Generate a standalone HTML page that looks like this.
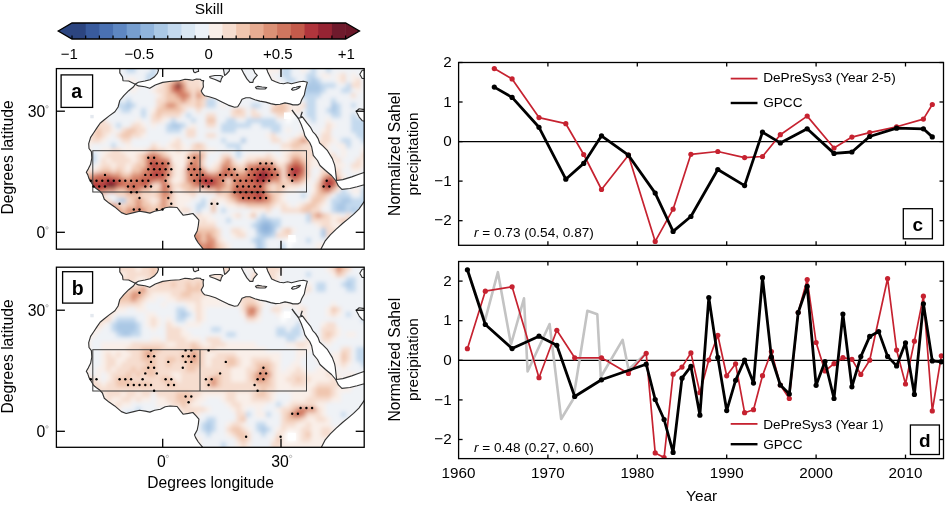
<!DOCTYPE html>
<html><head><meta charset="utf-8"><style>
html,body{margin:0;padding:0;background:#fff;width:946px;height:505px;overflow:hidden}
svg{display:block;font-family:"Liberation Sans",sans-serif}
text{opacity:0.999}
</style></head><body>
<svg width="946" height="505" viewBox="0 0 946 505">
<rect width="946" height="505" fill="#fff"/>
<rect x="72.00" y="23" width="14.68" height="16" fill="#2c4580"/>
<rect x="85.68" y="23" width="14.68" height="16" fill="#395b9d"/>
<rect x="99.36" y="23" width="14.68" height="16" fill="#4a71b2"/>
<rect x="113.04" y="23" width="14.68" height="16" fill="#5e87c2"/>
<rect x="126.72" y="23" width="14.68" height="16" fill="#769ecf"/>
<rect x="140.40" y="23" width="14.68" height="16" fill="#90b4dc"/>
<rect x="154.08" y="23" width="14.68" height="16" fill="#aac8e5"/>
<rect x="167.76" y="23" width="14.68" height="16" fill="#c3d9ee"/>
<rect x="181.44" y="23" width="14.68" height="16" fill="#d9e7f3"/>
<rect x="195.12" y="23" width="14.68" height="16" fill="#ecf2f8"/>
<rect x="208.80" y="23" width="14.68" height="16" fill="#f9efe9"/>
<rect x="222.48" y="23" width="14.68" height="16" fill="#f6ddcf"/>
<rect x="236.16" y="23" width="14.68" height="16" fill="#f0c6af"/>
<rect x="249.84" y="23" width="14.68" height="16" fill="#e7ac92"/>
<rect x="263.52" y="23" width="14.68" height="16" fill="#dc9176"/>
<rect x="277.20" y="23" width="14.68" height="16" fill="#d0765f"/>
<rect x="290.88" y="23" width="14.68" height="16" fill="#c45b4b"/>
<rect x="304.56" y="23" width="14.68" height="16" fill="#b0353c"/>
<rect x="318.24" y="23" width="14.68" height="16" fill="#962433"/>
<rect x="331.92" y="23" width="13.68" height="16" fill="#6f1a2c"/>
<polygon points="72.0,23 58.2,31 72.0,39" fill="#2c4580"/>
<polygon points="345.10,23 359.5,31 345.10,39" fill="#6a1628"/>
<polygon points="58.2,31 72.0,23 345.60,23 359.5,31 345.60,39 72.0,39" fill="none" stroke="#000" stroke-width="1.3" stroke-linejoin="miter"/>
<line x1="72.00" y1="39" x2="72.00" y2="35.5" stroke="#000" stroke-width="1.2"/>
<line x1="85.68" y1="39" x2="85.68" y2="35.5" stroke="#000" stroke-width="1.2"/>
<line x1="99.36" y1="39" x2="99.36" y2="35.5" stroke="#000" stroke-width="1.2"/>
<line x1="113.04" y1="39" x2="113.04" y2="35.5" stroke="#000" stroke-width="1.2"/>
<line x1="126.72" y1="39" x2="126.72" y2="35.5" stroke="#000" stroke-width="1.2"/>
<line x1="140.40" y1="39" x2="140.40" y2="35.5" stroke="#000" stroke-width="1.2"/>
<line x1="154.08" y1="39" x2="154.08" y2="35.5" stroke="#000" stroke-width="1.2"/>
<line x1="167.76" y1="39" x2="167.76" y2="35.5" stroke="#000" stroke-width="1.2"/>
<line x1="181.44" y1="39" x2="181.44" y2="35.5" stroke="#000" stroke-width="1.2"/>
<line x1="195.12" y1="39" x2="195.12" y2="35.5" stroke="#000" stroke-width="1.2"/>
<line x1="208.80" y1="39" x2="208.80" y2="35.5" stroke="#000" stroke-width="1.2"/>
<line x1="222.48" y1="39" x2="222.48" y2="35.5" stroke="#000" stroke-width="1.2"/>
<line x1="236.16" y1="39" x2="236.16" y2="35.5" stroke="#000" stroke-width="1.2"/>
<line x1="249.84" y1="39" x2="249.84" y2="35.5" stroke="#000" stroke-width="1.2"/>
<line x1="263.52" y1="39" x2="263.52" y2="35.5" stroke="#000" stroke-width="1.2"/>
<line x1="277.20" y1="39" x2="277.20" y2="35.5" stroke="#000" stroke-width="1.2"/>
<line x1="290.88" y1="39" x2="290.88" y2="35.5" stroke="#000" stroke-width="1.2"/>
<line x1="304.56" y1="39" x2="304.56" y2="35.5" stroke="#000" stroke-width="1.2"/>
<line x1="318.24" y1="39" x2="318.24" y2="35.5" stroke="#000" stroke-width="1.2"/>
<line x1="331.92" y1="39" x2="331.92" y2="35.5" stroke="#000" stroke-width="1.2"/>
<line x1="345.60" y1="39" x2="345.60" y2="35.5" stroke="#000" stroke-width="1.2"/>
<text x="69.2" y="59.2" text-anchor="middle" font-size="15">−1</text>
<text x="139.2" y="59.2" text-anchor="middle" font-size="15">−0.5</text>
<text x="208.7" y="59.2" text-anchor="middle" font-size="15">0</text>
<text x="277.9" y="59.2" text-anchor="middle" font-size="15">+0.5</text>
<text x="346.2" y="59.2" text-anchor="middle" font-size="15">+1</text>
<text x="209" y="13.6" text-anchor="middle" font-size="15.5">Skill</text>
<defs><clipPath id="landa">
<polygon points="266.0,60.0 266.7,69.0 267.7,71.9 269.7,75.9 271.7,79.9 275.6,81.8 279.6,83.3 283.6,83.8 287.5,82.8 291.5,83.8 295.4,82.8 299.4,81.8 303.4,81.3 307.3,82.3 306.3,85.8 305.3,89.8 304.3,95.0 301.8,99.5 300.3,103.4 297.8,104.9 292.9,104.9 289.9,103.9 285.0,102.9 280.0,104.2 275.6,104.6 270.7,103.6 265.7,102.1 259.8,101.1 254.9,99.7 249.9,97.7 245.9,97.7 242.0,99.3 240.4,102.5 237.7,106.7 234.6,107.2 228.2,105.1 221.9,102.0 215.5,98.8 209.2,96.7 204.7,95.8 202.4,93.3 201.2,91.0 203.4,86.9 203.1,82.8 203.7,80.6 201.8,80.6 200.2,79.3 196.4,79.0 192.6,80.3 188.8,79.6 185.0,79.3 179.6,80.8 171.1,81.3 162.7,82.4 155.3,85.0 149.8,88.3 144.9,86.7 138.4,85.9 135.2,84.2 133.6,86.7 128.7,90.7 123.8,95.6 119.8,100.5 118.1,107.0 114.9,111.8 109.2,115.9 104.0,120.0 100.1,123.2 96.9,127.9 93.7,132.7 90.6,137.4 88.7,143.7 89.0,148.5 91.4,151.7 91.8,158.0 90.6,164.3 88.2,169.1 86.3,172.2 87.7,174.6 89.0,178.6 90.9,181.7 93.7,186.5 96.5,188.8 99.3,190.7 102.4,194.0 104.3,199.3 109.0,203.1 114.7,206.9 121.4,212.6 126.2,214.5 133.8,212.6 139.5,211.2 145.2,212.1 149.9,213.1 154.7,211.2 160.4,210.2 165.2,207.8 170.0,207.0 177.1,207.5 180.4,211.9 183.1,215.2 188.5,214.4 192.9,213.5 196.1,216.8 198.9,220.1 198.3,225.5 197.2,231.0 194.5,235.9 195.6,238.6 198.3,243.0 202.7,248.4 205.0,256.0 318.0,256.0 321.4,248.3 325.0,241.2 330.3,234.9 335.7,229.6 342.8,223.3 348.2,218.9 353.5,214.4 358.9,209.1 363.3,202.8 366.0,199.0 370.0,199.0 370.0,185.0 363.3,185.0 357.1,186.8 349.9,188.5 341.9,189.4 338.4,185.9 335.7,180.5 331.5,175.5 325.5,170.5 320.0,165.5 317.5,160.5 313.3,155.4 311.7,147.0 309.7,142.5 306.7,138.6 304.8,135.6 303.8,131.6 301.3,124.7 298.3,118.3 302.8,117.3 306.7,122.7 310.7,127.7 312.7,131.6 315.6,134.6 318.1,138.6 319.6,143.0 322.8,145.9 327.5,150.7 332.3,158.6 334.6,164.9 335.2,168.0 335.7,172.5 336.6,180.5 342.8,179.6 351.7,176.9 358.9,174.3 363.3,172.8 370.0,171.0 370.0,122.0 362.2,120.7 359.2,117.1 356.8,112.4 356.3,111.2 359.2,108.8 362.8,109.4 370.0,109.5 370.0,78.5 362.2,78.5 359.8,74.3 362.2,70.2 370.0,70.0 370.0,60.0"/>
<polygon points="119.8,60.0 119.8,72.9 122.5,76.9 123.0,80.7 128.7,81.0 135.2,84.2 138.4,82.3 144.9,81.0 150.0,79.7 154.2,77.1 157.4,73.4 158.5,70.2 157.9,68.6 157.5,60.0"/>
<polygon points="241.5,60.0 241.5,69.0 244.0,73.9 246.9,78.9 249.9,82.3 252.9,82.3 253.4,79.9 255.8,76.9 257.3,75.4 254.9,72.9 253.9,70.5 252.9,69.0 253.0,60.0"/>
<polygon points="223.4,60.0 223.4,69.0 224.0,72.0 224.6,75.5 226.5,74.0 229.4,70.8 228.8,60.0"/>
<polygon points="209.7,76.5 210.0,77.7 215.0,79.5 220.5,81.9 221.5,78.4 223.0,76.5 220.5,75.5 214.8,75.5"/>
<polygon points="193.2,60.0 193.2,69.2 193.6,71.7 195.1,72.7 197.0,71.7 198.6,71.4 198.3,69.2 198.3,60.0"/>
<polygon points="255.5,87.3 258.0,86.4 262.0,87.0 266.7,87.5 265.0,89.0 260.0,89.0 256.5,88.6"/>
<polygon points="291.5,89.5 293.0,87.8 296.0,87.3 298.5,86.6 300.4,86.3 299.0,88.0 296.0,89.5 293.0,90.3"/>
</clipPath>
<clipPath id="framea"><rect x="56.4" y="68.6" width="307.8" height="180.6"/></clipPath>
<filter id="blura" x="0" y="0" width="946" height="505" filterUnits="userSpaceOnUse"><feGaussianBlur stdDeviation="1.9"/></filter>
</defs>
<g clip-path="url(#framea)"><g clip-path="url(#landa)">
<g filter="url(#blura)">
<rect x="46" y="58" width="80" height="5" fill="#eff2f6"/><rect x="126" y="58" width="10" height="5" fill="#c3d9ee"/><rect x="136" y="58" width="15" height="5" fill="#eff2f6"/><rect x="151" y="58" width="5" height="5" fill="#c3d9ee"/><rect x="156" y="58" width="10" height="5" fill="#eff2f6"/><rect x="166" y="58" width="10" height="5" fill="#f0c6af"/><rect x="176" y="58" width="5" height="5" fill="#f9efe9"/><rect x="181" y="58" width="85" height="5" fill="#eff2f6"/><rect x="266" y="58" width="15" height="5" fill="#f9efe9"/><rect x="281" y="58" width="10" height="5" fill="#c3d9ee"/><rect x="291" y="58" width="10" height="5" fill="#eff2f6"/><rect x="301" y="58" width="5" height="5" fill="#f9efe9"/><rect x="306" y="58" width="5" height="5" fill="#eff2f6"/><rect x="311" y="58" width="5" height="5" fill="#c3d9ee"/><rect x="316" y="58" width="10" height="5" fill="#eff2f6"/><rect x="326" y="58" width="5" height="5" fill="#c3d9ee"/><rect x="331" y="58" width="45" height="5" fill="#eff2f6"/><rect x="46" y="63" width="80" height="5" fill="#eff2f6"/><rect x="126" y="63" width="10" height="5" fill="#c3d9ee"/><rect x="136" y="63" width="15" height="5" fill="#eff2f6"/><rect x="151" y="63" width="5" height="5" fill="#c3d9ee"/><rect x="156" y="63" width="10" height="5" fill="#eff2f6"/><rect x="166" y="63" width="10" height="5" fill="#f0c6af"/><rect x="176" y="63" width="5" height="5" fill="#f9efe9"/><rect x="181" y="63" width="85" height="5" fill="#eff2f6"/><rect x="266" y="63" width="15" height="5" fill="#f9efe9"/><rect x="281" y="63" width="10" height="5" fill="#c3d9ee"/><rect x="291" y="63" width="10" height="5" fill="#eff2f6"/><rect x="301" y="63" width="5" height="5" fill="#f9efe9"/><rect x="306" y="63" width="5" height="5" fill="#eff2f6"/><rect x="311" y="63" width="5" height="5" fill="#c3d9ee"/><rect x="316" y="63" width="10" height="5" fill="#eff2f6"/><rect x="326" y="63" width="5" height="5" fill="#c3d9ee"/><rect x="331" y="63" width="45" height="5" fill="#eff2f6"/><rect x="46" y="68" width="80" height="5" fill="#eff2f6"/><rect x="126" y="68" width="10" height="5" fill="#c3d9ee"/><rect x="136" y="68" width="15" height="5" fill="#eff2f6"/><rect x="151" y="68" width="5" height="5" fill="#c3d9ee"/><rect x="156" y="68" width="10" height="5" fill="#eff2f6"/><rect x="166" y="68" width="10" height="5" fill="#f0c6af"/><rect x="176" y="68" width="5" height="5" fill="#f9efe9"/><rect x="181" y="68" width="85" height="5" fill="#eff2f6"/><rect x="266" y="68" width="15" height="5" fill="#f9efe9"/><rect x="281" y="68" width="10" height="5" fill="#c3d9ee"/><rect x="291" y="68" width="10" height="5" fill="#eff2f6"/><rect x="301" y="68" width="5" height="5" fill="#f9efe9"/><rect x="306" y="68" width="5" height="5" fill="#eff2f6"/><rect x="311" y="68" width="5" height="5" fill="#c3d9ee"/><rect x="316" y="68" width="10" height="5" fill="#eff2f6"/><rect x="326" y="68" width="5" height="5" fill="#c3d9ee"/><rect x="331" y="68" width="45" height="5" fill="#eff2f6"/><rect x="46" y="73" width="100" height="5" fill="#eff2f6"/><rect x="146" y="73" width="10" height="5" fill="#c3d9ee"/><rect x="156" y="73" width="5" height="5" fill="#eff2f6"/><rect x="161" y="73" width="5" height="5" fill="#f9efe9"/><rect x="166" y="73" width="5" height="5" fill="#f0c6af"/><rect x="171" y="73" width="5" height="5" fill="#e7ac92"/><rect x="176" y="73" width="5" height="5" fill="#f6ddcf"/><rect x="181" y="73" width="30" height="5" fill="#f9efe9"/><rect x="211" y="73" width="55" height="5" fill="#eff2f6"/><rect x="266" y="73" width="5" height="5" fill="#f9efe9"/><rect x="271" y="73" width="10" height="5" fill="#eff2f6"/><rect x="281" y="73" width="10" height="5" fill="#c3d9ee"/><rect x="291" y="73" width="15" height="5" fill="#eff2f6"/><rect x="306" y="73" width="10" height="5" fill="#c3d9ee"/><rect x="316" y="73" width="5" height="5" fill="#eff2f6"/><rect x="321" y="73" width="10" height="5" fill="#f9efe9"/><rect x="331" y="73" width="5" height="5" fill="#eff2f6"/><rect x="336" y="73" width="5" height="5" fill="#f9efe9"/><rect x="341" y="73" width="5" height="5" fill="#f6ddcf"/><rect x="346" y="73" width="5" height="5" fill="#eff2f6"/><rect x="351" y="73" width="5" height="5" fill="#f9efe9"/><rect x="356" y="73" width="20" height="5" fill="#eff2f6"/><rect x="46" y="78" width="80" height="5" fill="#eff2f6"/><rect x="126" y="78" width="10" height="5" fill="#f9efe9"/><rect x="136" y="78" width="10" height="5" fill="#eff2f6"/><rect x="146" y="78" width="5" height="5" fill="#c3d9ee"/><rect x="151" y="78" width="5" height="5" fill="#eff2f6"/><rect x="156" y="78" width="5" height="5" fill="#f9efe9"/><rect x="161" y="78" width="10" height="5" fill="#f6ddcf"/><rect x="171" y="78" width="5" height="5" fill="#f0c6af"/><rect x="176" y="78" width="5" height="5" fill="#dc9176"/><rect x="181" y="78" width="5" height="5" fill="#f0c6af"/><rect x="186" y="78" width="15" height="5" fill="#f6ddcf"/><rect x="201" y="78" width="5" height="5" fill="#f9efe9"/><rect x="206" y="78" width="5" height="5" fill="#f6ddcf"/><rect x="211" y="78" width="55" height="5" fill="#eff2f6"/><rect x="266" y="78" width="10" height="5" fill="#f9efe9"/><rect x="276" y="78" width="10" height="5" fill="#eff2f6"/><rect x="286" y="78" width="10" height="5" fill="#c3d9ee"/><rect x="296" y="78" width="10" height="5" fill="#eff2f6"/><rect x="306" y="78" width="5" height="5" fill="#c3d9ee"/><rect x="311" y="78" width="5" height="5" fill="#aac8e5"/><rect x="316" y="78" width="5" height="5" fill="#c3d9ee"/><rect x="321" y="78" width="15" height="5" fill="#eff2f6"/><rect x="336" y="78" width="5" height="5" fill="#f9efe9"/><rect x="341" y="78" width="5" height="5" fill="#f6ddcf"/><rect x="346" y="78" width="5" height="5" fill="#eff2f6"/><rect x="351" y="78" width="5" height="5" fill="#f9efe9"/><rect x="356" y="78" width="5" height="5" fill="#f6ddcf"/><rect x="361" y="78" width="15" height="5" fill="#eff2f6"/><rect x="46" y="83" width="80" height="5" fill="#eff2f6"/><rect x="126" y="83" width="15" height="5" fill="#f9efe9"/><rect x="141" y="83" width="15" height="5" fill="#eff2f6"/><rect x="156" y="83" width="5" height="5" fill="#f9efe9"/><rect x="161" y="83" width="5" height="5" fill="#f6ddcf"/><rect x="166" y="83" width="5" height="5" fill="#f0c6af"/><rect x="171" y="83" width="5" height="5" fill="#d0765f"/><rect x="176" y="83" width="5" height="5" fill="#6f1a2c"/><rect x="181" y="83" width="5" height="5" fill="#dc9176"/><rect x="186" y="83" width="15" height="5" fill="#f6ddcf"/><rect x="201" y="83" width="5" height="5" fill="#f9efe9"/><rect x="206" y="83" width="5" height="5" fill="#f6ddcf"/><rect x="211" y="83" width="5" height="5" fill="#f9efe9"/><rect x="216" y="83" width="50" height="5" fill="#eff2f6"/><rect x="266" y="83" width="15" height="5" fill="#f9efe9"/><rect x="281" y="83" width="20" height="5" fill="#eff2f6"/><rect x="301" y="83" width="5" height="5" fill="#c3d9ee"/><rect x="306" y="83" width="15" height="5" fill="#aac8e5"/><rect x="321" y="83" width="15" height="5" fill="#c3d9ee"/><rect x="336" y="83" width="10" height="5" fill="#eff2f6"/><rect x="346" y="83" width="5" height="5" fill="#c3d9ee"/><rect x="351" y="83" width="10" height="5" fill="#f6ddcf"/><rect x="361" y="83" width="15" height="5" fill="#eff2f6"/><rect x="46" y="88" width="85" height="5" fill="#eff2f6"/><rect x="131" y="88" width="5" height="5" fill="#f9efe9"/><rect x="136" y="88" width="15" height="5" fill="#eff2f6"/><rect x="151" y="88" width="5" height="5" fill="#f9efe9"/><rect x="156" y="88" width="10" height="5" fill="#f6ddcf"/><rect x="166" y="88" width="5" height="5" fill="#f0c6af"/><rect x="171" y="88" width="5" height="5" fill="#d0765f"/><rect x="176" y="88" width="5" height="5" fill="#c45b4b"/><rect x="181" y="88" width="5" height="5" fill="#dc9176"/><rect x="186" y="88" width="5" height="5" fill="#f0c6af"/><rect x="191" y="88" width="5" height="5" fill="#f6ddcf"/><rect x="196" y="88" width="5" height="5" fill="#f0c6af"/><rect x="201" y="88" width="5" height="5" fill="#f6ddcf"/><rect x="206" y="88" width="5" height="5" fill="#f9efe9"/><rect x="211" y="88" width="60" height="5" fill="#eff2f6"/><rect x="271" y="88" width="20" height="5" fill="#f9efe9"/><rect x="291" y="88" width="5" height="5" fill="#eff2f6"/><rect x="296" y="88" width="10" height="5" fill="#c3d9ee"/><rect x="306" y="88" width="15" height="5" fill="#aac8e5"/><rect x="321" y="88" width="5" height="5" fill="#c3d9ee"/><rect x="326" y="88" width="15" height="5" fill="#eff2f6"/><rect x="341" y="88" width="10" height="5" fill="#c3d9ee"/><rect x="351" y="88" width="5" height="5" fill="#eff2f6"/><rect x="356" y="88" width="5" height="5" fill="#f9efe9"/><rect x="361" y="88" width="15" height="5" fill="#eff2f6"/><rect x="46" y="93" width="110" height="5" fill="#eff2f6"/><rect x="156" y="93" width="5" height="5" fill="#f9efe9"/><rect x="161" y="93" width="5" height="5" fill="#f6ddcf"/><rect x="166" y="93" width="10" height="5" fill="#f0c6af"/><rect x="176" y="93" width="5" height="5" fill="#dc9176"/><rect x="181" y="93" width="5" height="5" fill="#d0765f"/><rect x="186" y="93" width="5" height="5" fill="#dc9176"/><rect x="191" y="93" width="5" height="5" fill="#f6ddcf"/><rect x="196" y="93" width="5" height="5" fill="#dc9176"/><rect x="201" y="93" width="5" height="5" fill="#f0c6af"/><rect x="206" y="93" width="5" height="5" fill="#f6ddcf"/><rect x="211" y="93" width="60" height="5" fill="#eff2f6"/><rect x="271" y="93" width="5" height="5" fill="#f9efe9"/><rect x="276" y="93" width="10" height="5" fill="#f6ddcf"/><rect x="286" y="93" width="5" height="5" fill="#f9efe9"/><rect x="291" y="93" width="5" height="5" fill="#eff2f6"/><rect x="296" y="93" width="5" height="5" fill="#d9e7f3"/><rect x="301" y="93" width="20" height="5" fill="#c3d9ee"/><rect x="321" y="93" width="30" height="5" fill="#eff2f6"/><rect x="351" y="93" width="5" height="5" fill="#f6ddcf"/><rect x="356" y="93" width="20" height="5" fill="#eff2f6"/><rect x="46" y="98" width="70" height="5" fill="#eff2f6"/><rect x="116" y="98" width="5" height="5" fill="#d9e7f3"/><rect x="121" y="98" width="5" height="5" fill="#eff2f6"/><rect x="126" y="98" width="5" height="5" fill="#c3d9ee"/><rect x="131" y="98" width="25" height="5" fill="#eff2f6"/><rect x="156" y="98" width="10" height="5" fill="#f6ddcf"/><rect x="166" y="98" width="15" height="5" fill="#f0c6af"/><rect x="181" y="98" width="5" height="5" fill="#dc9176"/><rect x="186" y="98" width="5" height="5" fill="#f0c6af"/><rect x="191" y="98" width="5" height="5" fill="#f6ddcf"/><rect x="196" y="98" width="5" height="5" fill="#f0c6af"/><rect x="201" y="98" width="5" height="5" fill="#f6ddcf"/><rect x="206" y="98" width="10" height="5" fill="#c3d9ee"/><rect x="216" y="98" width="60" height="5" fill="#eff2f6"/><rect x="276" y="98" width="10" height="5" fill="#f6ddcf"/><rect x="286" y="98" width="10" height="5" fill="#f9efe9"/><rect x="296" y="98" width="10" height="5" fill="#eff2f6"/><rect x="306" y="98" width="10" height="5" fill="#c3d9ee"/><rect x="316" y="98" width="15" height="5" fill="#eff2f6"/><rect x="331" y="98" width="5" height="5" fill="#c3d9ee"/><rect x="336" y="98" width="40" height="5" fill="#eff2f6"/><rect x="46" y="103" width="70" height="5" fill="#eff2f6"/><rect x="116" y="103" width="10" height="5" fill="#c3d9ee"/><rect x="126" y="103" width="5" height="5" fill="#aac8e5"/><rect x="131" y="103" width="5" height="5" fill="#c3d9ee"/><rect x="136" y="103" width="20" height="5" fill="#eff2f6"/><rect x="156" y="103" width="5" height="5" fill="#f6ddcf"/><rect x="161" y="103" width="5" height="5" fill="#f0c6af"/><rect x="166" y="103" width="10" height="5" fill="#dc9176"/><rect x="176" y="103" width="5" height="5" fill="#f0c6af"/><rect x="181" y="103" width="15" height="5" fill="#f6ddcf"/><rect x="196" y="103" width="5" height="5" fill="#f0c6af"/><rect x="201" y="103" width="5" height="5" fill="#f6ddcf"/><rect x="206" y="103" width="10" height="5" fill="#c3d9ee"/><rect x="216" y="103" width="5" height="5" fill="#eff2f6"/><rect x="221" y="103" width="5" height="5" fill="#f9efe9"/><rect x="226" y="103" width="25" height="5" fill="#eff2f6"/><rect x="251" y="103" width="10" height="5" fill="#c3d9ee"/><rect x="261" y="103" width="10" height="5" fill="#eff2f6"/><rect x="271" y="103" width="5" height="5" fill="#f6ddcf"/><rect x="276" y="103" width="10" height="5" fill="#f0c6af"/><rect x="286" y="103" width="5" height="5" fill="#f6ddcf"/><rect x="291" y="103" width="10" height="5" fill="#f9efe9"/><rect x="301" y="103" width="5" height="5" fill="#f6ddcf"/><rect x="306" y="103" width="10" height="5" fill="#c3d9ee"/><rect x="316" y="103" width="15" height="5" fill="#eff2f6"/><rect x="331" y="103" width="5" height="5" fill="#aac8e5"/><rect x="336" y="103" width="5" height="5" fill="#c3d9ee"/><rect x="341" y="103" width="10" height="5" fill="#eff2f6"/><rect x="351" y="103" width="5" height="5" fill="#c3d9ee"/><rect x="356" y="103" width="20" height="5" fill="#eff2f6"/><rect x="46" y="108" width="75" height="5" fill="#eff2f6"/><rect x="121" y="108" width="10" height="5" fill="#c3d9ee"/><rect x="131" y="108" width="10" height="5" fill="#eff2f6"/><rect x="141" y="108" width="5" height="5" fill="#c3d9ee"/><rect x="146" y="108" width="5" height="5" fill="#eff2f6"/><rect x="151" y="108" width="5" height="5" fill="#f9efe9"/><rect x="156" y="108" width="25" height="5" fill="#f0c6af"/><rect x="181" y="108" width="5" height="5" fill="#f6ddcf"/><rect x="186" y="108" width="10" height="5" fill="#eff2f6"/><rect x="196" y="108" width="5" height="5" fill="#f6ddcf"/><rect x="201" y="108" width="30" height="5" fill="#eff2f6"/><rect x="231" y="108" width="5" height="5" fill="#f6ddcf"/><rect x="236" y="108" width="5" height="5" fill="#f0c6af"/><rect x="241" y="108" width="5" height="5" fill="#f6ddcf"/><rect x="246" y="108" width="5" height="5" fill="#eff2f6"/><rect x="251" y="108" width="5" height="5" fill="#f6ddcf"/><rect x="256" y="108" width="15" height="5" fill="#eff2f6"/><rect x="271" y="108" width="15" height="5" fill="#f0c6af"/><rect x="286" y="108" width="5" height="5" fill="#f6ddcf"/><rect x="291" y="108" width="5" height="5" fill="#f9efe9"/><rect x="296" y="108" width="5" height="5" fill="#f6ddcf"/><rect x="301" y="108" width="5" height="5" fill="#eff2f6"/><rect x="306" y="108" width="10" height="5" fill="#c3d9ee"/><rect x="316" y="108" width="10" height="5" fill="#eff2f6"/><rect x="326" y="108" width="5" height="5" fill="#c3d9ee"/><rect x="331" y="108" width="5" height="5" fill="#aac8e5"/><rect x="336" y="108" width="5" height="5" fill="#c3d9ee"/><rect x="341" y="108" width="35" height="5" fill="#eff2f6"/><rect x="46" y="113" width="55" height="5" fill="#f9efe9"/><rect x="101" y="113" width="40" height="5" fill="#eff2f6"/><rect x="141" y="113" width="5" height="5" fill="#c3d9ee"/><rect x="146" y="113" width="5" height="5" fill="#eff2f6"/><rect x="151" y="113" width="5" height="5" fill="#f6ddcf"/><rect x="156" y="113" width="5" height="5" fill="#f0c6af"/><rect x="161" y="113" width="20" height="5" fill="#f6ddcf"/><rect x="181" y="113" width="5" height="5" fill="#eff2f6"/><rect x="186" y="113" width="5" height="5" fill="#c3d9ee"/><rect x="191" y="113" width="15" height="5" fill="#eff2f6"/><rect x="206" y="113" width="10" height="5" fill="#f6ddcf"/><rect x="216" y="113" width="15" height="5" fill="#eff2f6"/><rect x="231" y="113" width="15" height="5" fill="#f6ddcf"/><rect x="246" y="113" width="5" height="5" fill="#eff2f6"/><rect x="251" y="113" width="10" height="5" fill="#f6ddcf"/><rect x="261" y="113" width="15" height="5" fill="#eff2f6"/><rect x="276" y="113" width="10" height="5" fill="#f6ddcf"/><rect x="286" y="113" width="10" height="5" fill="#ffffff"/><rect x="296" y="113" width="10" height="5" fill="#eff2f6"/><rect x="306" y="113" width="10" height="5" fill="#c3d9ee"/><rect x="316" y="113" width="15" height="5" fill="#eff2f6"/><rect x="331" y="113" width="10" height="5" fill="#c3d9ee"/><rect x="341" y="113" width="10" height="5" fill="#eff2f6"/><rect x="351" y="113" width="5" height="5" fill="#c3d9ee"/><rect x="356" y="113" width="20" height="5" fill="#eff2f6"/><rect x="46" y="118" width="60" height="5" fill="#f6ddcf"/><rect x="106" y="118" width="30" height="5" fill="#eff2f6"/><rect x="136" y="118" width="5" height="5" fill="#f9efe9"/><rect x="141" y="118" width="10" height="5" fill="#eff2f6"/><rect x="151" y="118" width="10" height="5" fill="#f6ddcf"/><rect x="161" y="118" width="5" height="5" fill="#f9efe9"/><rect x="166" y="118" width="5" height="5" fill="#eff2f6"/><rect x="171" y="118" width="5" height="5" fill="#c3d9ee"/><rect x="176" y="118" width="15" height="5" fill="#eff2f6"/><rect x="191" y="118" width="5" height="5" fill="#c3d9ee"/><rect x="196" y="118" width="10" height="5" fill="#eff2f6"/><rect x="206" y="118" width="10" height="5" fill="#f0c6af"/><rect x="216" y="118" width="10" height="5" fill="#eff2f6"/><rect x="226" y="118" width="10" height="5" fill="#c3d9ee"/><rect x="236" y="118" width="10" height="5" fill="#eff2f6"/><rect x="246" y="118" width="30" height="5" fill="#c3d9ee"/><rect x="276" y="118" width="10" height="5" fill="#eff2f6"/><rect x="286" y="118" width="5" height="5" fill="#ffffff"/><rect x="291" y="118" width="10" height="5" fill="#eff2f6"/><rect x="301" y="118" width="5" height="5" fill="#f9efe9"/><rect x="306" y="118" width="5" height="5" fill="#eff2f6"/><rect x="311" y="118" width="5" height="5" fill="#c3d9ee"/><rect x="316" y="118" width="10" height="5" fill="#eff2f6"/><rect x="326" y="118" width="5" height="5" fill="#f9efe9"/><rect x="331" y="118" width="20" height="5" fill="#eff2f6"/><rect x="351" y="118" width="25" height="5" fill="#c3d9ee"/><rect x="46" y="123" width="65" height="5" fill="#f6ddcf"/><rect x="111" y="123" width="5" height="5" fill="#eff2f6"/><rect x="116" y="123" width="5" height="5" fill="#c3d9ee"/><rect x="121" y="123" width="10" height="5" fill="#eff2f6"/><rect x="131" y="123" width="10" height="5" fill="#f6ddcf"/><rect x="141" y="123" width="5" height="5" fill="#f9efe9"/><rect x="146" y="123" width="5" height="5" fill="#eff2f6"/><rect x="151" y="123" width="5" height="5" fill="#f9efe9"/><rect x="156" y="123" width="10" height="5" fill="#eff2f6"/><rect x="166" y="123" width="5" height="5" fill="#c3d9ee"/><rect x="171" y="123" width="10" height="5" fill="#aac8e5"/><rect x="181" y="123" width="5" height="5" fill="#c3d9ee"/><rect x="186" y="123" width="5" height="5" fill="#eff2f6"/><rect x="191" y="123" width="5" height="5" fill="#f9efe9"/><rect x="196" y="123" width="10" height="5" fill="#eff2f6"/><rect x="206" y="123" width="10" height="5" fill="#f6ddcf"/><rect x="216" y="123" width="5" height="5" fill="#eff2f6"/><rect x="221" y="123" width="30" height="5" fill="#c3d9ee"/><rect x="251" y="123" width="10" height="5" fill="#eff2f6"/><rect x="261" y="123" width="20" height="5" fill="#c3d9ee"/><rect x="281" y="123" width="20" height="5" fill="#eff2f6"/><rect x="301" y="123" width="5" height="5" fill="#f9efe9"/><rect x="306" y="123" width="20" height="5" fill="#eff2f6"/><rect x="326" y="123" width="5" height="5" fill="#f6ddcf"/><rect x="331" y="123" width="5" height="5" fill="#f9efe9"/><rect x="336" y="123" width="15" height="5" fill="#eff2f6"/><rect x="351" y="123" width="25" height="5" fill="#c3d9ee"/><rect x="46" y="128" width="50" height="5" fill="#f6ddcf"/><rect x="96" y="128" width="5" height="5" fill="#f0c6af"/><rect x="101" y="128" width="10" height="5" fill="#f6ddcf"/><rect x="111" y="128" width="5" height="5" fill="#f9efe9"/><rect x="116" y="128" width="5" height="5" fill="#eff2f6"/><rect x="121" y="128" width="5" height="5" fill="#f6ddcf"/><rect x="126" y="128" width="10" height="5" fill="#f0c6af"/><rect x="136" y="128" width="10" height="5" fill="#f6ddcf"/><rect x="146" y="128" width="20" height="5" fill="#eff2f6"/><rect x="166" y="128" width="15" height="5" fill="#c3d9ee"/><rect x="181" y="128" width="5" height="5" fill="#eff2f6"/><rect x="186" y="128" width="10" height="5" fill="#f6ddcf"/><rect x="196" y="128" width="25" height="5" fill="#eff2f6"/><rect x="221" y="128" width="15" height="5" fill="#c3d9ee"/><rect x="236" y="128" width="35" height="5" fill="#eff2f6"/><rect x="271" y="128" width="10" height="5" fill="#c3d9ee"/><rect x="281" y="128" width="5" height="5" fill="#eff2f6"/><rect x="286" y="128" width="5" height="5" fill="#f9efe9"/><rect x="291" y="128" width="30" height="5" fill="#eff2f6"/><rect x="321" y="128" width="5" height="5" fill="#f9efe9"/><rect x="326" y="128" width="5" height="5" fill="#f6ddcf"/><rect x="331" y="128" width="20" height="5" fill="#eff2f6"/><rect x="351" y="128" width="25" height="5" fill="#c3d9ee"/><rect x="46" y="133" width="50" height="5" fill="#f6ddcf"/><rect x="96" y="133" width="5" height="5" fill="#f0c6af"/><rect x="101" y="133" width="5" height="5" fill="#f6ddcf"/><rect x="106" y="133" width="5" height="5" fill="#f9efe9"/><rect x="111" y="133" width="5" height="5" fill="#eff2f6"/><rect x="116" y="133" width="5" height="5" fill="#f6ddcf"/><rect x="121" y="133" width="10" height="5" fill="#f0c6af"/><rect x="131" y="133" width="10" height="5" fill="#f6ddcf"/><rect x="141" y="133" width="5" height="5" fill="#f9efe9"/><rect x="146" y="133" width="40" height="5" fill="#eff2f6"/><rect x="186" y="133" width="10" height="5" fill="#f6ddcf"/><rect x="196" y="133" width="10" height="5" fill="#eff2f6"/><rect x="206" y="133" width="10" height="5" fill="#f6ddcf"/><rect x="216" y="133" width="50" height="5" fill="#eff2f6"/><rect x="266" y="133" width="5" height="5" fill="#f9efe9"/><rect x="271" y="133" width="5" height="5" fill="#f6ddcf"/><rect x="276" y="133" width="20" height="5" fill="#eff2f6"/><rect x="296" y="133" width="5" height="5" fill="#f9efe9"/><rect x="301" y="133" width="5" height="5" fill="#f6ddcf"/><rect x="306" y="133" width="10" height="5" fill="#f9efe9"/><rect x="316" y="133" width="5" height="5" fill="#eff2f6"/><rect x="321" y="133" width="10" height="5" fill="#f6ddcf"/><rect x="331" y="133" width="25" height="5" fill="#eff2f6"/><rect x="356" y="133" width="20" height="5" fill="#c3d9ee"/><rect x="46" y="138" width="45" height="5" fill="#f9efe9"/><rect x="91" y="138" width="10" height="5" fill="#f6ddcf"/><rect x="101" y="138" width="5" height="5" fill="#f9efe9"/><rect x="106" y="138" width="15" height="5" fill="#eff2f6"/><rect x="121" y="138" width="10" height="5" fill="#f6ddcf"/><rect x="131" y="138" width="40" height="5" fill="#eff2f6"/><rect x="171" y="138" width="5" height="5" fill="#f9efe9"/><rect x="176" y="138" width="5" height="5" fill="#f6ddcf"/><rect x="181" y="138" width="40" height="5" fill="#eff2f6"/><rect x="221" y="138" width="5" height="5" fill="#c3d9ee"/><rect x="226" y="138" width="15" height="5" fill="#eff2f6"/><rect x="241" y="138" width="5" height="5" fill="#aac8e5"/><rect x="246" y="138" width="25" height="5" fill="#eff2f6"/><rect x="271" y="138" width="10" height="5" fill="#f6ddcf"/><rect x="281" y="138" width="5" height="5" fill="#eff2f6"/><rect x="286" y="138" width="5" height="5" fill="#f9efe9"/><rect x="291" y="138" width="5" height="5" fill="#f6ddcf"/><rect x="296" y="138" width="5" height="5" fill="#f0c6af"/><rect x="301" y="138" width="5" height="5" fill="#dc9176"/><rect x="306" y="138" width="10" height="5" fill="#f0c6af"/><rect x="316" y="138" width="5" height="5" fill="#f9efe9"/><rect x="321" y="138" width="10" height="5" fill="#f6ddcf"/><rect x="331" y="138" width="5" height="5" fill="#f9efe9"/><rect x="336" y="138" width="5" height="5" fill="#eff2f6"/><rect x="341" y="138" width="10" height="5" fill="#c3d9ee"/><rect x="351" y="138" width="10" height="5" fill="#eff2f6"/><rect x="361" y="138" width="15" height="5" fill="#c3d9ee"/><rect x="46" y="143" width="45" height="5" fill="#f9efe9"/><rect x="91" y="143" width="20" height="5" fill="#eff2f6"/><rect x="111" y="143" width="5" height="5" fill="#c3d9ee"/><rect x="116" y="143" width="10" height="5" fill="#eff2f6"/><rect x="126" y="143" width="5" height="5" fill="#f9efe9"/><rect x="131" y="143" width="20" height="5" fill="#eff2f6"/><rect x="151" y="143" width="5" height="5" fill="#f6ddcf"/><rect x="156" y="143" width="5" height="5" fill="#f9efe9"/><rect x="161" y="143" width="5" height="5" fill="#eff2f6"/><rect x="166" y="143" width="5" height="5" fill="#f9efe9"/><rect x="171" y="143" width="10" height="5" fill="#f6ddcf"/><rect x="181" y="143" width="5" height="5" fill="#f9efe9"/><rect x="186" y="143" width="5" height="5" fill="#eff2f6"/><rect x="191" y="143" width="5" height="5" fill="#f6ddcf"/><rect x="196" y="143" width="5" height="5" fill="#f0c6af"/><rect x="201" y="143" width="5" height="5" fill="#f6ddcf"/><rect x="206" y="143" width="20" height="5" fill="#eff2f6"/><rect x="226" y="143" width="15" height="5" fill="#c3d9ee"/><rect x="241" y="143" width="40" height="5" fill="#eff2f6"/><rect x="281" y="143" width="10" height="5" fill="#f6ddcf"/><rect x="291" y="143" width="10" height="5" fill="#f0c6af"/><rect x="301" y="143" width="10" height="5" fill="#f6ddcf"/><rect x="311" y="143" width="5" height="5" fill="#f9efe9"/><rect x="316" y="143" width="5" height="5" fill="#f0c6af"/><rect x="321" y="143" width="5" height="5" fill="#f6ddcf"/><rect x="326" y="143" width="5" height="5" fill="#f9efe9"/><rect x="331" y="143" width="5" height="5" fill="#eff2f6"/><rect x="336" y="143" width="10" height="5" fill="#f9efe9"/><rect x="346" y="143" width="5" height="5" fill="#c3d9ee"/><rect x="351" y="143" width="25" height="5" fill="#eff2f6"/><rect x="46" y="148" width="45" height="5" fill="#f9efe9"/><rect x="91" y="148" width="10" height="5" fill="#eff2f6"/><rect x="101" y="148" width="10" height="5" fill="#f9efe9"/><rect x="111" y="148" width="10" height="5" fill="#f6ddcf"/><rect x="121" y="148" width="25" height="5" fill="#f9efe9"/><rect x="146" y="148" width="5" height="5" fill="#f6ddcf"/><rect x="151" y="148" width="5" height="5" fill="#f0c6af"/><rect x="156" y="148" width="10" height="5" fill="#f6ddcf"/><rect x="166" y="148" width="10" height="5" fill="#f9efe9"/><rect x="176" y="148" width="5" height="5" fill="#f6ddcf"/><rect x="181" y="148" width="10" height="5" fill="#f9efe9"/><rect x="191" y="148" width="15" height="5" fill="#f6ddcf"/><rect x="206" y="148" width="10" height="5" fill="#f9efe9"/><rect x="216" y="148" width="20" height="5" fill="#eff2f6"/><rect x="236" y="148" width="5" height="5" fill="#c3d9ee"/><rect x="241" y="148" width="40" height="5" fill="#eff2f6"/><rect x="281" y="148" width="10" height="5" fill="#f9efe9"/><rect x="291" y="148" width="35" height="5" fill="#f6ddcf"/><rect x="326" y="148" width="5" height="5" fill="#f9efe9"/><rect x="331" y="148" width="10" height="5" fill="#eff2f6"/><rect x="341" y="148" width="5" height="5" fill="#f9efe9"/><rect x="346" y="148" width="15" height="5" fill="#eff2f6"/><rect x="361" y="148" width="15" height="5" fill="#f9efe9"/><rect x="46" y="153" width="45" height="5" fill="#f9efe9"/><rect x="91" y="153" width="5" height="5" fill="#c3d9ee"/><rect x="96" y="153" width="5" height="5" fill="#eff2f6"/><rect x="101" y="153" width="5" height="5" fill="#f9efe9"/><rect x="106" y="153" width="20" height="5" fill="#f6ddcf"/><rect x="126" y="153" width="10" height="5" fill="#f9efe9"/><rect x="136" y="153" width="5" height="5" fill="#f6ddcf"/><rect x="141" y="153" width="5" height="5" fill="#f0c6af"/><rect x="146" y="153" width="5" height="5" fill="#dc9176"/><rect x="151" y="153" width="5" height="5" fill="#d0765f"/><rect x="156" y="153" width="5" height="5" fill="#dc9176"/><rect x="161" y="153" width="5" height="5" fill="#f0c6af"/><rect x="166" y="153" width="5" height="5" fill="#f6ddcf"/><rect x="171" y="153" width="15" height="5" fill="#f9efe9"/><rect x="186" y="153" width="5" height="5" fill="#f0c6af"/><rect x="191" y="153" width="10" height="5" fill="#dc9176"/><rect x="201" y="153" width="5" height="5" fill="#f0c6af"/><rect x="206" y="153" width="15" height="5" fill="#eff2f6"/><rect x="221" y="153" width="10" height="5" fill="#f6ddcf"/><rect x="231" y="153" width="5" height="5" fill="#eff2f6"/><rect x="236" y="153" width="5" height="5" fill="#c3d9ee"/><rect x="241" y="153" width="5" height="5" fill="#eff2f6"/><rect x="246" y="153" width="20" height="5" fill="#f9efe9"/><rect x="266" y="153" width="5" height="5" fill="#f6ddcf"/><rect x="271" y="153" width="5" height="5" fill="#f9efe9"/><rect x="276" y="153" width="5" height="5" fill="#eff2f6"/><rect x="281" y="153" width="5" height="5" fill="#f9efe9"/><rect x="286" y="153" width="5" height="5" fill="#f6ddcf"/><rect x="291" y="153" width="10" height="5" fill="#f0c6af"/><rect x="301" y="153" width="15" height="5" fill="#f6ddcf"/><rect x="316" y="153" width="5" height="5" fill="#f9efe9"/><rect x="321" y="153" width="5" height="5" fill="#f6ddcf"/><rect x="326" y="153" width="5" height="5" fill="#f9efe9"/><rect x="331" y="153" width="5" height="5" fill="#f6ddcf"/><rect x="336" y="153" width="5" height="5" fill="#eff2f6"/><rect x="341" y="153" width="5" height="5" fill="#f9efe9"/><rect x="346" y="153" width="15" height="5" fill="#eff2f6"/><rect x="361" y="153" width="15" height="5" fill="#f6ddcf"/><rect x="46" y="158" width="45" height="5" fill="#f9efe9"/><rect x="91" y="158" width="5" height="5" fill="#c3d9ee"/><rect x="96" y="158" width="5" height="5" fill="#eff2f6"/><rect x="101" y="158" width="5" height="5" fill="#f6ddcf"/><rect x="106" y="158" width="5" height="5" fill="#f9efe9"/><rect x="111" y="158" width="20" height="5" fill="#f6ddcf"/><rect x="131" y="158" width="5" height="5" fill="#f9efe9"/><rect x="136" y="158" width="5" height="5" fill="#f6ddcf"/><rect x="141" y="158" width="5" height="5" fill="#f0c6af"/><rect x="146" y="158" width="5" height="5" fill="#d0765f"/><rect x="151" y="158" width="5" height="5" fill="#c45b4b"/><rect x="156" y="158" width="10" height="5" fill="#d0765f"/><rect x="166" y="158" width="5" height="5" fill="#dc9176"/><rect x="171" y="158" width="15" height="5" fill="#f9efe9"/><rect x="186" y="158" width="5" height="5" fill="#f0c6af"/><rect x="191" y="158" width="10" height="5" fill="#dc9176"/><rect x="201" y="158" width="5" height="5" fill="#f6ddcf"/><rect x="206" y="158" width="10" height="5" fill="#eff2f6"/><rect x="216" y="158" width="5" height="5" fill="#f9efe9"/><rect x="221" y="158" width="5" height="5" fill="#f0c6af"/><rect x="226" y="158" width="5" height="5" fill="#dc9176"/><rect x="231" y="158" width="5" height="5" fill="#f6ddcf"/><rect x="236" y="158" width="5" height="5" fill="#eff2f6"/><rect x="241" y="158" width="5" height="5" fill="#f9efe9"/><rect x="246" y="158" width="10" height="5" fill="#f6ddcf"/><rect x="256" y="158" width="15" height="5" fill="#f0c6af"/><rect x="271" y="158" width="5" height="5" fill="#f6ddcf"/><rect x="276" y="158" width="10" height="5" fill="#f9efe9"/><rect x="286" y="158" width="5" height="5" fill="#f6ddcf"/><rect x="291" y="158" width="10" height="5" fill="#dc9176"/><rect x="301" y="158" width="5" height="5" fill="#f0c6af"/><rect x="306" y="158" width="5" height="5" fill="#f6ddcf"/><rect x="311" y="158" width="10" height="5" fill="#f9efe9"/><rect x="321" y="158" width="5" height="5" fill="#f6ddcf"/><rect x="326" y="158" width="10" height="5" fill="#f9efe9"/><rect x="336" y="158" width="5" height="5" fill="#f6ddcf"/><rect x="341" y="158" width="15" height="5" fill="#eff2f6"/><rect x="356" y="158" width="5" height="5" fill="#f6ddcf"/><rect x="361" y="158" width="15" height="5" fill="#f9efe9"/><rect x="46" y="163" width="45" height="5" fill="#f9efe9"/><rect x="91" y="163" width="5" height="5" fill="#eff2f6"/><rect x="96" y="163" width="5" height="5" fill="#f9efe9"/><rect x="101" y="163" width="10" height="5" fill="#f6ddcf"/><rect x="111" y="163" width="5" height="5" fill="#f9efe9"/><rect x="116" y="163" width="10" height="5" fill="#f6ddcf"/><rect x="126" y="163" width="5" height="5" fill="#f9efe9"/><rect x="131" y="163" width="5" height="5" fill="#f6ddcf"/><rect x="136" y="163" width="10" height="5" fill="#f0c6af"/><rect x="146" y="163" width="5" height="5" fill="#d0765f"/><rect x="151" y="163" width="5" height="5" fill="#b0353c"/><rect x="156" y="163" width="10" height="5" fill="#c45b4b"/><rect x="166" y="163" width="5" height="5" fill="#d0765f"/><rect x="171" y="163" width="5" height="5" fill="#f6ddcf"/><rect x="176" y="163" width="10" height="5" fill="#f9efe9"/><rect x="186" y="163" width="5" height="5" fill="#dc9176"/><rect x="191" y="163" width="5" height="5" fill="#d0765f"/><rect x="196" y="163" width="5" height="5" fill="#dc9176"/><rect x="201" y="163" width="5" height="5" fill="#f6ddcf"/><rect x="206" y="163" width="5" height="5" fill="#eff2f6"/><rect x="211" y="163" width="5" height="5" fill="#f9efe9"/><rect x="216" y="163" width="5" height="5" fill="#f6ddcf"/><rect x="221" y="163" width="10" height="5" fill="#dc9176"/><rect x="231" y="163" width="5" height="5" fill="#f0c6af"/><rect x="236" y="163" width="10" height="5" fill="#f6ddcf"/><rect x="246" y="163" width="10" height="5" fill="#dc9176"/><rect x="256" y="163" width="15" height="5" fill="#d0765f"/><rect x="271" y="163" width="5" height="5" fill="#dc9176"/><rect x="276" y="163" width="10" height="5" fill="#f6ddcf"/><rect x="286" y="163" width="5" height="5" fill="#dc9176"/><rect x="291" y="163" width="10" height="5" fill="#c45b4b"/><rect x="301" y="163" width="5" height="5" fill="#dc9176"/><rect x="306" y="163" width="5" height="5" fill="#f6ddcf"/><rect x="311" y="163" width="10" height="5" fill="#f9efe9"/><rect x="321" y="163" width="5" height="5" fill="#f6ddcf"/><rect x="326" y="163" width="20" height="5" fill="#f9efe9"/><rect x="346" y="163" width="5" height="5" fill="#eff2f6"/><rect x="351" y="163" width="10" height="5" fill="#f6ddcf"/><rect x="361" y="163" width="15" height="5" fill="#f9efe9"/><rect x="46" y="168" width="45" height="5" fill="#f6ddcf"/><rect x="91" y="168" width="5" height="5" fill="#f9efe9"/><rect x="96" y="168" width="5" height="5" fill="#f6ddcf"/><rect x="101" y="168" width="10" height="5" fill="#f0c6af"/><rect x="111" y="168" width="5" height="5" fill="#f6ddcf"/><rect x="116" y="168" width="5" height="5" fill="#f0c6af"/><rect x="121" y="168" width="5" height="5" fill="#f6ddcf"/><rect x="126" y="168" width="5" height="5" fill="#f9efe9"/><rect x="131" y="168" width="10" height="5" fill="#f0c6af"/><rect x="141" y="168" width="5" height="5" fill="#dc9176"/><rect x="146" y="168" width="5" height="5" fill="#d0765f"/><rect x="151" y="168" width="15" height="5" fill="#c45b4b"/><rect x="166" y="168" width="5" height="5" fill="#dc9176"/><rect x="171" y="168" width="5" height="5" fill="#f6ddcf"/><rect x="176" y="168" width="5" height="5" fill="#f9efe9"/><rect x="181" y="168" width="5" height="5" fill="#f6ddcf"/><rect x="186" y="168" width="15" height="5" fill="#d0765f"/><rect x="201" y="168" width="5" height="5" fill="#dc9176"/><rect x="206" y="168" width="10" height="5" fill="#f6ddcf"/><rect x="216" y="168" width="5" height="5" fill="#f0c6af"/><rect x="221" y="168" width="10" height="5" fill="#d0765f"/><rect x="231" y="168" width="5" height="5" fill="#dc9176"/><rect x="236" y="168" width="10" height="5" fill="#f0c6af"/><rect x="246" y="168" width="5" height="5" fill="#d0765f"/><rect x="251" y="168" width="10" height="5" fill="#c45b4b"/><rect x="261" y="168" width="5" height="5" fill="#b0353c"/><rect x="266" y="168" width="5" height="5" fill="#c45b4b"/><rect x="271" y="168" width="5" height="5" fill="#d0765f"/><rect x="276" y="168" width="5" height="5" fill="#dc9176"/><rect x="281" y="168" width="5" height="5" fill="#f6ddcf"/><rect x="286" y="168" width="5" height="5" fill="#d0765f"/><rect x="291" y="168" width="10" height="5" fill="#b0353c"/><rect x="301" y="168" width="5" height="5" fill="#d0765f"/><rect x="306" y="168" width="5" height="5" fill="#f6ddcf"/><rect x="311" y="168" width="10" height="5" fill="#eff2f6"/><rect x="321" y="168" width="5" height="5" fill="#f6ddcf"/><rect x="326" y="168" width="5" height="5" fill="#f9efe9"/><rect x="331" y="168" width="10" height="5" fill="#f6ddcf"/><rect x="341" y="168" width="10" height="5" fill="#eff2f6"/><rect x="351" y="168" width="10" height="5" fill="#f9efe9"/><rect x="361" y="168" width="15" height="5" fill="#eff2f6"/><rect x="46" y="173" width="45" height="5" fill="#f0c6af"/><rect x="91" y="173" width="5" height="5" fill="#dc9176"/><rect x="96" y="173" width="15" height="5" fill="#d0765f"/><rect x="111" y="173" width="10" height="5" fill="#dc9176"/><rect x="121" y="173" width="10" height="5" fill="#f0c6af"/><rect x="131" y="173" width="10" height="5" fill="#dc9176"/><rect x="141" y="173" width="10" height="5" fill="#d0765f"/><rect x="151" y="173" width="10" height="5" fill="#b0353c"/><rect x="161" y="173" width="5" height="5" fill="#c45b4b"/><rect x="166" y="173" width="5" height="5" fill="#dc9176"/><rect x="171" y="173" width="5" height="5" fill="#f6ddcf"/><rect x="176" y="173" width="5" height="5" fill="#f9efe9"/><rect x="181" y="173" width="5" height="5" fill="#f6ddcf"/><rect x="186" y="173" width="5" height="5" fill="#dc9176"/><rect x="191" y="173" width="10" height="5" fill="#d0765f"/><rect x="201" y="173" width="5" height="5" fill="#c45b4b"/><rect x="206" y="173" width="5" height="5" fill="#d0765f"/><rect x="211" y="173" width="5" height="5" fill="#dc9176"/><rect x="216" y="173" width="5" height="5" fill="#d0765f"/><rect x="221" y="173" width="5" height="5" fill="#c45b4b"/><rect x="226" y="173" width="10" height="5" fill="#d0765f"/><rect x="236" y="173" width="10" height="5" fill="#dc9176"/><rect x="246" y="173" width="5" height="5" fill="#d0765f"/><rect x="251" y="173" width="5" height="5" fill="#c45b4b"/><rect x="256" y="173" width="5" height="5" fill="#b0353c"/><rect x="261" y="173" width="5" height="5" fill="#6f1a2c"/><rect x="266" y="173" width="5" height="5" fill="#b0353c"/><rect x="271" y="173" width="5" height="5" fill="#c45b4b"/><rect x="276" y="173" width="5" height="5" fill="#d0765f"/><rect x="281" y="173" width="5" height="5" fill="#f6ddcf"/><rect x="286" y="173" width="5" height="5" fill="#d0765f"/><rect x="291" y="173" width="5" height="5" fill="#b0353c"/><rect x="296" y="173" width="5" height="5" fill="#c45b4b"/><rect x="301" y="173" width="5" height="5" fill="#dc9176"/><rect x="306" y="173" width="5" height="5" fill="#f6ddcf"/><rect x="311" y="173" width="5" height="5" fill="#eff2f6"/><rect x="316" y="173" width="5" height="5" fill="#f9efe9"/><rect x="321" y="173" width="5" height="5" fill="#f0c6af"/><rect x="326" y="173" width="10" height="5" fill="#dc9176"/><rect x="336" y="173" width="5" height="5" fill="#f6ddcf"/><rect x="341" y="173" width="5" height="5" fill="#f9efe9"/><rect x="346" y="173" width="30" height="5" fill="#eff2f6"/><rect x="46" y="178" width="45" height="5" fill="#d0765f"/><rect x="91" y="178" width="15" height="5" fill="#c45b4b"/><rect x="106" y="178" width="10" height="5" fill="#b0353c"/><rect x="116" y="178" width="5" height="5" fill="#c45b4b"/><rect x="121" y="178" width="5" height="5" fill="#d0765f"/><rect x="126" y="178" width="5" height="5" fill="#dc9176"/><rect x="131" y="178" width="10" height="5" fill="#d0765f"/><rect x="141" y="178" width="10" height="5" fill="#c45b4b"/><rect x="151" y="178" width="5" height="5" fill="#d0765f"/><rect x="156" y="178" width="5" height="5" fill="#dc9176"/><rect x="161" y="178" width="5" height="5" fill="#d0765f"/><rect x="166" y="178" width="5" height="5" fill="#f0c6af"/><rect x="171" y="178" width="10" height="5" fill="#f9efe9"/><rect x="181" y="178" width="5" height="5" fill="#f6ddcf"/><rect x="186" y="178" width="5" height="5" fill="#dc9176"/><rect x="191" y="178" width="5" height="5" fill="#d0765f"/><rect x="196" y="178" width="5" height="5" fill="#c45b4b"/><rect x="201" y="178" width="15" height="5" fill="#b0353c"/><rect x="216" y="178" width="5" height="5" fill="#d0765f"/><rect x="221" y="178" width="5" height="5" fill="#dc9176"/><rect x="226" y="178" width="5" height="5" fill="#f6ddcf"/><rect x="231" y="178" width="5" height="5" fill="#dc9176"/><rect x="236" y="178" width="10" height="5" fill="#d0765f"/><rect x="246" y="178" width="10" height="5" fill="#c45b4b"/><rect x="256" y="178" width="10" height="5" fill="#b0353c"/><rect x="266" y="178" width="5" height="5" fill="#c45b4b"/><rect x="271" y="178" width="10" height="5" fill="#dc9176"/><rect x="281" y="178" width="5" height="5" fill="#f6ddcf"/><rect x="286" y="178" width="5" height="5" fill="#f0c6af"/><rect x="291" y="178" width="5" height="5" fill="#d0765f"/><rect x="296" y="178" width="5" height="5" fill="#dc9176"/><rect x="301" y="178" width="5" height="5" fill="#f0c6af"/><rect x="306" y="178" width="5" height="5" fill="#f9efe9"/><rect x="311" y="178" width="5" height="5" fill="#eff2f6"/><rect x="316" y="178" width="5" height="5" fill="#f6ddcf"/><rect x="321" y="178" width="5" height="5" fill="#d0765f"/><rect x="326" y="178" width="5" height="5" fill="#b0353c"/><rect x="331" y="178" width="5" height="5" fill="#c45b4b"/><rect x="336" y="178" width="5" height="5" fill="#dc9176"/><rect x="341" y="178" width="5" height="5" fill="#f9efe9"/><rect x="346" y="178" width="30" height="5" fill="#eff2f6"/><rect x="46" y="183" width="45" height="5" fill="#c45b4b"/><rect x="91" y="183" width="15" height="5" fill="#b0353c"/><rect x="106" y="183" width="10" height="5" fill="#6f1a2c"/><rect x="116" y="183" width="5" height="5" fill="#c45b4b"/><rect x="121" y="183" width="10" height="5" fill="#d0765f"/><rect x="131" y="183" width="5" height="5" fill="#c45b4b"/><rect x="136" y="183" width="5" height="5" fill="#d0765f"/><rect x="141" y="183" width="5" height="5" fill="#c45b4b"/><rect x="146" y="183" width="5" height="5" fill="#d0765f"/><rect x="151" y="183" width="10" height="5" fill="#f6ddcf"/><rect x="161" y="183" width="5" height="5" fill="#d0765f"/><rect x="166" y="183" width="5" height="5" fill="#dc9176"/><rect x="171" y="183" width="10" height="5" fill="#f6ddcf"/><rect x="181" y="183" width="10" height="5" fill="#f0c6af"/><rect x="191" y="183" width="5" height="5" fill="#dc9176"/><rect x="196" y="183" width="5" height="5" fill="#d0765f"/><rect x="201" y="183" width="5" height="5" fill="#c45b4b"/><rect x="206" y="183" width="5" height="5" fill="#b0353c"/><rect x="211" y="183" width="5" height="5" fill="#c45b4b"/><rect x="216" y="183" width="5" height="5" fill="#d0765f"/><rect x="221" y="183" width="5" height="5" fill="#dc9176"/><rect x="226" y="183" width="5" height="5" fill="#f0c6af"/><rect x="231" y="183" width="5" height="5" fill="#dc9176"/><rect x="236" y="183" width="20" height="5" fill="#d0765f"/><rect x="256" y="183" width="5" height="5" fill="#c45b4b"/><rect x="261" y="183" width="5" height="5" fill="#d0765f"/><rect x="266" y="183" width="5" height="5" fill="#f0c6af"/><rect x="271" y="183" width="5" height="5" fill="#f6ddcf"/><rect x="276" y="183" width="10" height="5" fill="#f0c6af"/><rect x="286" y="183" width="15" height="5" fill="#f6ddcf"/><rect x="301" y="183" width="5" height="5" fill="#f9efe9"/><rect x="306" y="183" width="5" height="5" fill="#eff2f6"/><rect x="311" y="183" width="5" height="5" fill="#f9efe9"/><rect x="316" y="183" width="5" height="5" fill="#f0c6af"/><rect x="321" y="183" width="5" height="5" fill="#c45b4b"/><rect x="326" y="183" width="5" height="5" fill="#b0353c"/><rect x="331" y="183" width="5" height="5" fill="#c45b4b"/><rect x="336" y="183" width="5" height="5" fill="#f0c6af"/><rect x="341" y="183" width="35" height="5" fill="#eff2f6"/><rect x="46" y="188" width="45" height="5" fill="#d0765f"/><rect x="91" y="188" width="10" height="5" fill="#c45b4b"/><rect x="101" y="188" width="5" height="5" fill="#d0765f"/><rect x="106" y="188" width="10" height="5" fill="#dc9176"/><rect x="116" y="188" width="10" height="5" fill="#f0c6af"/><rect x="126" y="188" width="5" height="5" fill="#dc9176"/><rect x="131" y="188" width="5" height="5" fill="#d0765f"/><rect x="136" y="188" width="5" height="5" fill="#dc9176"/><rect x="141" y="188" width="10" height="5" fill="#f0c6af"/><rect x="151" y="188" width="5" height="5" fill="#f6ddcf"/><rect x="156" y="188" width="5" height="5" fill="#f0c6af"/><rect x="161" y="188" width="5" height="5" fill="#d0765f"/><rect x="166" y="188" width="5" height="5" fill="#dc9176"/><rect x="171" y="188" width="5" height="5" fill="#f6ddcf"/><rect x="176" y="188" width="5" height="5" fill="#f9efe9"/><rect x="181" y="188" width="5" height="5" fill="#f6ddcf"/><rect x="186" y="188" width="10" height="5" fill="#f0c6af"/><rect x="196" y="188" width="10" height="5" fill="#f6ddcf"/><rect x="206" y="188" width="10" height="5" fill="#f0c6af"/><rect x="216" y="188" width="5" height="5" fill="#dc9176"/><rect x="221" y="188" width="10" height="5" fill="#f0c6af"/><rect x="231" y="188" width="5" height="5" fill="#d0765f"/><rect x="236" y="188" width="25" height="5" fill="#c45b4b"/><rect x="261" y="188" width="5" height="5" fill="#d0765f"/><rect x="266" y="188" width="5" height="5" fill="#f0c6af"/><rect x="271" y="188" width="5" height="5" fill="#f6ddcf"/><rect x="276" y="188" width="5" height="5" fill="#f0c6af"/><rect x="281" y="188" width="5" height="5" fill="#f6ddcf"/><rect x="286" y="188" width="10" height="5" fill="#f9efe9"/><rect x="296" y="188" width="15" height="5" fill="#eff2f6"/><rect x="311" y="188" width="5" height="5" fill="#f9efe9"/><rect x="316" y="188" width="5" height="5" fill="#f0c6af"/><rect x="321" y="188" width="5" height="5" fill="#dc9176"/><rect x="326" y="188" width="5" height="5" fill="#d0765f"/><rect x="331" y="188" width="5" height="5" fill="#f0c6af"/><rect x="336" y="188" width="5" height="5" fill="#f9efe9"/><rect x="341" y="188" width="5" height="5" fill="#c3d9ee"/><rect x="346" y="188" width="5" height="5" fill="#eff2f6"/><rect x="351" y="188" width="10" height="5" fill="#f9efe9"/><rect x="361" y="188" width="15" height="5" fill="#c3d9ee"/><rect x="46" y="193" width="50" height="5" fill="#d0765f"/><rect x="96" y="193" width="10" height="5" fill="#f6ddcf"/><rect x="106" y="193" width="10" height="5" fill="#eff2f6"/><rect x="116" y="193" width="10" height="5" fill="#f6ddcf"/><rect x="126" y="193" width="15" height="5" fill="#f0c6af"/><rect x="141" y="193" width="15" height="5" fill="#f6ddcf"/><rect x="156" y="193" width="5" height="5" fill="#f0c6af"/><rect x="161" y="193" width="10" height="5" fill="#dc9176"/><rect x="171" y="193" width="5" height="5" fill="#f6ddcf"/><rect x="176" y="193" width="15" height="5" fill="#f9efe9"/><rect x="191" y="193" width="5" height="5" fill="#f6ddcf"/><rect x="196" y="193" width="20" height="5" fill="#eff2f6"/><rect x="216" y="193" width="10" height="5" fill="#f6ddcf"/><rect x="226" y="193" width="5" height="5" fill="#f0c6af"/><rect x="231" y="193" width="5" height="5" fill="#dc9176"/><rect x="236" y="193" width="5" height="5" fill="#d0765f"/><rect x="241" y="193" width="15" height="5" fill="#c45b4b"/><rect x="256" y="193" width="5" height="5" fill="#b0353c"/><rect x="261" y="193" width="5" height="5" fill="#c45b4b"/><rect x="266" y="193" width="5" height="5" fill="#dc9176"/><rect x="271" y="193" width="5" height="5" fill="#f0c6af"/><rect x="276" y="193" width="5" height="5" fill="#f6ddcf"/><rect x="281" y="193" width="5" height="5" fill="#f9efe9"/><rect x="286" y="193" width="15" height="5" fill="#eff2f6"/><rect x="301" y="193" width="5" height="5" fill="#c3d9ee"/><rect x="306" y="193" width="5" height="5" fill="#eff2f6"/><rect x="311" y="193" width="5" height="5" fill="#f6ddcf"/><rect x="316" y="193" width="10" height="5" fill="#f0c6af"/><rect x="326" y="193" width="5" height="5" fill="#f6ddcf"/><rect x="331" y="193" width="5" height="5" fill="#eff2f6"/><rect x="336" y="193" width="15" height="5" fill="#c3d9ee"/><rect x="351" y="193" width="10" height="5" fill="#eff2f6"/><rect x="361" y="193" width="15" height="5" fill="#c3d9ee"/><rect x="46" y="198" width="50" height="5" fill="#d0765f"/><rect x="96" y="198" width="5" height="5" fill="#dc9176"/><rect x="101" y="198" width="10" height="5" fill="#f6ddcf"/><rect x="111" y="198" width="5" height="5" fill="#eff2f6"/><rect x="116" y="198" width="5" height="5" fill="#c3d9ee"/><rect x="121" y="198" width="5" height="5" fill="#aac8e5"/><rect x="126" y="198" width="5" height="5" fill="#f6ddcf"/><rect x="131" y="198" width="5" height="5" fill="#f0c6af"/><rect x="136" y="198" width="5" height="5" fill="#dc9176"/><rect x="141" y="198" width="5" height="5" fill="#f0c6af"/><rect x="146" y="198" width="5" height="5" fill="#f6ddcf"/><rect x="151" y="198" width="5" height="5" fill="#f9efe9"/><rect x="156" y="198" width="5" height="5" fill="#f6ddcf"/><rect x="161" y="198" width="5" height="5" fill="#dc9176"/><rect x="166" y="198" width="5" height="5" fill="#f0c6af"/><rect x="171" y="198" width="5" height="5" fill="#f6ddcf"/><rect x="176" y="198" width="15" height="5" fill="#f9efe9"/><rect x="191" y="198" width="10" height="5" fill="#eff2f6"/><rect x="201" y="198" width="5" height="5" fill="#c3d9ee"/><rect x="206" y="198" width="5" height="5" fill="#eff2f6"/><rect x="211" y="198" width="5" height="5" fill="#f6ddcf"/><rect x="216" y="198" width="10" height="5" fill="#f9efe9"/><rect x="226" y="198" width="5" height="5" fill="#f6ddcf"/><rect x="231" y="198" width="5" height="5" fill="#f0c6af"/><rect x="236" y="198" width="5" height="5" fill="#dc9176"/><rect x="241" y="198" width="15" height="5" fill="#d0765f"/><rect x="256" y="198" width="5" height="5" fill="#c45b4b"/><rect x="261" y="198" width="5" height="5" fill="#d0765f"/><rect x="266" y="198" width="5" height="5" fill="#dc9176"/><rect x="271" y="198" width="5" height="5" fill="#f0c6af"/><rect x="276" y="198" width="5" height="5" fill="#f6ddcf"/><rect x="281" y="198" width="5" height="5" fill="#f9efe9"/><rect x="286" y="198" width="20" height="5" fill="#eff2f6"/><rect x="306" y="198" width="5" height="5" fill="#f9efe9"/><rect x="311" y="198" width="10" height="5" fill="#f0c6af"/><rect x="321" y="198" width="5" height="5" fill="#f6ddcf"/><rect x="326" y="198" width="5" height="5" fill="#eff2f6"/><rect x="331" y="198" width="10" height="5" fill="#c3d9ee"/><rect x="341" y="198" width="10" height="5" fill="#aac8e5"/><rect x="351" y="198" width="25" height="5" fill="#c3d9ee"/><rect x="46" y="203" width="50" height="5" fill="#d0765f"/><rect x="96" y="203" width="5" height="5" fill="#dc9176"/><rect x="101" y="203" width="5" height="5" fill="#e7ac92"/><rect x="106" y="203" width="5" height="5" fill="#f0c6af"/><rect x="111" y="203" width="5" height="5" fill="#dc9176"/><rect x="116" y="203" width="5" height="5" fill="#f0c6af"/><rect x="121" y="203" width="5" height="5" fill="#f6ddcf"/><rect x="126" y="203" width="10" height="5" fill="#f0c6af"/><rect x="136" y="203" width="5" height="5" fill="#dc9176"/><rect x="141" y="203" width="10" height="5" fill="#f0c6af"/><rect x="151" y="203" width="5" height="5" fill="#f6ddcf"/><rect x="156" y="203" width="5" height="5" fill="#f0c6af"/><rect x="161" y="203" width="5" height="5" fill="#dc9176"/><rect x="166" y="203" width="5" height="5" fill="#f0c6af"/><rect x="171" y="203" width="5" height="5" fill="#f6ddcf"/><rect x="176" y="203" width="10" height="5" fill="#f9efe9"/><rect x="186" y="203" width="10" height="5" fill="#eff2f6"/><rect x="196" y="203" width="10" height="5" fill="#c3d9ee"/><rect x="206" y="203" width="5" height="5" fill="#eff2f6"/><rect x="211" y="203" width="5" height="5" fill="#f0c6af"/><rect x="216" y="203" width="10" height="5" fill="#eff2f6"/><rect x="226" y="203" width="10" height="5" fill="#f9efe9"/><rect x="236" y="203" width="10" height="5" fill="#f6ddcf"/><rect x="246" y="203" width="25" height="5" fill="#f0c6af"/><rect x="271" y="203" width="5" height="5" fill="#f6ddcf"/><rect x="276" y="203" width="5" height="5" fill="#f9efe9"/><rect x="281" y="203" width="5" height="5" fill="#f6ddcf"/><rect x="286" y="203" width="5" height="5" fill="#f9efe9"/><rect x="291" y="203" width="5" height="5" fill="#eff2f6"/><rect x="296" y="203" width="5" height="5" fill="#f9efe9"/><rect x="301" y="203" width="5" height="5" fill="#f6ddcf"/><rect x="306" y="203" width="10" height="5" fill="#f0c6af"/><rect x="316" y="203" width="5" height="5" fill="#f6ddcf"/><rect x="321" y="203" width="5" height="5" fill="#f9efe9"/><rect x="326" y="203" width="5" height="5" fill="#eff2f6"/><rect x="331" y="203" width="5" height="5" fill="#c3d9ee"/><rect x="336" y="203" width="10" height="5" fill="#aac8e5"/><rect x="346" y="203" width="30" height="5" fill="#c3d9ee"/><rect x="46" y="208" width="50" height="5" fill="#d0765f"/><rect x="96" y="208" width="5" height="5" fill="#dc9176"/><rect x="101" y="208" width="15" height="5" fill="#e7ac92"/><rect x="116" y="208" width="5" height="5" fill="#dc9176"/><rect x="121" y="208" width="5" height="5" fill="#f0c6af"/><rect x="126" y="208" width="10" height="5" fill="#dc9176"/><rect x="136" y="208" width="5" height="5" fill="#d0765f"/><rect x="141" y="208" width="5" height="5" fill="#dc9176"/><rect x="146" y="208" width="15" height="5" fill="#f0c6af"/><rect x="161" y="208" width="10" height="5" fill="#e7ac92"/><rect x="171" y="208" width="5" height="5" fill="#f0c6af"/><rect x="176" y="208" width="5" height="5" fill="#f9efe9"/><rect x="181" y="208" width="10" height="5" fill="#f6ddcf"/><rect x="191" y="208" width="5" height="5" fill="#eff2f6"/><rect x="196" y="208" width="5" height="5" fill="#c3d9ee"/><rect x="201" y="208" width="10" height="5" fill="#eff2f6"/><rect x="211" y="208" width="5" height="5" fill="#f0c6af"/><rect x="216" y="208" width="5" height="5" fill="#eff2f6"/><rect x="221" y="208" width="5" height="5" fill="#c3d9ee"/><rect x="226" y="208" width="25" height="5" fill="#eff2f6"/><rect x="251" y="208" width="15" height="5" fill="#f9efe9"/><rect x="266" y="208" width="5" height="5" fill="#f6ddcf"/><rect x="271" y="208" width="10" height="5" fill="#eff2f6"/><rect x="281" y="208" width="20" height="5" fill="#f6ddcf"/><rect x="301" y="208" width="10" height="5" fill="#f0c6af"/><rect x="311" y="208" width="10" height="5" fill="#f6ddcf"/><rect x="321" y="208" width="10" height="5" fill="#eff2f6"/><rect x="331" y="208" width="5" height="5" fill="#c3d9ee"/><rect x="336" y="208" width="10" height="5" fill="#aac8e5"/><rect x="346" y="208" width="5" height="5" fill="#c3d9ee"/><rect x="351" y="208" width="5" height="5" fill="#aac8e5"/><rect x="356" y="208" width="20" height="5" fill="#c3d9ee"/><rect x="46" y="213" width="50" height="5" fill="#d0765f"/><rect x="96" y="213" width="5" height="5" fill="#dc9176"/><rect x="101" y="213" width="10" height="5" fill="#e7ac92"/><rect x="111" y="213" width="10" height="5" fill="#f0c6af"/><rect x="121" y="213" width="20" height="5" fill="#e7ac92"/><rect x="141" y="213" width="10" height="5" fill="#f0c6af"/><rect x="151" y="213" width="20" height="5" fill="#e7ac92"/><rect x="171" y="213" width="5" height="5" fill="#f0c6af"/><rect x="176" y="213" width="5" height="5" fill="#f9efe9"/><rect x="181" y="213" width="15" height="5" fill="#eff2f6"/><rect x="196" y="213" width="5" height="5" fill="#f6ddcf"/><rect x="201" y="213" width="10" height="5" fill="#f9efe9"/><rect x="211" y="213" width="20" height="5" fill="#eff2f6"/><rect x="231" y="213" width="5" height="5" fill="#f9efe9"/><rect x="236" y="213" width="5" height="5" fill="#f6ddcf"/><rect x="241" y="213" width="5" height="5" fill="#eff2f6"/><rect x="246" y="213" width="5" height="5" fill="#f9efe9"/><rect x="251" y="213" width="5" height="5" fill="#f0c6af"/><rect x="256" y="213" width="5" height="5" fill="#eff2f6"/><rect x="261" y="213" width="5" height="5" fill="#c3d9ee"/><rect x="266" y="213" width="40" height="5" fill="#eff2f6"/><rect x="306" y="213" width="5" height="5" fill="#c3d9ee"/><rect x="311" y="213" width="5" height="5" fill="#f0c6af"/><rect x="316" y="213" width="5" height="5" fill="#dc9176"/><rect x="321" y="213" width="5" height="5" fill="#f0c6af"/><rect x="326" y="213" width="5" height="5" fill="#f6ddcf"/><rect x="331" y="213" width="10" height="5" fill="#f9efe9"/><rect x="341" y="213" width="5" height="5" fill="#eff2f6"/><rect x="346" y="213" width="5" height="5" fill="#f6ddcf"/><rect x="351" y="213" width="5" height="5" fill="#eff2f6"/><rect x="356" y="213" width="20" height="5" fill="#c3d9ee"/><rect x="46" y="218" width="50" height="5" fill="#d0765f"/><rect x="96" y="218" width="5" height="5" fill="#dc9176"/><rect x="101" y="218" width="10" height="5" fill="#e7ac92"/><rect x="111" y="218" width="10" height="5" fill="#f0c6af"/><rect x="121" y="218" width="20" height="5" fill="#e7ac92"/><rect x="141" y="218" width="10" height="5" fill="#f0c6af"/><rect x="151" y="218" width="20" height="5" fill="#e7ac92"/><rect x="171" y="218" width="5" height="5" fill="#f0c6af"/><rect x="176" y="218" width="5" height="5" fill="#f9efe9"/><rect x="181" y="218" width="5" height="5" fill="#eff2f6"/><rect x="186" y="218" width="5" height="5" fill="#f9efe9"/><rect x="191" y="218" width="5" height="5" fill="#f6ddcf"/><rect x="196" y="218" width="5" height="5" fill="#f9efe9"/><rect x="201" y="218" width="5" height="5" fill="#f6ddcf"/><rect x="206" y="218" width="10" height="5" fill="#f9efe9"/><rect x="216" y="218" width="10" height="5" fill="#eff2f6"/><rect x="226" y="218" width="5" height="5" fill="#c3d9ee"/><rect x="231" y="218" width="25" height="5" fill="#eff2f6"/><rect x="256" y="218" width="5" height="5" fill="#c3d9ee"/><rect x="261" y="218" width="10" height="5" fill="#aac8e5"/><rect x="271" y="218" width="10" height="5" fill="#c3d9ee"/><rect x="281" y="218" width="25" height="5" fill="#eff2f6"/><rect x="306" y="218" width="5" height="5" fill="#c3d9ee"/><rect x="311" y="218" width="20" height="5" fill="#f6ddcf"/><rect x="331" y="218" width="5" height="5" fill="#f9efe9"/><rect x="336" y="218" width="5" height="5" fill="#f6ddcf"/><rect x="341" y="218" width="5" height="5" fill="#f0c6af"/><rect x="346" y="218" width="5" height="5" fill="#f6ddcf"/><rect x="351" y="218" width="5" height="5" fill="#aac8e5"/><rect x="356" y="218" width="20" height="5" fill="#c3d9ee"/><rect x="46" y="223" width="50" height="5" fill="#d0765f"/><rect x="96" y="223" width="5" height="5" fill="#dc9176"/><rect x="101" y="223" width="10" height="5" fill="#e7ac92"/><rect x="111" y="223" width="10" height="5" fill="#f0c6af"/><rect x="121" y="223" width="20" height="5" fill="#e7ac92"/><rect x="141" y="223" width="10" height="5" fill="#f0c6af"/><rect x="151" y="223" width="20" height="5" fill="#e7ac92"/><rect x="171" y="223" width="5" height="5" fill="#f0c6af"/><rect x="176" y="223" width="10" height="5" fill="#f9efe9"/><rect x="186" y="223" width="5" height="5" fill="#f6ddcf"/><rect x="191" y="223" width="5" height="5" fill="#f0c6af"/><rect x="196" y="223" width="20" height="5" fill="#f6ddcf"/><rect x="216" y="223" width="35" height="5" fill="#eff2f6"/><rect x="251" y="223" width="5" height="5" fill="#c3d9ee"/><rect x="256" y="223" width="5" height="5" fill="#aac8e5"/><rect x="261" y="223" width="10" height="5" fill="#90b4dc"/><rect x="271" y="223" width="5" height="5" fill="#aac8e5"/><rect x="276" y="223" width="5" height="5" fill="#c3d9ee"/><rect x="281" y="223" width="35" height="5" fill="#eff2f6"/><rect x="316" y="223" width="5" height="5" fill="#f9efe9"/><rect x="321" y="223" width="10" height="5" fill="#f6ddcf"/><rect x="331" y="223" width="15" height="5" fill="#f9efe9"/><rect x="346" y="223" width="5" height="5" fill="#c3d9ee"/><rect x="351" y="223" width="5" height="5" fill="#aac8e5"/><rect x="356" y="223" width="20" height="5" fill="#c3d9ee"/><rect x="46" y="228" width="50" height="5" fill="#d0765f"/><rect x="96" y="228" width="5" height="5" fill="#dc9176"/><rect x="101" y="228" width="10" height="5" fill="#e7ac92"/><rect x="111" y="228" width="10" height="5" fill="#f0c6af"/><rect x="121" y="228" width="20" height="5" fill="#e7ac92"/><rect x="141" y="228" width="10" height="5" fill="#f0c6af"/><rect x="151" y="228" width="20" height="5" fill="#e7ac92"/><rect x="171" y="228" width="5" height="5" fill="#f0c6af"/><rect x="176" y="228" width="10" height="5" fill="#f9efe9"/><rect x="186" y="228" width="5" height="5" fill="#f6ddcf"/><rect x="191" y="228" width="25" height="5" fill="#f0c6af"/><rect x="216" y="228" width="5" height="5" fill="#f6ddcf"/><rect x="221" y="228" width="10" height="5" fill="#eff2f6"/><rect x="231" y="228" width="10" height="5" fill="#f6ddcf"/><rect x="241" y="228" width="5" height="5" fill="#f9efe9"/><rect x="246" y="228" width="10" height="5" fill="#eff2f6"/><rect x="256" y="228" width="5" height="5" fill="#aac8e5"/><rect x="261" y="228" width="10" height="5" fill="#90b4dc"/><rect x="271" y="228" width="5" height="5" fill="#aac8e5"/><rect x="276" y="228" width="5" height="5" fill="#eff2f6"/><rect x="281" y="228" width="5" height="5" fill="#f6ddcf"/><rect x="286" y="228" width="5" height="5" fill="#f0c6af"/><rect x="291" y="228" width="5" height="5" fill="#f9efe9"/><rect x="296" y="228" width="25" height="5" fill="#eff2f6"/><rect x="321" y="228" width="5" height="5" fill="#aac8e5"/><rect x="326" y="228" width="10" height="5" fill="#f6ddcf"/><rect x="336" y="228" width="10" height="5" fill="#f9efe9"/><rect x="346" y="228" width="5" height="5" fill="#c3d9ee"/><rect x="351" y="228" width="5" height="5" fill="#aac8e5"/><rect x="356" y="228" width="20" height="5" fill="#c3d9ee"/><rect x="46" y="233" width="50" height="5" fill="#d0765f"/><rect x="96" y="233" width="5" height="5" fill="#dc9176"/><rect x="101" y="233" width="10" height="5" fill="#e7ac92"/><rect x="111" y="233" width="10" height="5" fill="#f0c6af"/><rect x="121" y="233" width="20" height="5" fill="#e7ac92"/><rect x="141" y="233" width="10" height="5" fill="#f0c6af"/><rect x="151" y="233" width="20" height="5" fill="#e7ac92"/><rect x="171" y="233" width="5" height="5" fill="#f0c6af"/><rect x="176" y="233" width="10" height="5" fill="#f9efe9"/><rect x="186" y="233" width="5" height="5" fill="#f0c6af"/><rect x="191" y="233" width="10" height="5" fill="#dc9176"/><rect x="201" y="233" width="5" height="5" fill="#f0c6af"/><rect x="206" y="233" width="5" height="5" fill="#dc9176"/><rect x="211" y="233" width="5" height="5" fill="#f0c6af"/><rect x="216" y="233" width="5" height="5" fill="#f6ddcf"/><rect x="221" y="233" width="10" height="5" fill="#eff2f6"/><rect x="231" y="233" width="5" height="5" fill="#f9efe9"/><rect x="236" y="233" width="10" height="5" fill="#f6ddcf"/><rect x="246" y="233" width="10" height="5" fill="#eff2f6"/><rect x="256" y="233" width="5" height="5" fill="#c3d9ee"/><rect x="261" y="233" width="10" height="5" fill="#aac8e5"/><rect x="271" y="233" width="5" height="5" fill="#c3d9ee"/><rect x="276" y="233" width="15" height="5" fill="#f6ddcf"/><rect x="291" y="233" width="30" height="5" fill="#eff2f6"/><rect x="321" y="233" width="5" height="5" fill="#aac8e5"/><rect x="326" y="233" width="15" height="5" fill="#f6ddcf"/><rect x="341" y="233" width="5" height="5" fill="#f9efe9"/><rect x="346" y="233" width="5" height="5" fill="#c3d9ee"/><rect x="351" y="233" width="5" height="5" fill="#aac8e5"/><rect x="356" y="233" width="20" height="5" fill="#c3d9ee"/><rect x="46" y="238" width="50" height="5" fill="#d0765f"/><rect x="96" y="238" width="5" height="5" fill="#dc9176"/><rect x="101" y="238" width="10" height="5" fill="#e7ac92"/><rect x="111" y="238" width="10" height="5" fill="#f0c6af"/><rect x="121" y="238" width="20" height="5" fill="#e7ac92"/><rect x="141" y="238" width="10" height="5" fill="#f0c6af"/><rect x="151" y="238" width="20" height="5" fill="#e7ac92"/><rect x="171" y="238" width="20" height="5" fill="#f0c6af"/><rect x="191" y="238" width="5" height="5" fill="#d0765f"/><rect x="196" y="238" width="5" height="5" fill="#dc9176"/><rect x="201" y="238" width="5" height="5" fill="#f0c6af"/><rect x="206" y="238" width="10" height="5" fill="#dc9176"/><rect x="216" y="238" width="5" height="5" fill="#f6ddcf"/><rect x="221" y="238" width="5" height="5" fill="#f9efe9"/><rect x="226" y="238" width="25" height="5" fill="#eff2f6"/><rect x="251" y="238" width="5" height="5" fill="#c3d9ee"/><rect x="256" y="238" width="5" height="5" fill="#aac8e5"/><rect x="261" y="238" width="5" height="5" fill="#c3d9ee"/><rect x="266" y="238" width="20" height="5" fill="#eff2f6"/><rect x="286" y="238" width="10" height="5" fill="#ffffff"/><rect x="296" y="238" width="10" height="5" fill="#eff2f6"/><rect x="306" y="238" width="5" height="5" fill="#c3d9ee"/><rect x="311" y="238" width="15" height="5" fill="#eff2f6"/><rect x="326" y="238" width="5" height="5" fill="#f9efe9"/><rect x="331" y="238" width="10" height="5" fill="#f6ddcf"/><rect x="341" y="238" width="5" height="5" fill="#f9efe9"/><rect x="346" y="238" width="5" height="5" fill="#c3d9ee"/><rect x="351" y="238" width="5" height="5" fill="#aac8e5"/><rect x="356" y="238" width="20" height="5" fill="#c3d9ee"/><rect x="46" y="243" width="50" height="5" fill="#d0765f"/><rect x="96" y="243" width="5" height="5" fill="#dc9176"/><rect x="101" y="243" width="10" height="5" fill="#e7ac92"/><rect x="111" y="243" width="10" height="5" fill="#f0c6af"/><rect x="121" y="243" width="20" height="5" fill="#e7ac92"/><rect x="141" y="243" width="10" height="5" fill="#f0c6af"/><rect x="151" y="243" width="20" height="5" fill="#e7ac92"/><rect x="171" y="243" width="20" height="5" fill="#f0c6af"/><rect x="191" y="243" width="5" height="5" fill="#dc9176"/><rect x="196" y="243" width="5" height="5" fill="#d0765f"/><rect x="201" y="243" width="5" height="5" fill="#dc9176"/><rect x="206" y="243" width="5" height="5" fill="#d0765f"/><rect x="211" y="243" width="5" height="5" fill="#dc9176"/><rect x="216" y="243" width="5" height="5" fill="#f0c6af"/><rect x="221" y="243" width="5" height="5" fill="#f6ddcf"/><rect x="226" y="243" width="5" height="5" fill="#f9efe9"/><rect x="231" y="243" width="25" height="5" fill="#eff2f6"/><rect x="256" y="243" width="5" height="5" fill="#aac8e5"/><rect x="261" y="243" width="5" height="5" fill="#c3d9ee"/><rect x="266" y="243" width="15" height="5" fill="#eff2f6"/><rect x="281" y="243" width="5" height="5" fill="#c3d9ee"/><rect x="286" y="243" width="5" height="5" fill="#ffffff"/><rect x="291" y="243" width="25" height="5" fill="#eff2f6"/><rect x="316" y="243" width="10" height="5" fill="#f9efe9"/><rect x="326" y="243" width="15" height="5" fill="#f6ddcf"/><rect x="341" y="243" width="5" height="5" fill="#f9efe9"/><rect x="346" y="243" width="5" height="5" fill="#c3d9ee"/><rect x="351" y="243" width="5" height="5" fill="#aac8e5"/><rect x="356" y="243" width="20" height="5" fill="#c3d9ee"/><rect x="46" y="248" width="50" height="5" fill="#d0765f"/><rect x="96" y="248" width="5" height="5" fill="#dc9176"/><rect x="101" y="248" width="10" height="5" fill="#e7ac92"/><rect x="111" y="248" width="10" height="5" fill="#f0c6af"/><rect x="121" y="248" width="20" height="5" fill="#e7ac92"/><rect x="141" y="248" width="10" height="5" fill="#f0c6af"/><rect x="151" y="248" width="20" height="5" fill="#e7ac92"/><rect x="171" y="248" width="20" height="5" fill="#f0c6af"/><rect x="191" y="248" width="5" height="5" fill="#dc9176"/><rect x="196" y="248" width="5" height="5" fill="#d0765f"/><rect x="201" y="248" width="5" height="5" fill="#dc9176"/><rect x="206" y="248" width="5" height="5" fill="#d0765f"/><rect x="211" y="248" width="5" height="5" fill="#dc9176"/><rect x="216" y="248" width="5" height="5" fill="#f0c6af"/><rect x="221" y="248" width="5" height="5" fill="#f6ddcf"/><rect x="226" y="248" width="5" height="5" fill="#f9efe9"/><rect x="231" y="248" width="25" height="5" fill="#eff2f6"/><rect x="256" y="248" width="5" height="5" fill="#aac8e5"/><rect x="261" y="248" width="5" height="5" fill="#c3d9ee"/><rect x="266" y="248" width="15" height="5" fill="#eff2f6"/><rect x="281" y="248" width="5" height="5" fill="#c3d9ee"/><rect x="286" y="248" width="5" height="5" fill="#ffffff"/><rect x="291" y="248" width="25" height="5" fill="#eff2f6"/><rect x="316" y="248" width="10" height="5" fill="#f9efe9"/><rect x="326" y="248" width="15" height="5" fill="#f6ddcf"/><rect x="341" y="248" width="5" height="5" fill="#f9efe9"/><rect x="346" y="248" width="5" height="5" fill="#c3d9ee"/><rect x="351" y="248" width="5" height="5" fill="#aac8e5"/><rect x="356" y="248" width="20" height="5" fill="#c3d9ee"/><rect x="46" y="253" width="50" height="5" fill="#d0765f"/><rect x="96" y="253" width="5" height="5" fill="#dc9176"/><rect x="101" y="253" width="10" height="5" fill="#e7ac92"/><rect x="111" y="253" width="10" height="5" fill="#f0c6af"/><rect x="121" y="253" width="20" height="5" fill="#e7ac92"/><rect x="141" y="253" width="10" height="5" fill="#f0c6af"/><rect x="151" y="253" width="20" height="5" fill="#e7ac92"/><rect x="171" y="253" width="20" height="5" fill="#f0c6af"/><rect x="191" y="253" width="5" height="5" fill="#dc9176"/><rect x="196" y="253" width="5" height="5" fill="#d0765f"/><rect x="201" y="253" width="5" height="5" fill="#dc9176"/><rect x="206" y="253" width="5" height="5" fill="#d0765f"/><rect x="211" y="253" width="5" height="5" fill="#dc9176"/><rect x="216" y="253" width="5" height="5" fill="#f0c6af"/><rect x="221" y="253" width="5" height="5" fill="#f6ddcf"/><rect x="226" y="253" width="5" height="5" fill="#f9efe9"/><rect x="231" y="253" width="25" height="5" fill="#eff2f6"/><rect x="256" y="253" width="5" height="5" fill="#aac8e5"/><rect x="261" y="253" width="5" height="5" fill="#c3d9ee"/><rect x="266" y="253" width="15" height="5" fill="#eff2f6"/><rect x="281" y="253" width="5" height="5" fill="#c3d9ee"/><rect x="286" y="253" width="5" height="5" fill="#ffffff"/><rect x="291" y="253" width="25" height="5" fill="#eff2f6"/><rect x="316" y="253" width="10" height="5" fill="#f9efe9"/><rect x="326" y="253" width="15" height="5" fill="#f6ddcf"/><rect x="341" y="253" width="5" height="5" fill="#f9efe9"/><rect x="346" y="253" width="5" height="5" fill="#c3d9ee"/><rect x="351" y="253" width="5" height="5" fill="#aac8e5"/><rect x="356" y="253" width="20" height="5" fill="#c3d9ee"/>

</g>
<rect x="284" y="112.5" width="6.5" height="6.5" fill="#fff"/>
<rect x="288.2" y="235" width="7.5" height="7.2" fill="#fff"/>
<rect x="89.5" y="116.5" width="4" height="4" fill="#fff"/>
</g>
<polygon points="266.0,60.0 266.7,69.0 267.7,71.9 269.7,75.9 271.7,79.9 275.6,81.8 279.6,83.3 283.6,83.8 287.5,82.8 291.5,83.8 295.4,82.8 299.4,81.8 303.4,81.3 307.3,82.3 306.3,85.8 305.3,89.8 304.3,95.0 301.8,99.5 300.3,103.4 297.8,104.9 292.9,104.9 289.9,103.9 285.0,102.9 280.0,104.2 275.6,104.6 270.7,103.6 265.7,102.1 259.8,101.1 254.9,99.7 249.9,97.7 245.9,97.7 242.0,99.3 240.4,102.5 237.7,106.7 234.6,107.2 228.2,105.1 221.9,102.0 215.5,98.8 209.2,96.7 204.7,95.8 202.4,93.3 201.2,91.0 203.4,86.9 203.1,82.8 203.7,80.6 201.8,80.6 200.2,79.3 196.4,79.0 192.6,80.3 188.8,79.6 185.0,79.3 179.6,80.8 171.1,81.3 162.7,82.4 155.3,85.0 149.8,88.3 144.9,86.7 138.4,85.9 135.2,84.2 133.6,86.7 128.7,90.7 123.8,95.6 119.8,100.5 118.1,107.0 114.9,111.8 109.2,115.9 104.0,120.0 100.1,123.2 96.9,127.9 93.7,132.7 90.6,137.4 88.7,143.7 89.0,148.5 91.4,151.7 91.8,158.0 90.6,164.3 88.2,169.1 86.3,172.2 87.7,174.6 89.0,178.6 90.9,181.7 93.7,186.5 96.5,188.8 99.3,190.7 102.4,194.0 104.3,199.3 109.0,203.1 114.7,206.9 121.4,212.6 126.2,214.5 133.8,212.6 139.5,211.2 145.2,212.1 149.9,213.1 154.7,211.2 160.4,210.2 165.2,207.8 170.0,207.0 177.1,207.5 180.4,211.9 183.1,215.2 188.5,214.4 192.9,213.5 196.1,216.8 198.9,220.1 198.3,225.5 197.2,231.0 194.5,235.9 195.6,238.6 198.3,243.0 202.7,248.4 205.0,256.0 318.0,256.0 321.4,248.3 325.0,241.2 330.3,234.9 335.7,229.6 342.8,223.3 348.2,218.9 353.5,214.4 358.9,209.1 363.3,202.8 366.0,199.0 370.0,199.0 370.0,185.0 363.3,185.0 357.1,186.8 349.9,188.5 341.9,189.4 338.4,185.9 335.7,180.5 331.5,175.5 325.5,170.5 320.0,165.5 317.5,160.5 313.3,155.4 311.7,147.0 309.7,142.5 306.7,138.6 304.8,135.6 303.8,131.6 301.3,124.7 298.3,118.3 302.8,117.3 306.7,122.7 310.7,127.7 312.7,131.6 315.6,134.6 318.1,138.6 319.6,143.0 322.8,145.9 327.5,150.7 332.3,158.6 334.6,164.9 335.2,168.0 335.7,172.5 336.6,180.5 342.8,179.6 351.7,176.9 358.9,174.3 363.3,172.8 370.0,171.0 370.0,122.0 362.2,120.7 359.2,117.1 356.8,112.4 356.3,111.2 359.2,108.8 362.8,109.4 370.0,109.5 370.0,78.5 362.2,78.5 359.8,74.3 362.2,70.2 370.0,70.0 370.0,60.0" fill="none" stroke="#333" stroke-width="1.15" stroke-linejoin="round"/>
<polygon points="119.8,60.0 119.8,72.9 122.5,76.9 123.0,80.7 128.7,81.0 135.2,84.2 138.4,82.3 144.9,81.0 150.0,79.7 154.2,77.1 157.4,73.4 158.5,70.2 157.9,68.6 157.5,60.0" fill="none" stroke="#333" stroke-width="1.15" stroke-linejoin="round"/>
<polygon points="241.5,60.0 241.5,69.0 244.0,73.9 246.9,78.9 249.9,82.3 252.9,82.3 253.4,79.9 255.8,76.9 257.3,75.4 254.9,72.9 253.9,70.5 252.9,69.0 253.0,60.0" fill="none" stroke="#333" stroke-width="1.15" stroke-linejoin="round"/>
<polygon points="223.4,60.0 223.4,69.0 224.0,72.0 224.6,75.5 226.5,74.0 229.4,70.8 228.8,60.0" fill="none" stroke="#333" stroke-width="1.15" stroke-linejoin="round"/>
<polygon points="209.7,76.5 210.0,77.7 215.0,79.5 220.5,81.9 221.5,78.4 223.0,76.5 220.5,75.5 214.8,75.5" fill="none" stroke="#333" stroke-width="1.15" stroke-linejoin="round"/>
<polygon points="193.2,60.0 193.2,69.2 193.6,71.7 195.1,72.7 197.0,71.7 198.6,71.4 198.3,69.2 198.3,60.0" fill="none" stroke="#333" stroke-width="1.15" stroke-linejoin="round"/>
<polygon points="255.5,87.3 258.0,86.4 262.0,87.0 266.7,87.5 265.0,89.0 260.0,89.0 256.5,88.6" fill="none" stroke="#333" stroke-width="1.15" stroke-linejoin="round"/>
<polygon points="291.5,89.5 293.0,87.8 296.0,87.3 298.5,86.6 300.4,86.3 299.0,88.0 296.0,89.5 293.0,90.3" fill="none" stroke="#333" stroke-width="1.15" stroke-linejoin="round"/>
<polyline points="291.9,109.9 294.5,113.5 298.3,118.3" fill="none" stroke="#333" stroke-width="1.3"/>
<polyline points="302.3,111.8 301.5,114.0 300.8,116.3 302.8,117.3" fill="none" stroke="#333" stroke-width="1.3"/>
</g>
<rect x="90.3" y="114.9" width="3.4" height="3.4" fill="#e4e9ef"/>
<rect x="92.8" y="150.7" width="213.7" height="41.3" fill="none" stroke="#3c3c3c" stroke-width="1.0"/>
<line x1="200" y1="150.7" x2="200" y2="192" stroke="#3c3c3c" stroke-width="1.0"/>
<circle cx="90.8" cy="180.7" r="1.2" fill="#000"/>
<circle cx="93.5" cy="186.5" r="1.2" fill="#000"/>
<circle cx="96.5" cy="180.7" r="1.2" fill="#000"/>
<circle cx="99.2" cy="186.5" r="1.2" fill="#000"/>
<circle cx="102.3" cy="180.7" r="1.2" fill="#000"/>
<circle cx="105.0" cy="174.9" r="1.2" fill="#000"/>
<circle cx="105.0" cy="186.5" r="1.2" fill="#000"/>
<circle cx="108.1" cy="180.7" r="1.2" fill="#000"/>
<circle cx="113.8" cy="180.7" r="1.2" fill="#000"/>
<circle cx="119.6" cy="180.7" r="1.2" fill="#000"/>
<circle cx="119.6" cy="203.7" r="1.2" fill="#000"/>
<circle cx="125.3" cy="180.7" r="1.2" fill="#000"/>
<circle cx="128.0" cy="186.5" r="1.2" fill="#000"/>
<circle cx="131.1" cy="180.7" r="1.2" fill="#000"/>
<circle cx="131.1" cy="192.2" r="1.2" fill="#000"/>
<circle cx="133.8" cy="186.5" r="1.2" fill="#000"/>
<circle cx="133.8" cy="209.5" r="1.2" fill="#000"/>
<circle cx="136.8" cy="180.7" r="1.2" fill="#000"/>
<circle cx="136.8" cy="192.2" r="1.2" fill="#000"/>
<circle cx="139.5" cy="198.0" r="1.2" fill="#000"/>
<circle cx="139.5" cy="209.5" r="1.2" fill="#000"/>
<circle cx="142.6" cy="180.7" r="1.2" fill="#000"/>
<circle cx="145.3" cy="174.9" r="1.2" fill="#000"/>
<circle cx="145.3" cy="186.5" r="1.2" fill="#000"/>
<circle cx="148.3" cy="157.7" r="1.2" fill="#000"/>
<circle cx="148.3" cy="169.2" r="1.2" fill="#000"/>
<circle cx="148.3" cy="180.7" r="1.2" fill="#000"/>
<circle cx="151.0" cy="163.4" r="1.2" fill="#000"/>
<circle cx="151.0" cy="174.9" r="1.2" fill="#000"/>
<circle cx="151.0" cy="186.5" r="1.2" fill="#000"/>
<circle cx="154.1" cy="157.7" r="1.2" fill="#000"/>
<circle cx="154.1" cy="169.2" r="1.2" fill="#000"/>
<circle cx="156.8" cy="163.4" r="1.2" fill="#000"/>
<circle cx="156.8" cy="174.9" r="1.2" fill="#000"/>
<circle cx="156.8" cy="209.5" r="1.2" fill="#000"/>
<circle cx="159.8" cy="169.2" r="1.2" fill="#000"/>
<circle cx="162.5" cy="163.4" r="1.2" fill="#000"/>
<circle cx="162.5" cy="174.9" r="1.2" fill="#000"/>
<circle cx="162.5" cy="209.5" r="1.2" fill="#000"/>
<circle cx="165.6" cy="169.2" r="1.2" fill="#000"/>
<circle cx="165.6" cy="180.7" r="1.2" fill="#000"/>
<circle cx="168.3" cy="163.4" r="1.2" fill="#000"/>
<circle cx="168.3" cy="174.9" r="1.2" fill="#000"/>
<circle cx="168.3" cy="186.5" r="1.2" fill="#000"/>
<circle cx="168.3" cy="198.0" r="1.2" fill="#000"/>
<circle cx="171.3" cy="169.2" r="1.2" fill="#000"/>
<circle cx="171.3" cy="192.2" r="1.2" fill="#000"/>
<circle cx="171.3" cy="203.7" r="1.2" fill="#000"/>
<circle cx="188.6" cy="157.7" r="1.2" fill="#000"/>
<circle cx="188.6" cy="169.2" r="1.2" fill="#000"/>
<circle cx="191.3" cy="163.4" r="1.2" fill="#000"/>
<circle cx="191.3" cy="174.9" r="1.2" fill="#000"/>
<circle cx="194.3" cy="157.7" r="1.2" fill="#000"/>
<circle cx="194.3" cy="169.2" r="1.2" fill="#000"/>
<circle cx="194.3" cy="180.7" r="1.2" fill="#000"/>
<circle cx="197.1" cy="174.9" r="1.2" fill="#000"/>
<circle cx="200.1" cy="169.2" r="1.2" fill="#000"/>
<circle cx="200.1" cy="180.7" r="1.2" fill="#000"/>
<circle cx="202.8" cy="174.9" r="1.2" fill="#000"/>
<circle cx="202.8" cy="186.5" r="1.2" fill="#000"/>
<circle cx="205.9" cy="180.7" r="1.2" fill="#000"/>
<circle cx="208.6" cy="186.5" r="1.2" fill="#000"/>
<circle cx="211.6" cy="180.7" r="1.2" fill="#000"/>
<circle cx="211.6" cy="203.7" r="1.2" fill="#000"/>
<circle cx="217.4" cy="203.7" r="1.2" fill="#000"/>
<circle cx="220.1" cy="174.9" r="1.2" fill="#000"/>
<circle cx="223.1" cy="180.7" r="1.2" fill="#000"/>
<circle cx="225.8" cy="174.9" r="1.2" fill="#000"/>
<circle cx="228.9" cy="169.2" r="1.2" fill="#000"/>
<circle cx="231.6" cy="174.9" r="1.2" fill="#000"/>
<circle cx="234.6" cy="169.2" r="1.2" fill="#000"/>
<circle cx="234.6" cy="180.7" r="1.2" fill="#000"/>
<circle cx="234.6" cy="192.2" r="1.2" fill="#000"/>
<circle cx="237.3" cy="174.9" r="1.2" fill="#000"/>
<circle cx="237.3" cy="186.5" r="1.2" fill="#000"/>
<circle cx="240.4" cy="180.7" r="1.2" fill="#000"/>
<circle cx="240.4" cy="192.2" r="1.2" fill="#000"/>
<circle cx="243.1" cy="186.5" r="1.2" fill="#000"/>
<circle cx="243.1" cy="198.0" r="1.2" fill="#000"/>
<circle cx="246.1" cy="169.2" r="1.2" fill="#000"/>
<circle cx="246.1" cy="180.7" r="1.2" fill="#000"/>
<circle cx="246.1" cy="192.2" r="1.2" fill="#000"/>
<circle cx="248.8" cy="174.9" r="1.2" fill="#000"/>
<circle cx="248.8" cy="186.5" r="1.2" fill="#000"/>
<circle cx="248.8" cy="198.0" r="1.2" fill="#000"/>
<circle cx="251.9" cy="169.2" r="1.2" fill="#000"/>
<circle cx="251.9" cy="180.7" r="1.2" fill="#000"/>
<circle cx="251.9" cy="192.2" r="1.2" fill="#000"/>
<circle cx="254.6" cy="174.9" r="1.2" fill="#000"/>
<circle cx="254.6" cy="186.5" r="1.2" fill="#000"/>
<circle cx="254.6" cy="198.0" r="1.2" fill="#000"/>
<circle cx="257.6" cy="169.2" r="1.2" fill="#000"/>
<circle cx="257.6" cy="180.7" r="1.2" fill="#000"/>
<circle cx="257.6" cy="192.2" r="1.2" fill="#000"/>
<circle cx="260.3" cy="163.4" r="1.2" fill="#000"/>
<circle cx="260.3" cy="174.9" r="1.2" fill="#000"/>
<circle cx="260.3" cy="186.5" r="1.2" fill="#000"/>
<circle cx="260.3" cy="198.0" r="1.2" fill="#000"/>
<circle cx="263.4" cy="169.2" r="1.2" fill="#000"/>
<circle cx="263.4" cy="180.7" r="1.2" fill="#000"/>
<circle cx="263.4" cy="192.2" r="1.2" fill="#000"/>
<circle cx="266.1" cy="163.4" r="1.2" fill="#000"/>
<circle cx="266.1" cy="174.9" r="1.2" fill="#000"/>
<circle cx="266.1" cy="198.0" r="1.2" fill="#000"/>
<circle cx="269.1" cy="169.2" r="1.2" fill="#000"/>
<circle cx="269.1" cy="180.7" r="1.2" fill="#000"/>
<circle cx="271.8" cy="163.4" r="1.2" fill="#000"/>
<circle cx="271.8" cy="174.9" r="1.2" fill="#000"/>
<circle cx="274.9" cy="169.2" r="1.2" fill="#000"/>
<circle cx="277.6" cy="174.9" r="1.2" fill="#000"/>
<circle cx="283.4" cy="186.5" r="1.2" fill="#000"/>
<circle cx="289.1" cy="174.9" r="1.2" fill="#000"/>
<circle cx="292.2" cy="169.2" r="1.2" fill="#000"/>
<circle cx="292.2" cy="180.7" r="1.2" fill="#000"/>
<circle cx="294.9" cy="174.9" r="1.2" fill="#000"/>
<circle cx="323.6" cy="186.5" r="1.2" fill="#000"/>
<circle cx="326.7" cy="180.7" r="1.2" fill="#000"/>
<circle cx="329.4" cy="186.5" r="1.2" fill="#000"/>
<rect x="56.4" y="68.6" width="307.8" height="180.6" fill="none" stroke="#000" stroke-width="1.3"/>
<line x1="162.7" y1="68.6" x2="162.7" y2="77.1" stroke="#000" stroke-width="1.3"/>
<line x1="162.7" y1="249.2" x2="162.7" y2="240.7" stroke="#000" stroke-width="1.3"/>
<line x1="281.0" y1="68.6" x2="281.0" y2="77.1" stroke="#000" stroke-width="1.3"/>
<line x1="281.0" y1="249.2" x2="281.0" y2="240.7" stroke="#000" stroke-width="1.3"/>
<line x1="56.4" y1="111.2" x2="64.9" y2="111.2" stroke="#000" stroke-width="1.3"/>
<line x1="364.2" y1="111.2" x2="355.7" y2="111.2" stroke="#000" stroke-width="1.3"/>
<text x="45.3" y="116.9" text-anchor="end" font-size="15.8">30</text>
<circle cx="47" cy="106.8" r="1.2" fill="none" stroke="#aaa" stroke-width="0.8"/>
<line x1="56.4" y1="232.3" x2="64.9" y2="232.3" stroke="#000" stroke-width="1.3"/>
<line x1="364.2" y1="232.3" x2="355.7" y2="232.3" stroke="#000" stroke-width="1.3"/>
<text x="45.3" y="238.0" text-anchor="end" font-size="15.8">0</text>
<circle cx="47" cy="227.9" r="1.2" fill="none" stroke="#aaa" stroke-width="0.8"/>
<rect x="61.1" y="74.9" width="31.5" height="32.5" fill="#fff" stroke="#000" stroke-width="1.3"/>
<text x="76.8" y="97.6" text-anchor="middle" font-size="19.5" font-weight="bold">a</text>
<text transform="translate(13.2,157.4) rotate(-90)" text-anchor="middle" font-size="15.7">Degrees latitude</text>
<defs><clipPath id="landb">
<polygon points="266.0,259.0 266.7,268.0 267.7,270.9 269.7,274.9 271.7,278.9 275.6,280.8 279.6,282.3 283.6,282.8 287.5,281.8 291.5,282.8 295.4,281.8 299.4,280.8 303.4,280.3 307.3,281.3 306.3,284.8 305.3,288.8 304.3,294.0 301.8,298.5 300.3,302.4 297.8,303.9 292.9,303.9 289.9,302.9 285.0,301.9 280.0,303.2 275.6,303.6 270.7,302.6 265.7,301.1 259.8,300.1 254.9,298.7 249.9,296.7 245.9,296.7 242.0,298.3 240.4,301.5 237.7,305.7 234.6,306.2 228.2,304.1 221.9,301.0 215.5,297.8 209.2,295.7 204.7,294.8 202.4,292.3 201.2,290.0 203.4,285.9 203.1,281.8 203.7,279.6 201.8,279.6 200.2,278.3 196.4,278.0 192.6,279.3 188.8,278.6 185.0,278.3 179.6,279.8 171.1,280.3 162.7,281.4 155.3,284.0 149.8,287.3 144.9,285.7 138.4,284.9 135.2,283.2 133.6,285.7 128.7,289.7 123.8,294.6 119.8,299.5 118.1,306.0 114.9,310.8 109.2,314.9 104.0,319.0 100.1,322.2 96.9,326.9 93.7,331.7 90.6,336.4 88.7,342.7 89.0,347.5 91.4,350.7 91.8,357.0 90.6,363.3 88.2,368.1 86.3,371.2 87.7,373.6 89.0,377.6 90.9,380.7 93.7,385.5 96.5,387.8 99.3,389.7 102.4,393.0 104.3,398.3 109.0,402.1 114.7,405.9 121.4,411.6 126.2,413.5 133.8,411.6 139.5,410.2 145.2,411.1 149.9,412.1 154.7,410.2 160.4,409.2 165.2,406.8 170.0,406.0 177.1,406.5 180.4,410.9 183.1,414.2 188.5,413.4 192.9,412.5 196.1,415.8 198.9,419.1 198.3,424.5 197.2,430.0 194.5,434.9 195.6,437.6 198.3,442.0 202.7,447.4 205.0,455.0 318.0,455.0 321.4,447.3 325.0,440.2 330.3,433.9 335.7,428.6 342.8,422.3 348.2,417.9 353.5,413.4 358.9,408.1 363.3,401.8 366.0,398.0 370.0,398.0 370.0,384.0 363.3,384.0 357.1,385.8 349.9,387.5 341.9,388.4 338.4,384.9 335.7,379.5 331.5,374.5 325.5,369.5 320.0,364.5 317.5,359.5 313.3,354.4 311.7,346.0 309.7,341.5 306.7,337.6 304.8,334.6 303.8,330.6 301.3,323.7 298.3,317.3 302.8,316.3 306.7,321.7 310.7,326.7 312.7,330.6 315.6,333.6 318.1,337.6 319.6,342.0 322.8,344.9 327.5,349.7 332.3,357.6 334.6,363.9 335.2,367.0 335.7,371.5 336.6,379.5 342.8,378.6 351.7,375.9 358.9,373.3 363.3,371.8 370.0,370.0 370.0,321.0 362.2,319.7 359.2,316.1 356.8,311.4 356.3,310.2 359.2,307.8 362.8,308.4 370.0,308.5 370.0,277.5 362.2,277.5 359.8,273.3 362.2,269.2 370.0,269.0 370.0,259.0"/>
<polygon points="119.8,259.0 119.8,271.9 122.5,275.9 123.0,279.7 128.7,280.0 135.2,283.2 138.4,281.3 144.9,280.0 150.0,278.7 154.2,276.1 157.4,272.4 158.5,269.2 157.9,267.6 157.5,259.0"/>
<polygon points="241.5,259.0 241.5,268.0 244.0,272.9 246.9,277.9 249.9,281.3 252.9,281.3 253.4,278.9 255.8,275.9 257.3,274.4 254.9,271.9 253.9,269.5 252.9,268.0 253.0,259.0"/>
<polygon points="223.4,259.0 223.4,268.0 224.0,271.0 224.6,274.5 226.5,273.0 229.4,269.8 228.8,259.0"/>
<polygon points="209.7,275.5 210.0,276.7 215.0,278.5 220.5,280.9 221.5,277.4 223.0,275.5 220.5,274.5 214.8,274.5"/>
<polygon points="193.2,259.0 193.2,268.2 193.6,270.7 195.1,271.7 197.0,270.7 198.6,270.4 198.3,268.2 198.3,259.0"/>
<polygon points="255.5,286.3 258.0,285.4 262.0,286.0 266.7,286.5 265.0,288.0 260.0,288.0 256.5,287.6"/>
<polygon points="291.5,288.5 293.0,286.8 296.0,286.3 298.5,285.6 300.4,285.3 299.0,287.0 296.0,288.5 293.0,289.3"/>
</clipPath>
<clipPath id="frameb"><rect x="56.4" y="267.2" width="307.8" height="180.10000000000002"/></clipPath>
<filter id="blurb" x="0" y="0" width="946" height="505" filterUnits="userSpaceOnUse"><feGaussianBlur stdDeviation="1.9"/></filter>
</defs>
<g clip-path="url(#frameb)"><g clip-path="url(#landb)">
<g filter="url(#blurb)">
<rect x="46" y="257" width="90" height="5" fill="#f6ddcf"/><rect x="136" y="257" width="5" height="5" fill="#f9efe9"/><rect x="141" y="257" width="10" height="5" fill="#f6ddcf"/><rect x="151" y="257" width="5" height="5" fill="#f0c6af"/><rect x="156" y="257" width="5" height="5" fill="#f6ddcf"/><rect x="161" y="257" width="15" height="5" fill="#f0c6af"/><rect x="176" y="257" width="5" height="5" fill="#f6ddcf"/><rect x="181" y="257" width="5" height="5" fill="#f9efe9"/><rect x="186" y="257" width="10" height="5" fill="#eff2f6"/><rect x="196" y="257" width="10" height="5" fill="#f9efe9"/><rect x="206" y="257" width="35" height="5" fill="#f6ddcf"/><rect x="241" y="257" width="5" height="5" fill="#eff2f6"/><rect x="246" y="257" width="5" height="5" fill="#f9efe9"/><rect x="251" y="257" width="5" height="5" fill="#eff2f6"/><rect x="256" y="257" width="25" height="5" fill="#f6ddcf"/><rect x="281" y="257" width="45" height="5" fill="#eff2f6"/><rect x="326" y="257" width="5" height="5" fill="#f9efe9"/><rect x="331" y="257" width="5" height="5" fill="#f6ddcf"/><rect x="336" y="257" width="5" height="5" fill="#dc9176"/><rect x="341" y="257" width="5" height="5" fill="#f0c6af"/><rect x="346" y="257" width="5" height="5" fill="#f6ddcf"/><rect x="351" y="257" width="25" height="5" fill="#eff2f6"/><rect x="46" y="262" width="90" height="5" fill="#f6ddcf"/><rect x="136" y="262" width="5" height="5" fill="#f9efe9"/><rect x="141" y="262" width="10" height="5" fill="#f6ddcf"/><rect x="151" y="262" width="5" height="5" fill="#f0c6af"/><rect x="156" y="262" width="5" height="5" fill="#f6ddcf"/><rect x="161" y="262" width="15" height="5" fill="#f0c6af"/><rect x="176" y="262" width="5" height="5" fill="#f6ddcf"/><rect x="181" y="262" width="5" height="5" fill="#f9efe9"/><rect x="186" y="262" width="10" height="5" fill="#eff2f6"/><rect x="196" y="262" width="10" height="5" fill="#f9efe9"/><rect x="206" y="262" width="35" height="5" fill="#f6ddcf"/><rect x="241" y="262" width="5" height="5" fill="#eff2f6"/><rect x="246" y="262" width="5" height="5" fill="#f9efe9"/><rect x="251" y="262" width="5" height="5" fill="#eff2f6"/><rect x="256" y="262" width="25" height="5" fill="#f6ddcf"/><rect x="281" y="262" width="45" height="5" fill="#eff2f6"/><rect x="326" y="262" width="5" height="5" fill="#f9efe9"/><rect x="331" y="262" width="5" height="5" fill="#f6ddcf"/><rect x="336" y="262" width="5" height="5" fill="#dc9176"/><rect x="341" y="262" width="5" height="5" fill="#f0c6af"/><rect x="346" y="262" width="5" height="5" fill="#f6ddcf"/><rect x="351" y="262" width="25" height="5" fill="#eff2f6"/><rect x="46" y="267" width="90" height="5" fill="#f6ddcf"/><rect x="136" y="267" width="5" height="5" fill="#f9efe9"/><rect x="141" y="267" width="10" height="5" fill="#f6ddcf"/><rect x="151" y="267" width="5" height="5" fill="#f0c6af"/><rect x="156" y="267" width="5" height="5" fill="#f6ddcf"/><rect x="161" y="267" width="15" height="5" fill="#f0c6af"/><rect x="176" y="267" width="5" height="5" fill="#f6ddcf"/><rect x="181" y="267" width="5" height="5" fill="#f9efe9"/><rect x="186" y="267" width="10" height="5" fill="#eff2f6"/><rect x="196" y="267" width="10" height="5" fill="#f9efe9"/><rect x="206" y="267" width="35" height="5" fill="#f6ddcf"/><rect x="241" y="267" width="5" height="5" fill="#eff2f6"/><rect x="246" y="267" width="5" height="5" fill="#f9efe9"/><rect x="251" y="267" width="5" height="5" fill="#eff2f6"/><rect x="256" y="267" width="25" height="5" fill="#f6ddcf"/><rect x="281" y="267" width="45" height="5" fill="#eff2f6"/><rect x="326" y="267" width="5" height="5" fill="#f9efe9"/><rect x="331" y="267" width="5" height="5" fill="#f6ddcf"/><rect x="336" y="267" width="5" height="5" fill="#dc9176"/><rect x="341" y="267" width="5" height="5" fill="#f0c6af"/><rect x="346" y="267" width="5" height="5" fill="#f6ddcf"/><rect x="351" y="267" width="25" height="5" fill="#eff2f6"/><rect x="46" y="272" width="75" height="5" fill="#f6ddcf"/><rect x="121" y="272" width="5" height="5" fill="#f9efe9"/><rect x="126" y="272" width="25" height="5" fill="#f6ddcf"/><rect x="151" y="272" width="5" height="5" fill="#f0c6af"/><rect x="156" y="272" width="5" height="5" fill="#f6ddcf"/><rect x="161" y="272" width="15" height="5" fill="#f0c6af"/><rect x="176" y="272" width="5" height="5" fill="#f6ddcf"/><rect x="181" y="272" width="20" height="5" fill="#f9efe9"/><rect x="201" y="272" width="40" height="5" fill="#f6ddcf"/><rect x="241" y="272" width="10" height="5" fill="#eff2f6"/><rect x="251" y="272" width="25" height="5" fill="#f6ddcf"/><rect x="276" y="272" width="5" height="5" fill="#f9efe9"/><rect x="281" y="272" width="25" height="5" fill="#eff2f6"/><rect x="306" y="272" width="5" height="5" fill="#c3d9ee"/><rect x="311" y="272" width="20" height="5" fill="#eff2f6"/><rect x="331" y="272" width="5" height="5" fill="#f9efe9"/><rect x="336" y="272" width="5" height="5" fill="#f0c6af"/><rect x="341" y="272" width="5" height="5" fill="#f6ddcf"/><rect x="346" y="272" width="30" height="5" fill="#eff2f6"/><rect x="46" y="277" width="90" height="5" fill="#f6ddcf"/><rect x="136" y="277" width="10" height="5" fill="#f9efe9"/><rect x="146" y="277" width="10" height="5" fill="#f6ddcf"/><rect x="156" y="277" width="10" height="5" fill="#f0c6af"/><rect x="166" y="277" width="45" height="5" fill="#f6ddcf"/><rect x="211" y="277" width="10" height="5" fill="#f9efe9"/><rect x="221" y="277" width="25" height="5" fill="#f6ddcf"/><rect x="246" y="277" width="5" height="5" fill="#eff2f6"/><rect x="251" y="277" width="25" height="5" fill="#f6ddcf"/><rect x="276" y="277" width="5" height="5" fill="#f9efe9"/><rect x="281" y="277" width="65" height="5" fill="#eff2f6"/><rect x="346" y="277" width="10" height="5" fill="#c3d9ee"/><rect x="356" y="277" width="20" height="5" fill="#eff2f6"/><rect x="46" y="282" width="85" height="5" fill="#f0c6af"/><rect x="131" y="282" width="5" height="5" fill="#f9efe9"/><rect x="136" y="282" width="10" height="5" fill="#f6ddcf"/><rect x="146" y="282" width="10" height="5" fill="#f9efe9"/><rect x="156" y="282" width="15" height="5" fill="#f6ddcf"/><rect x="171" y="282" width="5" height="5" fill="#f0c6af"/><rect x="176" y="282" width="10" height="5" fill="#f6ddcf"/><rect x="186" y="282" width="5" height="5" fill="#f0c6af"/><rect x="191" y="282" width="5" height="5" fill="#f6ddcf"/><rect x="196" y="282" width="5" height="5" fill="#f0c6af"/><rect x="201" y="282" width="70" height="5" fill="#f6ddcf"/><rect x="271" y="282" width="5" height="5" fill="#f9efe9"/><rect x="276" y="282" width="30" height="5" fill="#eff2f6"/><rect x="306" y="282" width="5" height="5" fill="#f9efe9"/><rect x="311" y="282" width="5" height="5" fill="#eff2f6"/><rect x="316" y="282" width="10" height="5" fill="#c3d9ee"/><rect x="326" y="282" width="15" height="5" fill="#eff2f6"/><rect x="341" y="282" width="5" height="5" fill="#c3d9ee"/><rect x="346" y="282" width="5" height="5" fill="#aac8e5"/><rect x="351" y="282" width="5" height="5" fill="#c3d9ee"/><rect x="356" y="282" width="20" height="5" fill="#eff2f6"/><rect x="46" y="287" width="80" height="5" fill="#f0c6af"/><rect x="126" y="287" width="5" height="5" fill="#f6ddcf"/><rect x="131" y="287" width="10" height="5" fill="#f0c6af"/><rect x="141" y="287" width="5" height="5" fill="#dc9176"/><rect x="146" y="287" width="40" height="5" fill="#f6ddcf"/><rect x="186" y="287" width="15" height="5" fill="#f0c6af"/><rect x="201" y="287" width="10" height="5" fill="#f6ddcf"/><rect x="211" y="287" width="25" height="5" fill="#f9efe9"/><rect x="236" y="287" width="10" height="5" fill="#f6ddcf"/><rect x="246" y="287" width="5" height="5" fill="#f0c6af"/><rect x="251" y="287" width="5" height="5" fill="#f6ddcf"/><rect x="256" y="287" width="15" height="5" fill="#f9efe9"/><rect x="271" y="287" width="25" height="5" fill="#eff2f6"/><rect x="296" y="287" width="10" height="5" fill="#f9efe9"/><rect x="306" y="287" width="5" height="5" fill="#f6ddcf"/><rect x="311" y="287" width="5" height="5" fill="#eff2f6"/><rect x="316" y="287" width="10" height="5" fill="#c3d9ee"/><rect x="326" y="287" width="20" height="5" fill="#eff2f6"/><rect x="346" y="287" width="10" height="5" fill="#c3d9ee"/><rect x="356" y="287" width="20" height="5" fill="#eff2f6"/><rect x="46" y="292" width="85" height="5" fill="#f0c6af"/><rect x="131" y="292" width="10" height="5" fill="#dc9176"/><rect x="141" y="292" width="5" height="5" fill="#f0c6af"/><rect x="146" y="292" width="5" height="5" fill="#f6ddcf"/><rect x="151" y="292" width="20" height="5" fill="#f9efe9"/><rect x="171" y="292" width="10" height="5" fill="#f6ddcf"/><rect x="181" y="292" width="10" height="5" fill="#f0c6af"/><rect x="191" y="292" width="15" height="5" fill="#f6ddcf"/><rect x="206" y="292" width="20" height="5" fill="#f9efe9"/><rect x="226" y="292" width="5" height="5" fill="#eff2f6"/><rect x="231" y="292" width="5" height="5" fill="#f9efe9"/><rect x="236" y="292" width="5" height="5" fill="#f6ddcf"/><rect x="241" y="292" width="15" height="5" fill="#f0c6af"/><rect x="256" y="292" width="5" height="5" fill="#f9efe9"/><rect x="261" y="292" width="35" height="5" fill="#eff2f6"/><rect x="296" y="292" width="10" height="5" fill="#f9efe9"/><rect x="306" y="292" width="70" height="5" fill="#eff2f6"/><rect x="46" y="297" width="85" height="5" fill="#f0c6af"/><rect x="131" y="297" width="5" height="5" fill="#dc9176"/><rect x="136" y="297" width="5" height="5" fill="#f0c6af"/><rect x="141" y="297" width="5" height="5" fill="#f6ddcf"/><rect x="146" y="297" width="10" height="5" fill="#f9efe9"/><rect x="156" y="297" width="10" height="5" fill="#eff2f6"/><rect x="166" y="297" width="10" height="5" fill="#f9efe9"/><rect x="176" y="297" width="25" height="5" fill="#f6ddcf"/><rect x="201" y="297" width="20" height="5" fill="#f9efe9"/><rect x="221" y="297" width="10" height="5" fill="#eff2f6"/><rect x="231" y="297" width="5" height="5" fill="#f9efe9"/><rect x="236" y="297" width="20" height="5" fill="#f6ddcf"/><rect x="256" y="297" width="5" height="5" fill="#f9efe9"/><rect x="261" y="297" width="115" height="5" fill="#eff2f6"/><rect x="46" y="302" width="95" height="5" fill="#f6ddcf"/><rect x="141" y="302" width="5" height="5" fill="#f9efe9"/><rect x="146" y="302" width="15" height="5" fill="#eff2f6"/><rect x="161" y="302" width="5" height="5" fill="#f9efe9"/><rect x="166" y="302" width="20" height="5" fill="#eff2f6"/><rect x="186" y="302" width="10" height="5" fill="#f9efe9"/><rect x="196" y="302" width="5" height="5" fill="#f6ddcf"/><rect x="201" y="302" width="40" height="5" fill="#f9efe9"/><rect x="241" y="302" width="5" height="5" fill="#f6ddcf"/><rect x="246" y="302" width="10" height="5" fill="#f0c6af"/><rect x="256" y="302" width="5" height="5" fill="#f6ddcf"/><rect x="261" y="302" width="5" height="5" fill="#f9efe9"/><rect x="266" y="302" width="10" height="5" fill="#eff2f6"/><rect x="276" y="302" width="25" height="5" fill="#f9efe9"/><rect x="301" y="302" width="30" height="5" fill="#eff2f6"/><rect x="331" y="302" width="5" height="5" fill="#f9efe9"/><rect x="336" y="302" width="40" height="5" fill="#eff2f6"/><rect x="46" y="307" width="70" height="5" fill="#f6ddcf"/><rect x="116" y="307" width="10" height="5" fill="#f9efe9"/><rect x="126" y="307" width="10" height="5" fill="#eff2f6"/><rect x="136" y="307" width="10" height="5" fill="#f9efe9"/><rect x="146" y="307" width="30" height="5" fill="#eff2f6"/><rect x="176" y="307" width="10" height="5" fill="#c3d9ee"/><rect x="186" y="307" width="5" height="5" fill="#eff2f6"/><rect x="191" y="307" width="5" height="5" fill="#f9efe9"/><rect x="196" y="307" width="5" height="5" fill="#f6ddcf"/><rect x="201" y="307" width="5" height="5" fill="#f9efe9"/><rect x="206" y="307" width="35" height="5" fill="#eff2f6"/><rect x="241" y="307" width="5" height="5" fill="#f6ddcf"/><rect x="246" y="307" width="5" height="5" fill="#dc9176"/><rect x="251" y="307" width="5" height="5" fill="#d0765f"/><rect x="256" y="307" width="5" height="5" fill="#f0c6af"/><rect x="261" y="307" width="10" height="5" fill="#eff2f6"/><rect x="271" y="307" width="10" height="5" fill="#f6ddcf"/><rect x="281" y="307" width="15" height="5" fill="#eff2f6"/><rect x="296" y="307" width="5" height="5" fill="#f9efe9"/><rect x="301" y="307" width="5" height="5" fill="#f6ddcf"/><rect x="306" y="307" width="20" height="5" fill="#eff2f6"/><rect x="326" y="307" width="5" height="5" fill="#f9efe9"/><rect x="331" y="307" width="5" height="5" fill="#f0c6af"/><rect x="336" y="307" width="5" height="5" fill="#f6ddcf"/><rect x="341" y="307" width="35" height="5" fill="#eff2f6"/><rect x="46" y="312" width="65" height="5" fill="#f6ddcf"/><rect x="111" y="312" width="5" height="5" fill="#f9efe9"/><rect x="116" y="312" width="30" height="5" fill="#eff2f6"/><rect x="146" y="312" width="10" height="5" fill="#f9efe9"/><rect x="156" y="312" width="20" height="5" fill="#eff2f6"/><rect x="176" y="312" width="5" height="5" fill="#c3d9ee"/><rect x="181" y="312" width="5" height="5" fill="#aac8e5"/><rect x="186" y="312" width="5" height="5" fill="#c3d9ee"/><rect x="191" y="312" width="5" height="5" fill="#eff2f6"/><rect x="196" y="312" width="5" height="5" fill="#f6ddcf"/><rect x="201" y="312" width="5" height="5" fill="#f9efe9"/><rect x="206" y="312" width="35" height="5" fill="#eff2f6"/><rect x="241" y="312" width="5" height="5" fill="#f9efe9"/><rect x="246" y="312" width="10" height="5" fill="#dc9176"/><rect x="256" y="312" width="5" height="5" fill="#f6ddcf"/><rect x="261" y="312" width="15" height="5" fill="#eff2f6"/><rect x="276" y="312" width="5" height="5" fill="#f9efe9"/><rect x="281" y="312" width="10" height="5" fill="#ffffff"/><rect x="291" y="312" width="10" height="5" fill="#eff2f6"/><rect x="301" y="312" width="5" height="5" fill="#f9efe9"/><rect x="306" y="312" width="20" height="5" fill="#eff2f6"/><rect x="326" y="312" width="5" height="5" fill="#f9efe9"/><rect x="331" y="312" width="5" height="5" fill="#f6ddcf"/><rect x="336" y="312" width="5" height="5" fill="#f9efe9"/><rect x="341" y="312" width="5" height="5" fill="#eff2f6"/><rect x="346" y="312" width="5" height="5" fill="#c3d9ee"/><rect x="351" y="312" width="25" height="5" fill="#eff2f6"/><rect x="46" y="317" width="65" height="5" fill="#f6ddcf"/><rect x="111" y="317" width="5" height="5" fill="#eff2f6"/><rect x="116" y="317" width="20" height="5" fill="#c3d9ee"/><rect x="136" y="317" width="10" height="5" fill="#eff2f6"/><rect x="146" y="317" width="5" height="5" fill="#f9efe9"/><rect x="151" y="317" width="5" height="5" fill="#f6ddcf"/><rect x="156" y="317" width="5" height="5" fill="#f9efe9"/><rect x="161" y="317" width="5" height="5" fill="#eff2f6"/><rect x="166" y="317" width="5" height="5" fill="#f9efe9"/><rect x="171" y="317" width="5" height="5" fill="#eff2f6"/><rect x="176" y="317" width="10" height="5" fill="#c3d9ee"/><rect x="186" y="317" width="10" height="5" fill="#eff2f6"/><rect x="196" y="317" width="5" height="5" fill="#f6ddcf"/><rect x="201" y="317" width="5" height="5" fill="#f9efe9"/><rect x="206" y="317" width="40" height="5" fill="#eff2f6"/><rect x="246" y="317" width="10" height="5" fill="#f6ddcf"/><rect x="256" y="317" width="5" height="5" fill="#f9efe9"/><rect x="261" y="317" width="20" height="5" fill="#eff2f6"/><rect x="281" y="317" width="5" height="5" fill="#ffffff"/><rect x="286" y="317" width="15" height="5" fill="#eff2f6"/><rect x="301" y="317" width="5" height="5" fill="#f6ddcf"/><rect x="306" y="317" width="55" height="5" fill="#eff2f6"/><rect x="361" y="317" width="15" height="5" fill="#c3d9ee"/><rect x="46" y="322" width="55" height="5" fill="#f6ddcf"/><rect x="101" y="322" width="5" height="5" fill="#f9efe9"/><rect x="106" y="322" width="5" height="5" fill="#eff2f6"/><rect x="111" y="322" width="5" height="5" fill="#c3d9ee"/><rect x="116" y="322" width="20" height="5" fill="#aac8e5"/><rect x="136" y="322" width="5" height="5" fill="#c3d9ee"/><rect x="141" y="322" width="5" height="5" fill="#eff2f6"/><rect x="146" y="322" width="5" height="5" fill="#f9efe9"/><rect x="151" y="322" width="5" height="5" fill="#f6ddcf"/><rect x="156" y="322" width="5" height="5" fill="#f9efe9"/><rect x="161" y="322" width="5" height="5" fill="#eff2f6"/><rect x="166" y="322" width="5" height="5" fill="#f6ddcf"/><rect x="171" y="322" width="5" height="5" fill="#f9efe9"/><rect x="176" y="322" width="10" height="5" fill="#eff2f6"/><rect x="186" y="322" width="15" height="5" fill="#f9efe9"/><rect x="201" y="322" width="95" height="5" fill="#eff2f6"/><rect x="296" y="322" width="5" height="5" fill="#c3d9ee"/><rect x="301" y="322" width="5" height="5" fill="#f9efe9"/><rect x="306" y="322" width="15" height="5" fill="#eff2f6"/><rect x="321" y="322" width="5" height="5" fill="#f9efe9"/><rect x="326" y="322" width="10" height="5" fill="#f6ddcf"/><rect x="336" y="322" width="40" height="5" fill="#eff2f6"/><rect x="46" y="327" width="55" height="5" fill="#f9efe9"/><rect x="101" y="327" width="10" height="5" fill="#eff2f6"/><rect x="111" y="327" width="5" height="5" fill="#c3d9ee"/><rect x="116" y="327" width="20" height="5" fill="#aac8e5"/><rect x="136" y="327" width="5" height="5" fill="#c3d9ee"/><rect x="141" y="327" width="10" height="5" fill="#eff2f6"/><rect x="151" y="327" width="5" height="5" fill="#f9efe9"/><rect x="156" y="327" width="10" height="5" fill="#eff2f6"/><rect x="166" y="327" width="15" height="5" fill="#f6ddcf"/><rect x="181" y="327" width="5" height="5" fill="#f9efe9"/><rect x="186" y="327" width="25" height="5" fill="#eff2f6"/><rect x="211" y="327" width="10" height="5" fill="#c3d9ee"/><rect x="221" y="327" width="55" height="5" fill="#eff2f6"/><rect x="276" y="327" width="10" height="5" fill="#c3d9ee"/><rect x="286" y="327" width="5" height="5" fill="#eff2f6"/><rect x="291" y="327" width="10" height="5" fill="#c3d9ee"/><rect x="301" y="327" width="20" height="5" fill="#eff2f6"/><rect x="321" y="327" width="15" height="5" fill="#f6ddcf"/><rect x="336" y="327" width="5" height="5" fill="#f9efe9"/><rect x="341" y="327" width="35" height="5" fill="#eff2f6"/><rect x="46" y="332" width="50" height="5" fill="#f9efe9"/><rect x="96" y="332" width="20" height="5" fill="#eff2f6"/><rect x="116" y="332" width="5" height="5" fill="#c3d9ee"/><rect x="121" y="332" width="10" height="5" fill="#aac8e5"/><rect x="131" y="332" width="10" height="5" fill="#c3d9ee"/><rect x="141" y="332" width="25" height="5" fill="#eff2f6"/><rect x="166" y="332" width="15" height="5" fill="#f6ddcf"/><rect x="181" y="332" width="10" height="5" fill="#f9efe9"/><rect x="191" y="332" width="35" height="5" fill="#eff2f6"/><rect x="226" y="332" width="10" height="5" fill="#c3d9ee"/><rect x="236" y="332" width="40" height="5" fill="#eff2f6"/><rect x="276" y="332" width="25" height="5" fill="#c3d9ee"/><rect x="301" y="332" width="5" height="5" fill="#eff2f6"/><rect x="306" y="332" width="5" height="5" fill="#f9efe9"/><rect x="311" y="332" width="10" height="5" fill="#eff2f6"/><rect x="321" y="332" width="5" height="5" fill="#f6ddcf"/><rect x="326" y="332" width="5" height="5" fill="#f0c6af"/><rect x="331" y="332" width="5" height="5" fill="#f6ddcf"/><rect x="336" y="332" width="5" height="5" fill="#f9efe9"/><rect x="341" y="332" width="5" height="5" fill="#eff2f6"/><rect x="346" y="332" width="10" height="5" fill="#f9efe9"/><rect x="356" y="332" width="20" height="5" fill="#eff2f6"/><rect x="46" y="337" width="45" height="5" fill="#f9efe9"/><rect x="91" y="337" width="60" height="5" fill="#eff2f6"/><rect x="151" y="337" width="10" height="5" fill="#f9efe9"/><rect x="161" y="337" width="5" height="5" fill="#eff2f6"/><rect x="166" y="337" width="20" height="5" fill="#f6ddcf"/><rect x="186" y="337" width="15" height="5" fill="#f9efe9"/><rect x="201" y="337" width="5" height="5" fill="#eff2f6"/><rect x="206" y="337" width="15" height="5" fill="#f6ddcf"/><rect x="221" y="337" width="65" height="5" fill="#eff2f6"/><rect x="286" y="337" width="10" height="5" fill="#c3d9ee"/><rect x="296" y="337" width="10" height="5" fill="#eff2f6"/><rect x="306" y="337" width="5" height="5" fill="#f6ddcf"/><rect x="311" y="337" width="5" height="5" fill="#f9efe9"/><rect x="316" y="337" width="5" height="5" fill="#eff2f6"/><rect x="321" y="337" width="10" height="5" fill="#f6ddcf"/><rect x="331" y="337" width="5" height="5" fill="#f9efe9"/><rect x="336" y="337" width="40" height="5" fill="#eff2f6"/><rect x="46" y="342" width="45" height="5" fill="#f9efe9"/><rect x="91" y="342" width="10" height="5" fill="#eff2f6"/><rect x="101" y="342" width="30" height="5" fill="#f9efe9"/><rect x="131" y="342" width="35" height="5" fill="#f6ddcf"/><rect x="166" y="342" width="10" height="5" fill="#f9efe9"/><rect x="176" y="342" width="15" height="5" fill="#f6ddcf"/><rect x="191" y="342" width="5" height="5" fill="#f0c6af"/><rect x="196" y="342" width="5" height="5" fill="#f6ddcf"/><rect x="201" y="342" width="10" height="5" fill="#f9efe9"/><rect x="211" y="342" width="15" height="5" fill="#f6ddcf"/><rect x="226" y="342" width="30" height="5" fill="#f9efe9"/><rect x="256" y="342" width="30" height="5" fill="#eff2f6"/><rect x="286" y="342" width="10" height="5" fill="#f9efe9"/><rect x="296" y="342" width="10" height="5" fill="#f6ddcf"/><rect x="306" y="342" width="10" height="5" fill="#f9efe9"/><rect x="316" y="342" width="10" height="5" fill="#eff2f6"/><rect x="326" y="342" width="5" height="5" fill="#f9efe9"/><rect x="331" y="342" width="45" height="5" fill="#eff2f6"/><rect x="46" y="347" width="45" height="5" fill="#f9efe9"/><rect x="91" y="347" width="10" height="5" fill="#eff2f6"/><rect x="101" y="347" width="25" height="5" fill="#f9efe9"/><rect x="126" y="347" width="15" height="5" fill="#f6ddcf"/><rect x="141" y="347" width="20" height="5" fill="#f0c6af"/><rect x="161" y="347" width="30" height="5" fill="#f6ddcf"/><rect x="191" y="347" width="10" height="5" fill="#f0c6af"/><rect x="201" y="347" width="15" height="5" fill="#f6ddcf"/><rect x="216" y="347" width="50" height="5" fill="#f9efe9"/><rect x="266" y="347" width="30" height="5" fill="#eff2f6"/><rect x="296" y="347" width="15" height="5" fill="#f9efe9"/><rect x="311" y="347" width="30" height="5" fill="#eff2f6"/><rect x="341" y="347" width="10" height="5" fill="#f6ddcf"/><rect x="351" y="347" width="5" height="5" fill="#eff2f6"/><rect x="356" y="347" width="20" height="5" fill="#c3d9ee"/><rect x="46" y="352" width="45" height="5" fill="#f9efe9"/><rect x="91" y="352" width="10" height="5" fill="#eff2f6"/><rect x="101" y="352" width="5" height="5" fill="#f9efe9"/><rect x="106" y="352" width="5" height="5" fill="#f6ddcf"/><rect x="111" y="352" width="5" height="5" fill="#f9efe9"/><rect x="116" y="352" width="5" height="5" fill="#f6ddcf"/><rect x="121" y="352" width="10" height="5" fill="#f9efe9"/><rect x="131" y="352" width="10" height="5" fill="#f6ddcf"/><rect x="141" y="352" width="5" height="5" fill="#f0c6af"/><rect x="146" y="352" width="5" height="5" fill="#dc9176"/><rect x="151" y="352" width="5" height="5" fill="#f0c6af"/><rect x="156" y="352" width="25" height="5" fill="#f6ddcf"/><rect x="181" y="352" width="10" height="5" fill="#f0c6af"/><rect x="191" y="352" width="5" height="5" fill="#dc9176"/><rect x="196" y="352" width="5" height="5" fill="#f0c6af"/><rect x="201" y="352" width="5" height="5" fill="#f6ddcf"/><rect x="206" y="352" width="10" height="5" fill="#f9efe9"/><rect x="216" y="352" width="20" height="5" fill="#f6ddcf"/><rect x="236" y="352" width="45" height="5" fill="#f9efe9"/><rect x="281" y="352" width="15" height="5" fill="#eff2f6"/><rect x="296" y="352" width="10" height="5" fill="#f9efe9"/><rect x="306" y="352" width="25" height="5" fill="#eff2f6"/><rect x="331" y="352" width="10" height="5" fill="#f9efe9"/><rect x="341" y="352" width="5" height="5" fill="#f0c6af"/><rect x="346" y="352" width="5" height="5" fill="#f6ddcf"/><rect x="351" y="352" width="5" height="5" fill="#eff2f6"/><rect x="356" y="352" width="20" height="5" fill="#c3d9ee"/><rect x="46" y="357" width="45" height="5" fill="#f9efe9"/><rect x="91" y="357" width="10" height="5" fill="#eff2f6"/><rect x="101" y="357" width="5" height="5" fill="#f9efe9"/><rect x="106" y="357" width="10" height="5" fill="#f6ddcf"/><rect x="116" y="357" width="10" height="5" fill="#f9efe9"/><rect x="126" y="357" width="15" height="5" fill="#f6ddcf"/><rect x="141" y="357" width="15" height="5" fill="#f0c6af"/><rect x="156" y="357" width="10" height="5" fill="#f6ddcf"/><rect x="166" y="357" width="10" height="5" fill="#f0c6af"/><rect x="176" y="357" width="5" height="5" fill="#f6ddcf"/><rect x="181" y="357" width="10" height="5" fill="#f0c6af"/><rect x="191" y="357" width="5" height="5" fill="#dc9176"/><rect x="196" y="357" width="5" height="5" fill="#f0c6af"/><rect x="201" y="357" width="5" height="5" fill="#f6ddcf"/><rect x="206" y="357" width="5" height="5" fill="#f9efe9"/><rect x="211" y="357" width="15" height="5" fill="#f6ddcf"/><rect x="226" y="357" width="10" height="5" fill="#f0c6af"/><rect x="236" y="357" width="5" height="5" fill="#f6ddcf"/><rect x="241" y="357" width="10" height="5" fill="#f9efe9"/><rect x="251" y="357" width="20" height="5" fill="#f6ddcf"/><rect x="271" y="357" width="10" height="5" fill="#f9efe9"/><rect x="281" y="357" width="15" height="5" fill="#eff2f6"/><rect x="296" y="357" width="5" height="5" fill="#f9efe9"/><rect x="301" y="357" width="15" height="5" fill="#eff2f6"/><rect x="316" y="357" width="10" height="5" fill="#f9efe9"/><rect x="326" y="357" width="5" height="5" fill="#eff2f6"/><rect x="331" y="357" width="10" height="5" fill="#f9efe9"/><rect x="341" y="357" width="5" height="5" fill="#f0c6af"/><rect x="346" y="357" width="5" height="5" fill="#f6ddcf"/><rect x="351" y="357" width="5" height="5" fill="#eff2f6"/><rect x="356" y="357" width="20" height="5" fill="#c3d9ee"/><rect x="46" y="362" width="45" height="5" fill="#f9efe9"/><rect x="91" y="362" width="10" height="5" fill="#eff2f6"/><rect x="101" y="362" width="5" height="5" fill="#f9efe9"/><rect x="106" y="362" width="10" height="5" fill="#f6ddcf"/><rect x="116" y="362" width="5" height="5" fill="#f9efe9"/><rect x="121" y="362" width="25" height="5" fill="#f6ddcf"/><rect x="146" y="362" width="10" height="5" fill="#f0c6af"/><rect x="156" y="362" width="10" height="5" fill="#f6ddcf"/><rect x="166" y="362" width="5" height="5" fill="#f0c6af"/><rect x="171" y="362" width="15" height="5" fill="#f6ddcf"/><rect x="186" y="362" width="15" height="5" fill="#f0c6af"/><rect x="201" y="362" width="5" height="5" fill="#f6ddcf"/><rect x="206" y="362" width="5" height="5" fill="#f9efe9"/><rect x="211" y="362" width="15" height="5" fill="#f6ddcf"/><rect x="226" y="362" width="10" height="5" fill="#f0c6af"/><rect x="236" y="362" width="5" height="5" fill="#f6ddcf"/><rect x="241" y="362" width="10" height="5" fill="#f9efe9"/><rect x="251" y="362" width="5" height="5" fill="#f6ddcf"/><rect x="256" y="362" width="15" height="5" fill="#f0c6af"/><rect x="271" y="362" width="5" height="5" fill="#f6ddcf"/><rect x="276" y="362" width="5" height="5" fill="#f9efe9"/><rect x="281" y="362" width="10" height="5" fill="#eff2f6"/><rect x="291" y="362" width="10" height="5" fill="#f9efe9"/><rect x="301" y="362" width="20" height="5" fill="#eff2f6"/><rect x="321" y="362" width="5" height="5" fill="#f9efe9"/><rect x="326" y="362" width="5" height="5" fill="#eff2f6"/><rect x="331" y="362" width="10" height="5" fill="#f9efe9"/><rect x="341" y="362" width="5" height="5" fill="#f6ddcf"/><rect x="346" y="362" width="5" height="5" fill="#f9efe9"/><rect x="351" y="362" width="10" height="5" fill="#eff2f6"/><rect x="361" y="362" width="15" height="5" fill="#c3d9ee"/><rect x="46" y="367" width="45" height="5" fill="#f9efe9"/><rect x="91" y="367" width="5" height="5" fill="#eff2f6"/><rect x="96" y="367" width="10" height="5" fill="#f9efe9"/><rect x="106" y="367" width="5" height="5" fill="#f6ddcf"/><rect x="111" y="367" width="5" height="5" fill="#f9efe9"/><rect x="116" y="367" width="15" height="5" fill="#f6ddcf"/><rect x="131" y="367" width="5" height="5" fill="#f0c6af"/><rect x="136" y="367" width="5" height="5" fill="#f6ddcf"/><rect x="141" y="367" width="15" height="5" fill="#f0c6af"/><rect x="156" y="367" width="30" height="5" fill="#f6ddcf"/><rect x="186" y="367" width="10" height="5" fill="#f0c6af"/><rect x="196" y="367" width="35" height="5" fill="#f6ddcf"/><rect x="231" y="367" width="15" height="5" fill="#f9efe9"/><rect x="246" y="367" width="10" height="5" fill="#f6ddcf"/><rect x="256" y="367" width="5" height="5" fill="#f0c6af"/><rect x="261" y="367" width="5" height="5" fill="#dc9176"/><rect x="266" y="367" width="5" height="5" fill="#f0c6af"/><rect x="271" y="367" width="5" height="5" fill="#f6ddcf"/><rect x="276" y="367" width="5" height="5" fill="#f9efe9"/><rect x="281" y="367" width="5" height="5" fill="#eff2f6"/><rect x="286" y="367" width="10" height="5" fill="#f9efe9"/><rect x="296" y="367" width="5" height="5" fill="#f6ddcf"/><rect x="301" y="367" width="5" height="5" fill="#f9efe9"/><rect x="306" y="367" width="10" height="5" fill="#eff2f6"/><rect x="316" y="367" width="20" height="5" fill="#f9efe9"/><rect x="336" y="367" width="5" height="5" fill="#eff2f6"/><rect x="341" y="367" width="5" height="5" fill="#f9efe9"/><rect x="346" y="367" width="30" height="5" fill="#eff2f6"/><rect x="46" y="372" width="45" height="5" fill="#f9efe9"/><rect x="91" y="372" width="5" height="5" fill="#eff2f6"/><rect x="96" y="372" width="5" height="5" fill="#f9efe9"/><rect x="101" y="372" width="5" height="5" fill="#eff2f6"/><rect x="106" y="372" width="5" height="5" fill="#f9efe9"/><rect x="111" y="372" width="15" height="5" fill="#f6ddcf"/><rect x="126" y="372" width="5" height="5" fill="#f0c6af"/><rect x="131" y="372" width="5" height="5" fill="#f6ddcf"/><rect x="136" y="372" width="5" height="5" fill="#f0c6af"/><rect x="141" y="372" width="5" height="5" fill="#f6ddcf"/><rect x="146" y="372" width="10" height="5" fill="#f0c6af"/><rect x="156" y="372" width="15" height="5" fill="#f6ddcf"/><rect x="171" y="372" width="10" height="5" fill="#f9efe9"/><rect x="181" y="372" width="35" height="5" fill="#f6ddcf"/><rect x="216" y="372" width="5" height="5" fill="#f0c6af"/><rect x="221" y="372" width="10" height="5" fill="#f6ddcf"/><rect x="231" y="372" width="15" height="5" fill="#f9efe9"/><rect x="246" y="372" width="5" height="5" fill="#f6ddcf"/><rect x="251" y="372" width="5" height="5" fill="#f0c6af"/><rect x="256" y="372" width="15" height="5" fill="#dc9176"/><rect x="271" y="372" width="5" height="5" fill="#f6ddcf"/><rect x="276" y="372" width="15" height="5" fill="#f9efe9"/><rect x="291" y="372" width="15" height="5" fill="#f6ddcf"/><rect x="306" y="372" width="20" height="5" fill="#f9efe9"/><rect x="326" y="372" width="5" height="5" fill="#f6ddcf"/><rect x="331" y="372" width="10" height="5" fill="#f9efe9"/><rect x="341" y="372" width="5" height="5" fill="#eff2f6"/><rect x="346" y="372" width="10" height="5" fill="#f9efe9"/><rect x="356" y="372" width="20" height="5" fill="#eff2f6"/><rect x="46" y="377" width="50" height="5" fill="#f6ddcf"/><rect x="96" y="377" width="5" height="5" fill="#f9efe9"/><rect x="101" y="377" width="5" height="5" fill="#eff2f6"/><rect x="106" y="377" width="5" height="5" fill="#f9efe9"/><rect x="111" y="377" width="5" height="5" fill="#f6ddcf"/><rect x="116" y="377" width="15" height="5" fill="#f0c6af"/><rect x="131" y="377" width="30" height="5" fill="#f6ddcf"/><rect x="161" y="377" width="10" height="5" fill="#f0c6af"/><rect x="171" y="377" width="5" height="5" fill="#f6ddcf"/><rect x="176" y="377" width="5" height="5" fill="#f9efe9"/><rect x="181" y="377" width="25" height="5" fill="#f6ddcf"/><rect x="206" y="377" width="5" height="5" fill="#f0c6af"/><rect x="211" y="377" width="5" height="5" fill="#dc9176"/><rect x="216" y="377" width="5" height="5" fill="#f0c6af"/><rect x="221" y="377" width="10" height="5" fill="#f6ddcf"/><rect x="231" y="377" width="15" height="5" fill="#f9efe9"/><rect x="246" y="377" width="5" height="5" fill="#f6ddcf"/><rect x="251" y="377" width="5" height="5" fill="#f0c6af"/><rect x="256" y="377" width="10" height="5" fill="#dc9176"/><rect x="266" y="377" width="5" height="5" fill="#f0c6af"/><rect x="271" y="377" width="5" height="5" fill="#f6ddcf"/><rect x="276" y="377" width="10" height="5" fill="#f9efe9"/><rect x="286" y="377" width="10" height="5" fill="#f6ddcf"/><rect x="296" y="377" width="5" height="5" fill="#f0c6af"/><rect x="301" y="377" width="10" height="5" fill="#f6ddcf"/><rect x="311" y="377" width="20" height="5" fill="#f9efe9"/><rect x="331" y="377" width="5" height="5" fill="#f6ddcf"/><rect x="336" y="377" width="20" height="5" fill="#f9efe9"/><rect x="356" y="377" width="20" height="5" fill="#eff2f6"/><rect x="46" y="382" width="55" height="5" fill="#f6ddcf"/><rect x="101" y="382" width="5" height="5" fill="#f9efe9"/><rect x="106" y="382" width="10" height="5" fill="#f6ddcf"/><rect x="116" y="382" width="35" height="5" fill="#f0c6af"/><rect x="151" y="382" width="15" height="5" fill="#f6ddcf"/><rect x="166" y="382" width="10" height="5" fill="#f0c6af"/><rect x="176" y="382" width="30" height="5" fill="#f6ddcf"/><rect x="206" y="382" width="5" height="5" fill="#f0c6af"/><rect x="211" y="382" width="5" height="5" fill="#dc9176"/><rect x="216" y="382" width="5" height="5" fill="#f0c6af"/><rect x="221" y="382" width="35" height="5" fill="#f6ddcf"/><rect x="256" y="382" width="15" height="5" fill="#f0c6af"/><rect x="271" y="382" width="5" height="5" fill="#f6ddcf"/><rect x="276" y="382" width="15" height="5" fill="#f9efe9"/><rect x="291" y="382" width="15" height="5" fill="#f6ddcf"/><rect x="306" y="382" width="10" height="5" fill="#f9efe9"/><rect x="316" y="382" width="25" height="5" fill="#f6ddcf"/><rect x="341" y="382" width="15" height="5" fill="#f9efe9"/><rect x="356" y="382" width="20" height="5" fill="#eff2f6"/><rect x="46" y="387" width="215" height="5" fill="#f6ddcf"/><rect x="261" y="387" width="5" height="5" fill="#f0c6af"/><rect x="266" y="387" width="10" height="5" fill="#f6ddcf"/><rect x="276" y="387" width="35" height="5" fill="#f9efe9"/><rect x="311" y="387" width="5" height="5" fill="#f6ddcf"/><rect x="316" y="387" width="15" height="5" fill="#f0c6af"/><rect x="331" y="387" width="5" height="5" fill="#f6ddcf"/><rect x="336" y="387" width="15" height="5" fill="#f9efe9"/><rect x="351" y="387" width="25" height="5" fill="#eff2f6"/><rect x="46" y="392" width="55" height="5" fill="#f6ddcf"/><rect x="101" y="392" width="5" height="5" fill="#f9efe9"/><rect x="106" y="392" width="15" height="5" fill="#f6ddcf"/><rect x="121" y="392" width="5" height="5" fill="#f9efe9"/><rect x="126" y="392" width="10" height="5" fill="#f6ddcf"/><rect x="136" y="392" width="5" height="5" fill="#f9efe9"/><rect x="141" y="392" width="10" height="5" fill="#f6ddcf"/><rect x="151" y="392" width="5" height="5" fill="#eff2f6"/><rect x="156" y="392" width="20" height="5" fill="#f6ddcf"/><rect x="176" y="392" width="15" height="5" fill="#f0c6af"/><rect x="191" y="392" width="10" height="5" fill="#f6ddcf"/><rect x="201" y="392" width="25" height="5" fill="#f9efe9"/><rect x="226" y="392" width="10" height="5" fill="#f6ddcf"/><rect x="236" y="392" width="15" height="5" fill="#f9efe9"/><rect x="251" y="392" width="5" height="5" fill="#f6ddcf"/><rect x="256" y="392" width="10" height="5" fill="#f0c6af"/><rect x="266" y="392" width="5" height="5" fill="#f6ddcf"/><rect x="271" y="392" width="5" height="5" fill="#f9efe9"/><rect x="276" y="392" width="15" height="5" fill="#eff2f6"/><rect x="291" y="392" width="20" height="5" fill="#f9efe9"/><rect x="311" y="392" width="5" height="5" fill="#f6ddcf"/><rect x="316" y="392" width="15" height="5" fill="#f0c6af"/><rect x="331" y="392" width="5" height="5" fill="#f6ddcf"/><rect x="336" y="392" width="5" height="5" fill="#f9efe9"/><rect x="341" y="392" width="35" height="5" fill="#eff2f6"/><rect x="46" y="397" width="55" height="5" fill="#f6ddcf"/><rect x="101" y="397" width="5" height="5" fill="#f9efe9"/><rect x="106" y="397" width="5" height="5" fill="#f6ddcf"/><rect x="111" y="397" width="10" height="5" fill="#f9efe9"/><rect x="121" y="397" width="10" height="5" fill="#f6ddcf"/><rect x="131" y="397" width="5" height="5" fill="#f9efe9"/><rect x="136" y="397" width="5" height="5" fill="#f6ddcf"/><rect x="141" y="397" width="10" height="5" fill="#f9efe9"/><rect x="151" y="397" width="5" height="5" fill="#eff2f6"/><rect x="156" y="397" width="10" height="5" fill="#f9efe9"/><rect x="166" y="397" width="10" height="5" fill="#f6ddcf"/><rect x="176" y="397" width="15" height="5" fill="#f0c6af"/><rect x="191" y="397" width="5" height="5" fill="#f6ddcf"/><rect x="196" y="397" width="10" height="5" fill="#f9efe9"/><rect x="206" y="397" width="15" height="5" fill="#eff2f6"/><rect x="221" y="397" width="5" height="5" fill="#f9efe9"/><rect x="226" y="397" width="10" height="5" fill="#f6ddcf"/><rect x="236" y="397" width="15" height="5" fill="#f9efe9"/><rect x="251" y="397" width="20" height="5" fill="#f6ddcf"/><rect x="271" y="397" width="5" height="5" fill="#f9efe9"/><rect x="276" y="397" width="15" height="5" fill="#eff2f6"/><rect x="291" y="397" width="15" height="5" fill="#f9efe9"/><rect x="306" y="397" width="25" height="5" fill="#f6ddcf"/><rect x="331" y="397" width="10" height="5" fill="#f9efe9"/><rect x="341" y="397" width="35" height="5" fill="#eff2f6"/><rect x="46" y="402" width="60" height="5" fill="#f6ddcf"/><rect x="106" y="402" width="10" height="5" fill="#f9efe9"/><rect x="116" y="402" width="5" height="5" fill="#f6ddcf"/><rect x="121" y="402" width="10" height="5" fill="#f9efe9"/><rect x="131" y="402" width="25" height="5" fill="#eff2f6"/><rect x="156" y="402" width="15" height="5" fill="#f9efe9"/><rect x="171" y="402" width="10" height="5" fill="#f6ddcf"/><rect x="181" y="402" width="5" height="5" fill="#f0c6af"/><rect x="186" y="402" width="5" height="5" fill="#f6ddcf"/><rect x="191" y="402" width="10" height="5" fill="#f9efe9"/><rect x="201" y="402" width="25" height="5" fill="#eff2f6"/><rect x="226" y="402" width="5" height="5" fill="#f9efe9"/><rect x="231" y="402" width="10" height="5" fill="#f6ddcf"/><rect x="241" y="402" width="25" height="5" fill="#f9efe9"/><rect x="266" y="402" width="10" height="5" fill="#eff2f6"/><rect x="276" y="402" width="5" height="5" fill="#c3d9ee"/><rect x="281" y="402" width="5" height="5" fill="#eff2f6"/><rect x="286" y="402" width="5" height="5" fill="#f9efe9"/><rect x="291" y="402" width="25" height="5" fill="#f6ddcf"/><rect x="316" y="402" width="10" height="5" fill="#f9efe9"/><rect x="326" y="402" width="50" height="5" fill="#eff2f6"/><rect x="46" y="407" width="70" height="5" fill="#f6ddcf"/><rect x="116" y="407" width="5" height="5" fill="#f9efe9"/><rect x="121" y="407" width="15" height="5" fill="#eff2f6"/><rect x="136" y="407" width="5" height="5" fill="#c3d9ee"/><rect x="141" y="407" width="35" height="5" fill="#eff2f6"/><rect x="176" y="407" width="5" height="5" fill="#f9efe9"/><rect x="181" y="407" width="25" height="5" fill="#f6ddcf"/><rect x="206" y="407" width="5" height="5" fill="#f9efe9"/><rect x="211" y="407" width="20" height="5" fill="#eff2f6"/><rect x="231" y="407" width="5" height="5" fill="#f9efe9"/><rect x="236" y="407" width="5" height="5" fill="#f6ddcf"/><rect x="241" y="407" width="5" height="5" fill="#f9efe9"/><rect x="246" y="407" width="10" height="5" fill="#eff2f6"/><rect x="256" y="407" width="5" height="5" fill="#f9efe9"/><rect x="261" y="407" width="15" height="5" fill="#eff2f6"/><rect x="276" y="407" width="5" height="5" fill="#f9efe9"/><rect x="281" y="407" width="10" height="5" fill="#f6ddcf"/><rect x="291" y="407" width="5" height="5" fill="#f0c6af"/><rect x="296" y="407" width="5" height="5" fill="#dc9176"/><rect x="301" y="407" width="5" height="5" fill="#d0765f"/><rect x="306" y="407" width="10" height="5" fill="#dc9176"/><rect x="316" y="407" width="5" height="5" fill="#f6ddcf"/><rect x="321" y="407" width="5" height="5" fill="#f9efe9"/><rect x="326" y="407" width="50" height="5" fill="#eff2f6"/><rect x="46" y="412" width="70" height="5" fill="#f6ddcf"/><rect x="116" y="412" width="5" height="5" fill="#f9efe9"/><rect x="121" y="412" width="5" height="5" fill="#eff2f6"/><rect x="126" y="412" width="10" height="5" fill="#c3d9ee"/><rect x="136" y="412" width="40" height="5" fill="#eff2f6"/><rect x="176" y="412" width="10" height="5" fill="#f9efe9"/><rect x="186" y="412" width="10" height="5" fill="#f6ddcf"/><rect x="196" y="412" width="5" height="5" fill="#f9efe9"/><rect x="201" y="412" width="35" height="5" fill="#eff2f6"/><rect x="236" y="412" width="10" height="5" fill="#f6ddcf"/><rect x="246" y="412" width="5" height="5" fill="#c3d9ee"/><rect x="251" y="412" width="5" height="5" fill="#eff2f6"/><rect x="256" y="412" width="10" height="5" fill="#f9efe9"/><rect x="266" y="412" width="5" height="5" fill="#c3d9ee"/><rect x="271" y="412" width="10" height="5" fill="#eff2f6"/><rect x="281" y="412" width="5" height="5" fill="#f6ddcf"/><rect x="286" y="412" width="5" height="5" fill="#f0c6af"/><rect x="291" y="412" width="5" height="5" fill="#d0765f"/><rect x="296" y="412" width="5" height="5" fill="#c45b4b"/><rect x="301" y="412" width="5" height="5" fill="#dc9176"/><rect x="306" y="412" width="15" height="5" fill="#f6ddcf"/><rect x="321" y="412" width="5" height="5" fill="#f9efe9"/><rect x="326" y="412" width="15" height="5" fill="#eff2f6"/><rect x="341" y="412" width="5" height="5" fill="#c3d9ee"/><rect x="346" y="412" width="30" height="5" fill="#eff2f6"/><rect x="46" y="417" width="70" height="5" fill="#f6ddcf"/><rect x="116" y="417" width="5" height="5" fill="#f9efe9"/><rect x="121" y="417" width="5" height="5" fill="#eff2f6"/><rect x="126" y="417" width="10" height="5" fill="#c3d9ee"/><rect x="136" y="417" width="40" height="5" fill="#eff2f6"/><rect x="176" y="417" width="10" height="5" fill="#f9efe9"/><rect x="186" y="417" width="10" height="5" fill="#f6ddcf"/><rect x="196" y="417" width="10" height="5" fill="#eff2f6"/><rect x="206" y="417" width="10" height="5" fill="#c3d9ee"/><rect x="216" y="417" width="20" height="5" fill="#eff2f6"/><rect x="236" y="417" width="5" height="5" fill="#f6ddcf"/><rect x="241" y="417" width="5" height="5" fill="#f0c6af"/><rect x="246" y="417" width="35" height="5" fill="#eff2f6"/><rect x="281" y="417" width="5" height="5" fill="#f6ddcf"/><rect x="286" y="417" width="15" height="5" fill="#f0c6af"/><rect x="301" y="417" width="5" height="5" fill="#f6ddcf"/><rect x="306" y="417" width="10" height="5" fill="#f9efe9"/><rect x="316" y="417" width="10" height="5" fill="#f6ddcf"/><rect x="326" y="417" width="5" height="5" fill="#f9efe9"/><rect x="331" y="417" width="45" height="5" fill="#eff2f6"/><rect x="46" y="422" width="70" height="5" fill="#f6ddcf"/><rect x="116" y="422" width="5" height="5" fill="#f9efe9"/><rect x="121" y="422" width="5" height="5" fill="#eff2f6"/><rect x="126" y="422" width="10" height="5" fill="#c3d9ee"/><rect x="136" y="422" width="40" height="5" fill="#eff2f6"/><rect x="176" y="422" width="10" height="5" fill="#f9efe9"/><rect x="186" y="422" width="5" height="5" fill="#f6ddcf"/><rect x="191" y="422" width="5" height="5" fill="#f9efe9"/><rect x="196" y="422" width="5" height="5" fill="#eff2f6"/><rect x="201" y="422" width="5" height="5" fill="#c3d9ee"/><rect x="206" y="422" width="5" height="5" fill="#aac8e5"/><rect x="211" y="422" width="5" height="5" fill="#c3d9ee"/><rect x="216" y="422" width="10" height="5" fill="#eff2f6"/><rect x="226" y="422" width="5" height="5" fill="#f9efe9"/><rect x="231" y="422" width="10" height="5" fill="#f6ddcf"/><rect x="241" y="422" width="5" height="5" fill="#f9efe9"/><rect x="246" y="422" width="10" height="5" fill="#eff2f6"/><rect x="256" y="422" width="10" height="5" fill="#c3d9ee"/><rect x="266" y="422" width="15" height="5" fill="#eff2f6"/><rect x="281" y="422" width="15" height="5" fill="#f6ddcf"/><rect x="296" y="422" width="10" height="5" fill="#f9efe9"/><rect x="306" y="422" width="5" height="5" fill="#f6ddcf"/><rect x="311" y="422" width="20" height="5" fill="#f9efe9"/><rect x="331" y="422" width="10" height="5" fill="#eff2f6"/><rect x="341" y="422" width="5" height="5" fill="#f9efe9"/><rect x="346" y="422" width="30" height="5" fill="#eff2f6"/><rect x="46" y="427" width="70" height="5" fill="#f6ddcf"/><rect x="116" y="427" width="5" height="5" fill="#f9efe9"/><rect x="121" y="427" width="5" height="5" fill="#eff2f6"/><rect x="126" y="427" width="10" height="5" fill="#c3d9ee"/><rect x="136" y="427" width="40" height="5" fill="#eff2f6"/><rect x="176" y="427" width="15" height="5" fill="#f9efe9"/><rect x="191" y="427" width="10" height="5" fill="#eff2f6"/><rect x="201" y="427" width="5" height="5" fill="#c3d9ee"/><rect x="206" y="427" width="5" height="5" fill="#aac8e5"/><rect x="211" y="427" width="5" height="5" fill="#c3d9ee"/><rect x="216" y="427" width="10" height="5" fill="#eff2f6"/><rect x="226" y="427" width="5" height="5" fill="#f6ddcf"/><rect x="231" y="427" width="10" height="5" fill="#f0c6af"/><rect x="241" y="427" width="5" height="5" fill="#f6ddcf"/><rect x="246" y="427" width="5" height="5" fill="#f9efe9"/><rect x="251" y="427" width="5" height="5" fill="#eff2f6"/><rect x="256" y="427" width="5" height="5" fill="#c3d9ee"/><rect x="261" y="427" width="5" height="5" fill="#aac8e5"/><rect x="266" y="427" width="5" height="5" fill="#c3d9ee"/><rect x="271" y="427" width="5" height="5" fill="#eff2f6"/><rect x="276" y="427" width="5" height="5" fill="#f9efe9"/><rect x="281" y="427" width="5" height="5" fill="#f6ddcf"/><rect x="286" y="427" width="15" height="5" fill="#f9efe9"/><rect x="301" y="427" width="10" height="5" fill="#f6ddcf"/><rect x="311" y="427" width="10" height="5" fill="#f9efe9"/><rect x="321" y="427" width="10" height="5" fill="#f6ddcf"/><rect x="331" y="427" width="15" height="5" fill="#f9efe9"/><rect x="346" y="427" width="30" height="5" fill="#eff2f6"/><rect x="46" y="432" width="70" height="5" fill="#f6ddcf"/><rect x="116" y="432" width="5" height="5" fill="#f9efe9"/><rect x="121" y="432" width="5" height="5" fill="#eff2f6"/><rect x="126" y="432" width="10" height="5" fill="#c3d9ee"/><rect x="136" y="432" width="40" height="5" fill="#eff2f6"/><rect x="176" y="432" width="10" height="5" fill="#f9efe9"/><rect x="186" y="432" width="20" height="5" fill="#eff2f6"/><rect x="206" y="432" width="5" height="5" fill="#c3d9ee"/><rect x="211" y="432" width="15" height="5" fill="#eff2f6"/><rect x="226" y="432" width="5" height="5" fill="#f9efe9"/><rect x="231" y="432" width="5" height="5" fill="#f6ddcf"/><rect x="236" y="432" width="10" height="5" fill="#f0c6af"/><rect x="246" y="432" width="5" height="5" fill="#f6ddcf"/><rect x="251" y="432" width="10" height="5" fill="#eff2f6"/><rect x="261" y="432" width="5" height="5" fill="#c3d9ee"/><rect x="266" y="432" width="10" height="5" fill="#eff2f6"/><rect x="276" y="432" width="5" height="5" fill="#f6ddcf"/><rect x="281" y="432" width="5" height="5" fill="#f9efe9"/><rect x="286" y="432" width="10" height="5" fill="#ffffff"/><rect x="296" y="432" width="5" height="5" fill="#f9efe9"/><rect x="301" y="432" width="5" height="5" fill="#f6ddcf"/><rect x="306" y="432" width="5" height="5" fill="#f0c6af"/><rect x="311" y="432" width="10" height="5" fill="#f9efe9"/><rect x="321" y="432" width="10" height="5" fill="#f6ddcf"/><rect x="331" y="432" width="15" height="5" fill="#f9efe9"/><rect x="346" y="432" width="30" height="5" fill="#eff2f6"/><rect x="46" y="437" width="70" height="5" fill="#f6ddcf"/><rect x="116" y="437" width="5" height="5" fill="#f9efe9"/><rect x="121" y="437" width="5" height="5" fill="#eff2f6"/><rect x="126" y="437" width="10" height="5" fill="#c3d9ee"/><rect x="136" y="437" width="40" height="5" fill="#eff2f6"/><rect x="176" y="437" width="25" height="5" fill="#f9efe9"/><rect x="201" y="437" width="35" height="5" fill="#eff2f6"/><rect x="236" y="437" width="5" height="5" fill="#f6ddcf"/><rect x="241" y="437" width="5" height="5" fill="#f0c6af"/><rect x="246" y="437" width="5" height="5" fill="#f6ddcf"/><rect x="251" y="437" width="20" height="5" fill="#eff2f6"/><rect x="271" y="437" width="5" height="5" fill="#f9efe9"/><rect x="276" y="437" width="5" height="5" fill="#f0c6af"/><rect x="281" y="437" width="5" height="5" fill="#f9efe9"/><rect x="286" y="437" width="10" height="5" fill="#ffffff"/><rect x="296" y="437" width="5" height="5" fill="#f9efe9"/><rect x="301" y="437" width="10" height="5" fill="#f6ddcf"/><rect x="311" y="437" width="35" height="5" fill="#f9efe9"/><rect x="346" y="437" width="30" height="5" fill="#eff2f6"/><rect x="46" y="442" width="70" height="5" fill="#f6ddcf"/><rect x="116" y="442" width="5" height="5" fill="#f9efe9"/><rect x="121" y="442" width="5" height="5" fill="#eff2f6"/><rect x="126" y="442" width="10" height="5" fill="#c3d9ee"/><rect x="136" y="442" width="40" height="5" fill="#eff2f6"/><rect x="176" y="442" width="25" height="5" fill="#f9efe9"/><rect x="201" y="442" width="20" height="5" fill="#eff2f6"/><rect x="221" y="442" width="5" height="5" fill="#c3d9ee"/><rect x="226" y="442" width="10" height="5" fill="#eff2f6"/><rect x="236" y="442" width="5" height="5" fill="#f9efe9"/><rect x="241" y="442" width="5" height="5" fill="#f6ddcf"/><rect x="246" y="442" width="5" height="5" fill="#f9efe9"/><rect x="251" y="442" width="20" height="5" fill="#eff2f6"/><rect x="271" y="442" width="10" height="5" fill="#f6ddcf"/><rect x="281" y="442" width="65" height="5" fill="#f9efe9"/><rect x="346" y="442" width="30" height="5" fill="#eff2f6"/><rect x="46" y="447" width="70" height="5" fill="#f6ddcf"/><rect x="116" y="447" width="5" height="5" fill="#f9efe9"/><rect x="121" y="447" width="5" height="5" fill="#eff2f6"/><rect x="126" y="447" width="10" height="5" fill="#c3d9ee"/><rect x="136" y="447" width="40" height="5" fill="#eff2f6"/><rect x="176" y="447" width="25" height="5" fill="#f9efe9"/><rect x="201" y="447" width="20" height="5" fill="#eff2f6"/><rect x="221" y="447" width="5" height="5" fill="#c3d9ee"/><rect x="226" y="447" width="10" height="5" fill="#eff2f6"/><rect x="236" y="447" width="5" height="5" fill="#f9efe9"/><rect x="241" y="447" width="5" height="5" fill="#f6ddcf"/><rect x="246" y="447" width="5" height="5" fill="#f9efe9"/><rect x="251" y="447" width="20" height="5" fill="#eff2f6"/><rect x="271" y="447" width="10" height="5" fill="#f6ddcf"/><rect x="281" y="447" width="65" height="5" fill="#f9efe9"/><rect x="346" y="447" width="30" height="5" fill="#eff2f6"/><rect x="46" y="452" width="70" height="5" fill="#f6ddcf"/><rect x="116" y="452" width="5" height="5" fill="#f9efe9"/><rect x="121" y="452" width="5" height="5" fill="#eff2f6"/><rect x="126" y="452" width="10" height="5" fill="#c3d9ee"/><rect x="136" y="452" width="40" height="5" fill="#eff2f6"/><rect x="176" y="452" width="25" height="5" fill="#f9efe9"/><rect x="201" y="452" width="20" height="5" fill="#eff2f6"/><rect x="221" y="452" width="5" height="5" fill="#c3d9ee"/><rect x="226" y="452" width="10" height="5" fill="#eff2f6"/><rect x="236" y="452" width="5" height="5" fill="#f9efe9"/><rect x="241" y="452" width="5" height="5" fill="#f6ddcf"/><rect x="246" y="452" width="5" height="5" fill="#f9efe9"/><rect x="251" y="452" width="20" height="5" fill="#eff2f6"/><rect x="271" y="452" width="10" height="5" fill="#f6ddcf"/><rect x="281" y="452" width="65" height="5" fill="#f9efe9"/><rect x="346" y="452" width="30" height="5" fill="#eff2f6"/>

</g>
<rect x="284" y="311.5" width="6.5" height="6.5" fill="#fff"/>
<rect x="287.8" y="432.9" width="8" height="7.6" fill="#fff"/>
<rect x="89.5" y="315.5" width="4" height="4" fill="#fff"/>
</g>
<polygon points="266.0,259.0 266.7,268.0 267.7,270.9 269.7,274.9 271.7,278.9 275.6,280.8 279.6,282.3 283.6,282.8 287.5,281.8 291.5,282.8 295.4,281.8 299.4,280.8 303.4,280.3 307.3,281.3 306.3,284.8 305.3,288.8 304.3,294.0 301.8,298.5 300.3,302.4 297.8,303.9 292.9,303.9 289.9,302.9 285.0,301.9 280.0,303.2 275.6,303.6 270.7,302.6 265.7,301.1 259.8,300.1 254.9,298.7 249.9,296.7 245.9,296.7 242.0,298.3 240.4,301.5 237.7,305.7 234.6,306.2 228.2,304.1 221.9,301.0 215.5,297.8 209.2,295.7 204.7,294.8 202.4,292.3 201.2,290.0 203.4,285.9 203.1,281.8 203.7,279.6 201.8,279.6 200.2,278.3 196.4,278.0 192.6,279.3 188.8,278.6 185.0,278.3 179.6,279.8 171.1,280.3 162.7,281.4 155.3,284.0 149.8,287.3 144.9,285.7 138.4,284.9 135.2,283.2 133.6,285.7 128.7,289.7 123.8,294.6 119.8,299.5 118.1,306.0 114.9,310.8 109.2,314.9 104.0,319.0 100.1,322.2 96.9,326.9 93.7,331.7 90.6,336.4 88.7,342.7 89.0,347.5 91.4,350.7 91.8,357.0 90.6,363.3 88.2,368.1 86.3,371.2 87.7,373.6 89.0,377.6 90.9,380.7 93.7,385.5 96.5,387.8 99.3,389.7 102.4,393.0 104.3,398.3 109.0,402.1 114.7,405.9 121.4,411.6 126.2,413.5 133.8,411.6 139.5,410.2 145.2,411.1 149.9,412.1 154.7,410.2 160.4,409.2 165.2,406.8 170.0,406.0 177.1,406.5 180.4,410.9 183.1,414.2 188.5,413.4 192.9,412.5 196.1,415.8 198.9,419.1 198.3,424.5 197.2,430.0 194.5,434.9 195.6,437.6 198.3,442.0 202.7,447.4 205.0,455.0 318.0,455.0 321.4,447.3 325.0,440.2 330.3,433.9 335.7,428.6 342.8,422.3 348.2,417.9 353.5,413.4 358.9,408.1 363.3,401.8 366.0,398.0 370.0,398.0 370.0,384.0 363.3,384.0 357.1,385.8 349.9,387.5 341.9,388.4 338.4,384.9 335.7,379.5 331.5,374.5 325.5,369.5 320.0,364.5 317.5,359.5 313.3,354.4 311.7,346.0 309.7,341.5 306.7,337.6 304.8,334.6 303.8,330.6 301.3,323.7 298.3,317.3 302.8,316.3 306.7,321.7 310.7,326.7 312.7,330.6 315.6,333.6 318.1,337.6 319.6,342.0 322.8,344.9 327.5,349.7 332.3,357.6 334.6,363.9 335.2,367.0 335.7,371.5 336.6,379.5 342.8,378.6 351.7,375.9 358.9,373.3 363.3,371.8 370.0,370.0 370.0,321.0 362.2,319.7 359.2,316.1 356.8,311.4 356.3,310.2 359.2,307.8 362.8,308.4 370.0,308.5 370.0,277.5 362.2,277.5 359.8,273.3 362.2,269.2 370.0,269.0 370.0,259.0" fill="none" stroke="#333" stroke-width="1.15" stroke-linejoin="round"/>
<polygon points="119.8,259.0 119.8,271.9 122.5,275.9 123.0,279.7 128.7,280.0 135.2,283.2 138.4,281.3 144.9,280.0 150.0,278.7 154.2,276.1 157.4,272.4 158.5,269.2 157.9,267.6 157.5,259.0" fill="none" stroke="#333" stroke-width="1.15" stroke-linejoin="round"/>
<polygon points="241.5,259.0 241.5,268.0 244.0,272.9 246.9,277.9 249.9,281.3 252.9,281.3 253.4,278.9 255.8,275.9 257.3,274.4 254.9,271.9 253.9,269.5 252.9,268.0 253.0,259.0" fill="none" stroke="#333" stroke-width="1.15" stroke-linejoin="round"/>
<polygon points="223.4,259.0 223.4,268.0 224.0,271.0 224.6,274.5 226.5,273.0 229.4,269.8 228.8,259.0" fill="none" stroke="#333" stroke-width="1.15" stroke-linejoin="round"/>
<polygon points="209.7,275.5 210.0,276.7 215.0,278.5 220.5,280.9 221.5,277.4 223.0,275.5 220.5,274.5 214.8,274.5" fill="none" stroke="#333" stroke-width="1.15" stroke-linejoin="round"/>
<polygon points="193.2,259.0 193.2,268.2 193.6,270.7 195.1,271.7 197.0,270.7 198.6,270.4 198.3,268.2 198.3,259.0" fill="none" stroke="#333" stroke-width="1.15" stroke-linejoin="round"/>
<polygon points="255.5,286.3 258.0,285.4 262.0,286.0 266.7,286.5 265.0,288.0 260.0,288.0 256.5,287.6" fill="none" stroke="#333" stroke-width="1.15" stroke-linejoin="round"/>
<polygon points="291.5,288.5 293.0,286.8 296.0,286.3 298.5,285.6 300.4,285.3 299.0,287.0 296.0,288.5 293.0,289.3" fill="none" stroke="#333" stroke-width="1.15" stroke-linejoin="round"/>
<polyline points="291.9,308.9 294.5,312.5 298.3,317.3" fill="none" stroke="#333" stroke-width="1.3"/>
<polyline points="302.3,310.8 301.5,313.0 300.8,315.3 302.8,316.3" fill="none" stroke="#333" stroke-width="1.3"/>
</g>
<rect x="90.3" y="313.9" width="3.4" height="3.4" fill="#e4e9ef"/>
<rect x="92.8" y="349.7" width="213.7" height="41.3" fill="none" stroke="#3c3c3c" stroke-width="1.0"/>
<line x1="200" y1="349.7" x2="200" y2="391" stroke="#3c3c3c" stroke-width="1.0"/>
<circle cx="90.8" cy="379.2" r="1.2" fill="#000"/>
<circle cx="96.5" cy="379.2" r="1.2" fill="#000"/>
<circle cx="119.6" cy="379.2" r="1.2" fill="#000"/>
<circle cx="125.3" cy="379.2" r="1.2" fill="#000"/>
<circle cx="128.0" cy="385.0" r="1.2" fill="#000"/>
<circle cx="131.1" cy="379.2" r="1.2" fill="#000"/>
<circle cx="133.8" cy="385.0" r="1.2" fill="#000"/>
<circle cx="139.5" cy="292.8" r="1.2" fill="#000"/>
<circle cx="139.5" cy="385.0" r="1.2" fill="#000"/>
<circle cx="142.6" cy="379.2" r="1.2" fill="#000"/>
<circle cx="145.3" cy="373.4" r="1.2" fill="#000"/>
<circle cx="145.3" cy="385.0" r="1.2" fill="#000"/>
<circle cx="148.3" cy="356.2" r="1.2" fill="#000"/>
<circle cx="148.3" cy="367.7" r="1.2" fill="#000"/>
<circle cx="151.0" cy="350.4" r="1.2" fill="#000"/>
<circle cx="151.0" cy="361.9" r="1.2" fill="#000"/>
<circle cx="151.0" cy="385.0" r="1.2" fill="#000"/>
<circle cx="154.1" cy="356.2" r="1.2" fill="#000"/>
<circle cx="154.1" cy="367.7" r="1.2" fill="#000"/>
<circle cx="154.1" cy="390.7" r="1.2" fill="#000"/>
<circle cx="156.8" cy="373.4" r="1.2" fill="#000"/>
<circle cx="165.6" cy="379.2" r="1.2" fill="#000"/>
<circle cx="168.3" cy="361.9" r="1.2" fill="#000"/>
<circle cx="168.3" cy="385.0" r="1.2" fill="#000"/>
<circle cx="171.3" cy="379.2" r="1.2" fill="#000"/>
<circle cx="174.0" cy="385.0" r="1.2" fill="#000"/>
<circle cx="182.8" cy="356.2" r="1.2" fill="#000"/>
<circle cx="182.8" cy="367.7" r="1.2" fill="#000"/>
<circle cx="185.6" cy="350.4" r="1.2" fill="#000"/>
<circle cx="185.6" cy="361.9" r="1.2" fill="#000"/>
<circle cx="185.6" cy="396.5" r="1.2" fill="#000"/>
<circle cx="188.6" cy="356.2" r="1.2" fill="#000"/>
<circle cx="188.6" cy="402.2" r="1.2" fill="#000"/>
<circle cx="191.3" cy="350.4" r="1.2" fill="#000"/>
<circle cx="191.3" cy="361.9" r="1.2" fill="#000"/>
<circle cx="191.3" cy="396.5" r="1.2" fill="#000"/>
<circle cx="194.3" cy="356.2" r="1.2" fill="#000"/>
<circle cx="205.9" cy="379.2" r="1.2" fill="#000"/>
<circle cx="208.6" cy="350.4" r="1.2" fill="#000"/>
<circle cx="208.6" cy="385.0" r="1.2" fill="#000"/>
<circle cx="211.6" cy="379.2" r="1.2" fill="#000"/>
<circle cx="220.1" cy="373.4" r="1.2" fill="#000"/>
<circle cx="225.8" cy="361.9" r="1.2" fill="#000"/>
<circle cx="246.1" cy="436.8" r="1.2" fill="#000"/>
<circle cx="254.6" cy="385.0" r="1.2" fill="#000"/>
<circle cx="257.6" cy="379.2" r="1.2" fill="#000"/>
<circle cx="257.6" cy="390.7" r="1.2" fill="#000"/>
<circle cx="260.3" cy="373.4" r="1.2" fill="#000"/>
<circle cx="263.4" cy="367.7" r="1.2" fill="#000"/>
<circle cx="263.4" cy="379.2" r="1.2" fill="#000"/>
<circle cx="266.1" cy="373.4" r="1.2" fill="#000"/>
<circle cx="280.6" cy="436.8" r="1.2" fill="#000"/>
<circle cx="292.2" cy="413.8" r="1.2" fill="#000"/>
<circle cx="297.9" cy="413.8" r="1.2" fill="#000"/>
<circle cx="300.6" cy="408.0" r="1.2" fill="#000"/>
<circle cx="306.4" cy="408.0" r="1.2" fill="#000"/>
<circle cx="312.1" cy="408.0" r="1.2" fill="#000"/>
<rect x="56.4" y="267.2" width="307.8" height="180.10000000000002" fill="none" stroke="#000" stroke-width="1.3"/>
<line x1="162.7" y1="267.2" x2="162.7" y2="275.7" stroke="#000" stroke-width="1.3"/>
<line x1="162.7" y1="447.3" x2="162.7" y2="438.8" stroke="#000" stroke-width="1.3"/>
<line x1="281.0" y1="267.2" x2="281.0" y2="275.7" stroke="#000" stroke-width="1.3"/>
<line x1="281.0" y1="447.3" x2="281.0" y2="438.8" stroke="#000" stroke-width="1.3"/>
<line x1="56.4" y1="310.2" x2="64.9" y2="310.2" stroke="#000" stroke-width="1.3"/>
<line x1="364.2" y1="310.2" x2="355.7" y2="310.2" stroke="#000" stroke-width="1.3"/>
<text x="45.3" y="315.9" text-anchor="end" font-size="15.8">30</text>
<circle cx="47" cy="305.8" r="1.2" fill="none" stroke="#aaa" stroke-width="0.8"/>
<line x1="56.4" y1="431.3" x2="64.9" y2="431.3" stroke="#000" stroke-width="1.3"/>
<line x1="364.2" y1="431.3" x2="355.7" y2="431.3" stroke="#000" stroke-width="1.3"/>
<text x="45.3" y="437.0" text-anchor="end" font-size="15.8">0</text>
<circle cx="47" cy="426.9" r="1.2" fill="none" stroke="#aaa" stroke-width="0.8"/>
<rect x="62.6" y="271.7" width="30" height="31.4" fill="#fff" stroke="#000" stroke-width="1.3"/>
<text x="77.7" y="294.6" text-anchor="middle" font-size="19.5" font-weight="bold">b</text>
<text transform="translate(13.2,356.4) rotate(-90)" text-anchor="middle" font-size="15.7">Degrees latitude</text>
<text x="165.7" y="466.9" text-anchor="end" font-size="15.8">0</text>
<circle cx="167.3" cy="456.4" r="1.2" fill="none" stroke="#aaa" stroke-width="0.8"/>
<text x="288.9" y="466.9" text-anchor="end" font-size="15.8">30</text>
<circle cx="290.6" cy="456.4" r="1.2" fill="none" stroke="#aaa" stroke-width="0.8"/>
<text x="210.6" y="487.6" text-anchor="middle" font-size="15.6">Degrees longitude</text>
<line x1="458.6" y1="141.6" x2="943.5" y2="141.6" stroke="#000" stroke-width="1.3"/>
<polyline points="494.3,68.6 512.1,78.9 539.0,117.6 565.8,123.7 583.7,154.5 601.5,189.5 628.4,155.2 655.2,241.4 673.1,209.2 690.9,154.3 717.8,151.5 744.6,157.6 762.5,156.5 780.3,134.7 807.2,116.1 834.0,148.0 851.9,137.1 869.7,132.6 896.6,126.8 923.4,119.1 932.3,104.5" fill="none" stroke="#c62230" stroke-width="1.7" stroke-linejoin="round" stroke-linecap="round" />
<circle cx="494.3" cy="68.6" r="2.6" fill="#c62230"/><circle cx="512.1" cy="78.9" r="2.6" fill="#c62230"/><circle cx="539.0" cy="117.6" r="2.6" fill="#c62230"/><circle cx="565.8" cy="123.7" r="2.6" fill="#c62230"/><circle cx="583.7" cy="154.5" r="2.6" fill="#c62230"/><circle cx="601.5" cy="189.5" r="2.6" fill="#c62230"/><circle cx="628.4" cy="155.2" r="2.6" fill="#c62230"/><circle cx="655.2" cy="241.4" r="2.6" fill="#c62230"/><circle cx="673.1" cy="209.2" r="2.6" fill="#c62230"/><circle cx="690.9" cy="154.3" r="2.6" fill="#c62230"/><circle cx="717.8" cy="151.5" r="2.6" fill="#c62230"/><circle cx="744.6" cy="157.6" r="2.6" fill="#c62230"/><circle cx="762.5" cy="156.5" r="2.6" fill="#c62230"/><circle cx="780.3" cy="134.7" r="2.6" fill="#c62230"/><circle cx="807.2" cy="116.1" r="2.6" fill="#c62230"/><circle cx="834.0" cy="148.0" r="2.6" fill="#c62230"/><circle cx="851.9" cy="137.1" r="2.6" fill="#c62230"/><circle cx="869.7" cy="132.6" r="2.6" fill="#c62230"/><circle cx="896.6" cy="126.8" r="2.6" fill="#c62230"/><circle cx="923.4" cy="119.1" r="2.6" fill="#c62230"/><circle cx="932.3" cy="104.5" r="2.6" fill="#c62230"/>
<polyline points="494.3,87.1 512.1,97.4 539.0,127.3 565.8,179.2 583.7,163.4 601.5,135.8 628.4,155.2 655.2,193.1 673.1,231.4 690.9,216.5 717.8,169.5 744.6,185.6 762.5,132.1 780.3,142.9 807.2,128.8 834.0,153.4 851.9,152.0 869.7,136.5 896.6,128.2 923.4,128.8 932.3,136.9" fill="none" stroke="#000" stroke-width="2.8" stroke-linejoin="round" stroke-linecap="round" />
<circle cx="494.3" cy="87.1" r="2.6" fill="#000"/><circle cx="512.1" cy="97.4" r="2.6" fill="#000"/><circle cx="539.0" cy="127.3" r="2.6" fill="#000"/><circle cx="565.8" cy="179.2" r="2.6" fill="#000"/><circle cx="583.7" cy="163.4" r="2.6" fill="#000"/><circle cx="601.5" cy="135.8" r="2.6" fill="#000"/><circle cx="628.4" cy="155.2" r="2.6" fill="#000"/><circle cx="655.2" cy="193.1" r="2.6" fill="#000"/><circle cx="673.1" cy="231.4" r="2.6" fill="#000"/><circle cx="690.9" cy="216.5" r="2.6" fill="#000"/><circle cx="717.8" cy="169.5" r="2.6" fill="#000"/><circle cx="744.6" cy="185.6" r="2.6" fill="#000"/><circle cx="762.5" cy="132.1" r="2.6" fill="#000"/><circle cx="780.3" cy="142.9" r="2.6" fill="#000"/><circle cx="807.2" cy="128.8" r="2.6" fill="#000"/><circle cx="834.0" cy="153.4" r="2.6" fill="#000"/><circle cx="851.9" cy="152.0" r="2.6" fill="#000"/><circle cx="869.7" cy="136.5" r="2.6" fill="#000"/><circle cx="896.6" cy="128.2" r="2.6" fill="#000"/><circle cx="923.4" cy="128.8" r="2.6" fill="#000"/><circle cx="932.3" cy="136.9" r="2.6" fill="#000"/>
<rect x="458.6" y="62.5" width="484.9" height="182.8" fill="none" stroke="#000" stroke-width="1.3"/>
<line x1="547.9" y1="62.5" x2="547.9" y2="66.5" stroke="#000" stroke-width="1.3"/>
<line x1="547.9" y1="245.3" x2="547.9" y2="241.3" stroke="#000" stroke-width="1.3"/>
<line x1="637.3" y1="62.5" x2="637.3" y2="66.5" stroke="#000" stroke-width="1.3"/>
<line x1="637.3" y1="245.3" x2="637.3" y2="241.3" stroke="#000" stroke-width="1.3"/>
<line x1="726.7" y1="62.5" x2="726.7" y2="66.5" stroke="#000" stroke-width="1.3"/>
<line x1="726.7" y1="245.3" x2="726.7" y2="241.3" stroke="#000" stroke-width="1.3"/>
<line x1="816.1" y1="62.5" x2="816.1" y2="66.5" stroke="#000" stroke-width="1.3"/>
<line x1="816.1" y1="245.3" x2="816.1" y2="241.3" stroke="#000" stroke-width="1.3"/>
<line x1="905.5" y1="62.5" x2="905.5" y2="66.5" stroke="#000" stroke-width="1.3"/>
<line x1="905.5" y1="245.3" x2="905.5" y2="241.3" stroke="#000" stroke-width="1.3"/>
<line x1="458.6" y1="62.5" x2="462.6" y2="62.5" stroke="#000" stroke-width="1.3"/>
<line x1="943.5" y1="62.5" x2="939.5" y2="62.5" stroke="#000" stroke-width="1.3"/>
<text x="451.6" y="67.2" text-anchor="end" font-size="15.2">2</text>
<line x1="458.6" y1="102.0" x2="462.6" y2="102.0" stroke="#000" stroke-width="1.3"/>
<line x1="943.5" y1="102.0" x2="939.5" y2="102.0" stroke="#000" stroke-width="1.3"/>
<text x="451.6" y="106.8" text-anchor="end" font-size="15.2">1</text>
<line x1="458.6" y1="141.6" x2="462.6" y2="141.6" stroke="#000" stroke-width="1.3"/>
<line x1="943.5" y1="141.6" x2="939.5" y2="141.6" stroke="#000" stroke-width="1.3"/>
<text x="451.6" y="146.3" text-anchor="end" font-size="15.2">0</text>
<line x1="458.6" y1="181.1" x2="462.6" y2="181.1" stroke="#000" stroke-width="1.3"/>
<line x1="943.5" y1="181.1" x2="939.5" y2="181.1" stroke="#000" stroke-width="1.3"/>
<text x="451.6" y="185.8" text-anchor="end" font-size="15.2">−1</text>
<line x1="458.6" y1="220.7" x2="462.6" y2="220.7" stroke="#000" stroke-width="1.3"/>
<line x1="943.5" y1="220.7" x2="939.5" y2="220.7" stroke="#000" stroke-width="1.3"/>
<text x="451.6" y="225.4" text-anchor="end" font-size="15.2">−2</text>
<line x1="730.7" y1="78.6" x2="757.5" y2="78.6" stroke="#c62230" stroke-width="1.8"/>
<line x1="730.7" y1="103" x2="757.5" y2="103" stroke="#000" stroke-width="2.4"/>
<text x="763.2" y="82.3" font-size="13.6">DePreSys3 (Year 2-5)</text>
<text x="763.2" y="106.8" font-size="13.6">GPCC</text>
<text x="474" y="237" font-size="13.6"><tspan font-style="italic">r</tspan> = 0.73 (0.54, 0.87)</text>
<rect x="903.3" y="208.7" width="29.1" height="30.1" fill="#fff" stroke="#000" stroke-width="1.3"/>
<text x="917.9" y="231" text-anchor="middle" font-size="19" font-weight="bold">c</text>
<text transform="translate(399.5,154) rotate(-90)" text-anchor="middle" font-size="15.7">Normalized Sahel</text>
<text transform="translate(418.2,154) rotate(-90)" text-anchor="middle" font-size="15.4">precipitation</text>
<defs><clipPath id="dclip"><rect x="458.6" y="261.5" width="484.9" height="197.10000000000002"/></clipPath></defs>
<line x1="458.6" y1="360.3" x2="943.5" y2="360.3" stroke="#000" stroke-width="1.3"/>
<g clip-path="url(#dclip)">
<polyline points="467.6,270.3 484.9,320.8 497.9,272.2 511.0,344.5 524.0,298.3 527.6,371.5 549.6,324.0 561.2,419.0 573.3,399.0 587.4,310.8 597.3,314.2 600.8,377.0 622.6,339.8 628.5,369.5 646.1,353.4" fill="none" stroke="#c3c3c3" stroke-width="2.6" stroke-linejoin="round" stroke-linecap="round" />
<polyline points="467.4,348.7 485.3,291.2 512.1,286.8 539.0,377.7 556.8,330.3 574.7,357.8 601.5,357.8 628.4,373.5 646.2,353.3 655.2,452.9 664.1,457.5 673.1,374.2 682.0,367.1 690.9,352.9 699.9,392.7 708.8,360.0 717.8,335.3 726.7,375.8 735.6,363.8 744.6,412.7 753.5,409.7 762.5,375.7 771.4,351.5 780.3,385.0 789.3,398.5 798.2,312.5 807.2,279.5 816.1,342.5 825.0,371.0 834.0,363.7 842.9,357.7 851.9,359.3 860.8,374.4 869.7,360.2 887.6,278.5 896.6,350.1 905.5,384.0 914.4,341.2 923.4,296.2 932.3,410.9 941.3,355.8" fill="none" stroke="#c62230" stroke-width="1.7" stroke-linejoin="round" stroke-linecap="round" />
<circle cx="467.4" cy="348.7" r="2.6" fill="#c62230"/><circle cx="485.3" cy="291.2" r="2.6" fill="#c62230"/><circle cx="512.1" cy="286.8" r="2.6" fill="#c62230"/><circle cx="539.0" cy="377.7" r="2.6" fill="#c62230"/><circle cx="556.8" cy="330.3" r="2.6" fill="#c62230"/><circle cx="574.7" cy="357.8" r="2.6" fill="#c62230"/><circle cx="601.5" cy="357.8" r="2.6" fill="#c62230"/><circle cx="628.4" cy="373.5" r="2.6" fill="#c62230"/><circle cx="646.2" cy="353.3" r="2.6" fill="#c62230"/><circle cx="655.2" cy="452.9" r="2.6" fill="#c62230"/><circle cx="664.1" cy="457.5" r="2.6" fill="#c62230"/><circle cx="673.1" cy="374.2" r="2.6" fill="#c62230"/><circle cx="682.0" cy="367.1" r="2.6" fill="#c62230"/><circle cx="690.9" cy="352.9" r="2.6" fill="#c62230"/><circle cx="699.9" cy="392.7" r="2.6" fill="#c62230"/><circle cx="708.8" cy="360.0" r="2.6" fill="#c62230"/><circle cx="717.8" cy="335.3" r="2.6" fill="#c62230"/><circle cx="726.7" cy="375.8" r="2.6" fill="#c62230"/><circle cx="735.6" cy="363.8" r="2.6" fill="#c62230"/><circle cx="744.6" cy="412.7" r="2.6" fill="#c62230"/><circle cx="753.5" cy="409.7" r="2.6" fill="#c62230"/><circle cx="762.5" cy="375.7" r="2.6" fill="#c62230"/><circle cx="771.4" cy="351.5" r="2.6" fill="#c62230"/><circle cx="780.3" cy="385.0" r="2.6" fill="#c62230"/><circle cx="789.3" cy="398.5" r="2.6" fill="#c62230"/><circle cx="798.2" cy="312.5" r="2.6" fill="#c62230"/><circle cx="807.2" cy="279.5" r="2.6" fill="#c62230"/><circle cx="816.1" cy="342.5" r="2.6" fill="#c62230"/><circle cx="825.0" cy="371.0" r="2.6" fill="#c62230"/><circle cx="834.0" cy="363.7" r="2.6" fill="#c62230"/><circle cx="842.9" cy="357.7" r="2.6" fill="#c62230"/><circle cx="851.9" cy="359.3" r="2.6" fill="#c62230"/><circle cx="860.8" cy="374.4" r="2.6" fill="#c62230"/><circle cx="869.7" cy="360.2" r="2.6" fill="#c62230"/><circle cx="887.6" cy="278.5" r="2.6" fill="#c62230"/><circle cx="896.6" cy="350.1" r="2.6" fill="#c62230"/><circle cx="905.5" cy="384.0" r="2.6" fill="#c62230"/><circle cx="914.4" cy="341.2" r="2.6" fill="#c62230"/><circle cx="923.4" cy="296.2" r="2.6" fill="#c62230"/><circle cx="932.3" cy="410.9" r="2.6" fill="#c62230"/><circle cx="941.3" cy="355.8" r="2.6" fill="#c62230"/>
<polyline points="467.4,269.8 485.3,324.5 512.1,348.6 539.0,336.2 556.8,345.3 574.7,396.5 601.5,379.8 646.2,364.2 655.2,399.5 664.1,419.5 673.1,452.4 682.0,378.2 690.9,366.3 699.9,415.2 708.8,297.5 717.8,357.4 726.7,410.6 735.6,380.3 744.6,360.0 753.5,383.1 762.5,277.7 771.4,357.2 780.3,385.0 789.3,394.0 798.2,312.5 807.2,286.3 816.1,385.3 825.0,361.5 834.0,398.5 842.9,314.0 851.9,386.8 860.8,356.6 869.7,336.4 878.7,331.6 887.6,356.4 896.6,365.9 905.5,342.8 914.4,394.4 923.4,303.8 932.3,360.9 941.3,361.8" fill="none" stroke="#000" stroke-width="2.8" stroke-linejoin="round" stroke-linecap="round" />
<circle cx="467.4" cy="269.8" r="2.6" fill="#000"/><circle cx="485.3" cy="324.5" r="2.6" fill="#000"/><circle cx="512.1" cy="348.6" r="2.6" fill="#000"/><circle cx="539.0" cy="336.2" r="2.6" fill="#000"/><circle cx="556.8" cy="345.3" r="2.6" fill="#000"/><circle cx="574.7" cy="396.5" r="2.6" fill="#000"/><circle cx="601.5" cy="379.8" r="2.6" fill="#000"/><circle cx="646.2" cy="364.2" r="2.6" fill="#000"/><circle cx="655.2" cy="399.5" r="2.6" fill="#000"/><circle cx="664.1" cy="419.5" r="2.6" fill="#000"/><circle cx="673.1" cy="452.4" r="2.6" fill="#000"/><circle cx="682.0" cy="378.2" r="2.6" fill="#000"/><circle cx="690.9" cy="366.3" r="2.6" fill="#000"/><circle cx="699.9" cy="415.2" r="2.6" fill="#000"/><circle cx="708.8" cy="297.5" r="2.6" fill="#000"/><circle cx="717.8" cy="357.4" r="2.6" fill="#000"/><circle cx="726.7" cy="410.6" r="2.6" fill="#000"/><circle cx="735.6" cy="380.3" r="2.6" fill="#000"/><circle cx="744.6" cy="360.0" r="2.6" fill="#000"/><circle cx="753.5" cy="383.1" r="2.6" fill="#000"/><circle cx="762.5" cy="277.7" r="2.6" fill="#000"/><circle cx="771.4" cy="357.2" r="2.6" fill="#000"/><circle cx="780.3" cy="385.0" r="2.6" fill="#000"/><circle cx="789.3" cy="394.0" r="2.6" fill="#000"/><circle cx="798.2" cy="312.5" r="2.6" fill="#000"/><circle cx="807.2" cy="286.3" r="2.6" fill="#000"/><circle cx="816.1" cy="385.3" r="2.6" fill="#000"/><circle cx="825.0" cy="361.5" r="2.6" fill="#000"/><circle cx="834.0" cy="398.5" r="2.6" fill="#000"/><circle cx="842.9" cy="314.0" r="2.6" fill="#000"/><circle cx="851.9" cy="386.8" r="2.6" fill="#000"/><circle cx="860.8" cy="356.6" r="2.6" fill="#000"/><circle cx="869.7" cy="336.4" r="2.6" fill="#000"/><circle cx="878.7" cy="331.6" r="2.6" fill="#000"/><circle cx="887.6" cy="356.4" r="2.6" fill="#000"/><circle cx="896.6" cy="365.9" r="2.6" fill="#000"/><circle cx="905.5" cy="342.8" r="2.6" fill="#000"/><circle cx="914.4" cy="394.4" r="2.6" fill="#000"/><circle cx="923.4" cy="303.8" r="2.6" fill="#000"/><circle cx="932.3" cy="360.9" r="2.6" fill="#000"/><circle cx="941.3" cy="361.8" r="2.6" fill="#000"/>
</g>
<rect x="458.6" y="261.5" width="484.9" height="197.10000000000002" fill="none" stroke="#000" stroke-width="1.3"/>
<line x1="547.9" y1="261.5" x2="547.9" y2="265.5" stroke="#000" stroke-width="1.3"/>
<line x1="547.9" y1="458.6" x2="547.9" y2="454.6" stroke="#000" stroke-width="1.3"/>
<line x1="637.3" y1="261.5" x2="637.3" y2="265.5" stroke="#000" stroke-width="1.3"/>
<line x1="637.3" y1="458.6" x2="637.3" y2="454.6" stroke="#000" stroke-width="1.3"/>
<line x1="726.7" y1="261.5" x2="726.7" y2="265.5" stroke="#000" stroke-width="1.3"/>
<line x1="726.7" y1="458.6" x2="726.7" y2="454.6" stroke="#000" stroke-width="1.3"/>
<line x1="816.1" y1="261.5" x2="816.1" y2="265.5" stroke="#000" stroke-width="1.3"/>
<line x1="816.1" y1="458.6" x2="816.1" y2="454.6" stroke="#000" stroke-width="1.3"/>
<line x1="905.5" y1="261.5" x2="905.5" y2="265.5" stroke="#000" stroke-width="1.3"/>
<line x1="905.5" y1="458.6" x2="905.5" y2="454.6" stroke="#000" stroke-width="1.3"/>
<text x="458.5" y="478" text-anchor="middle" font-size="15.2">1960</text>
<text x="547.9" y="478" text-anchor="middle" font-size="15.2">1970</text>
<text x="637.3" y="478" text-anchor="middle" font-size="15.2">1980</text>
<text x="726.7" y="478" text-anchor="middle" font-size="15.2">1990</text>
<text x="816.1" y="478" text-anchor="middle" font-size="15.2">2000</text>
<text x="905.5" y="478" text-anchor="middle" font-size="15.2">2010</text>
<line x1="458.6" y1="281.1" x2="462.6" y2="281.1" stroke="#000" stroke-width="1.3"/>
<line x1="943.5" y1="281.1" x2="939.5" y2="281.1" stroke="#000" stroke-width="1.3"/>
<text x="451.6" y="285.8" text-anchor="end" font-size="15.2">2</text>
<line x1="458.6" y1="320.7" x2="462.6" y2="320.7" stroke="#000" stroke-width="1.3"/>
<line x1="943.5" y1="320.7" x2="939.5" y2="320.7" stroke="#000" stroke-width="1.3"/>
<text x="451.6" y="325.4" text-anchor="end" font-size="15.2">1</text>
<line x1="458.6" y1="360.3" x2="462.6" y2="360.3" stroke="#000" stroke-width="1.3"/>
<line x1="943.5" y1="360.3" x2="939.5" y2="360.3" stroke="#000" stroke-width="1.3"/>
<text x="451.6" y="365.0" text-anchor="end" font-size="15.2">0</text>
<line x1="458.6" y1="399.9" x2="462.6" y2="399.9" stroke="#000" stroke-width="1.3"/>
<line x1="943.5" y1="399.9" x2="939.5" y2="399.9" stroke="#000" stroke-width="1.3"/>
<text x="451.6" y="404.6" text-anchor="end" font-size="15.2">−1</text>
<line x1="458.6" y1="439.5" x2="462.6" y2="439.5" stroke="#000" stroke-width="1.3"/>
<line x1="943.5" y1="439.5" x2="939.5" y2="439.5" stroke="#000" stroke-width="1.3"/>
<text x="451.6" y="444.2" text-anchor="end" font-size="15.2">−2</text>
<line x1="730.7" y1="423.9" x2="757.5" y2="423.9" stroke="#c62230" stroke-width="1.8"/>
<line x1="730.7" y1="444.2" x2="757.5" y2="444.2" stroke="#000" stroke-width="2.4"/>
<text x="763.2" y="428.6" font-size="13.6">DePreSys3 (Year 1)</text>
<text x="763.2" y="448.9" font-size="13.6">GPCC</text>
<text x="474" y="452" font-size="13.6"><tspan font-style="italic">r</tspan> = 0.48 (0.27, 0.60)</text>
<rect x="910.4" y="425" width="29" height="29.5" fill="#fff" stroke="#000" stroke-width="1.3"/>
<text x="924.9" y="447" text-anchor="middle" font-size="19" font-weight="bold">d</text>
<text transform="translate(399.5,359.6) rotate(-90)" text-anchor="middle" font-size="15.7">Normalized Sahel</text>
<text transform="translate(418.2,359.6) rotate(-90)" text-anchor="middle" font-size="15.4">precipitation</text>
<text x="701.6" y="500.6" text-anchor="middle" font-size="15.4">Year</text>
</svg></body></html>
